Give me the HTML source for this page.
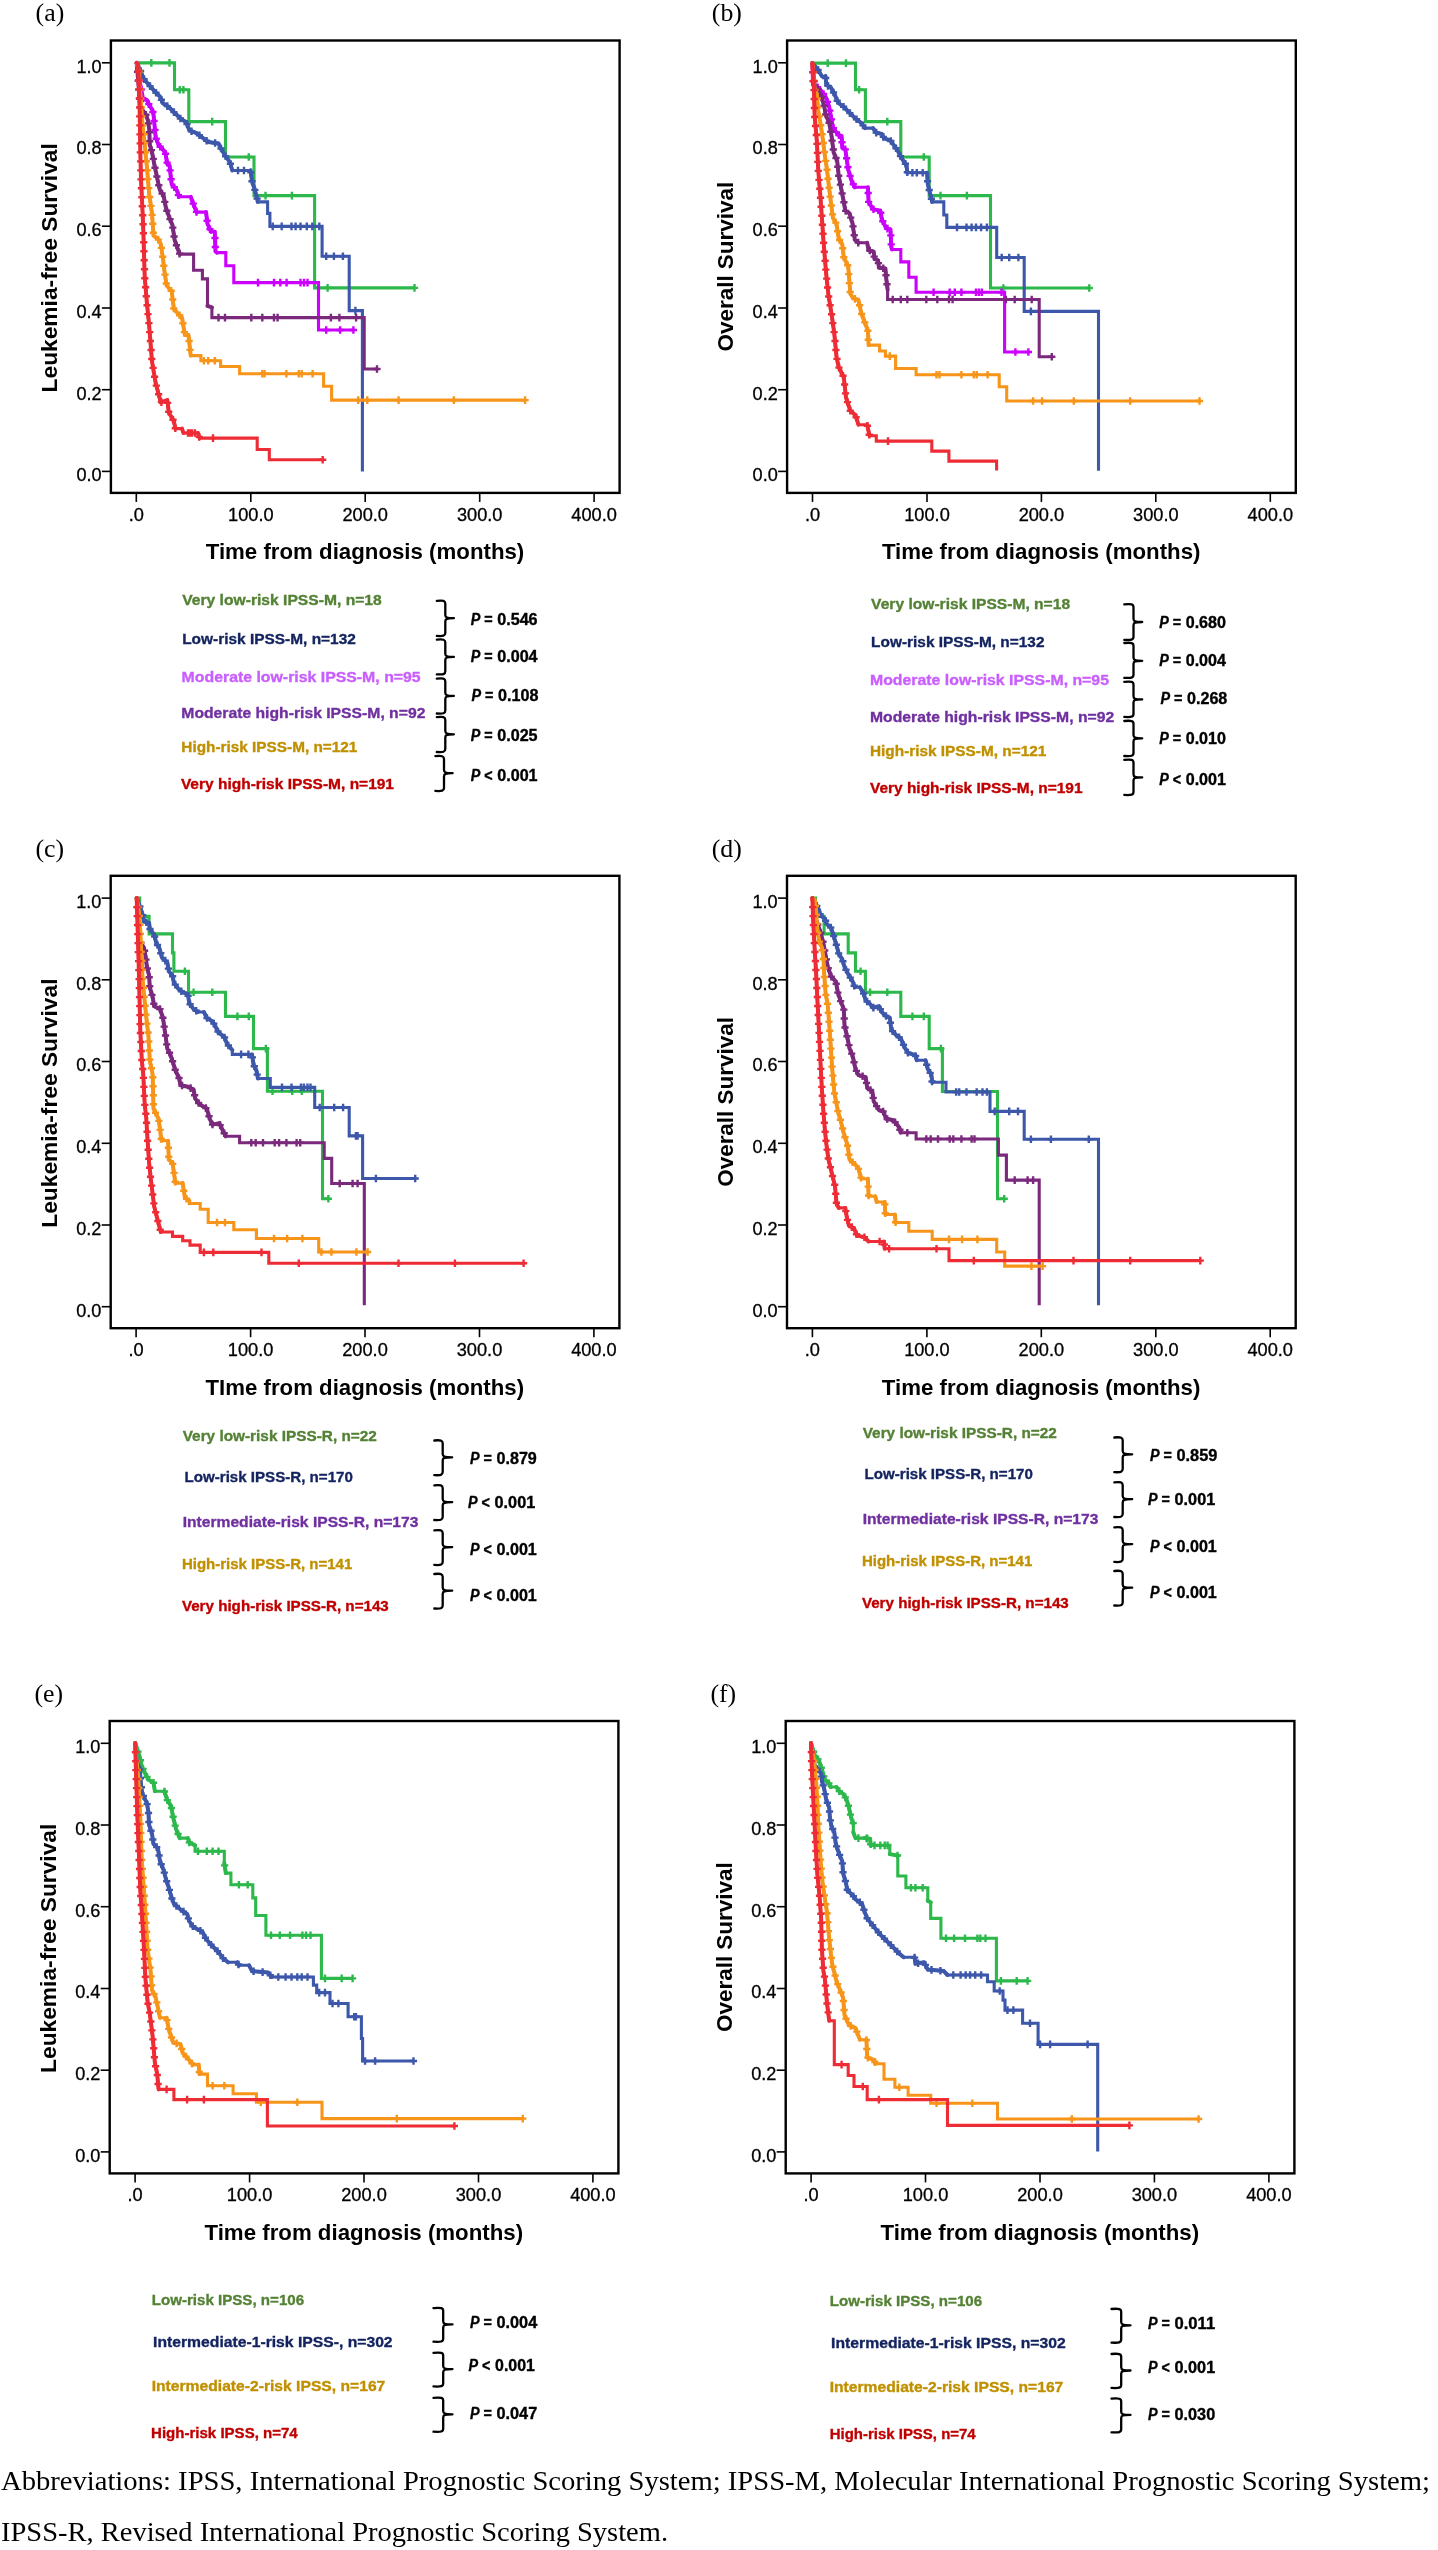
<!DOCTYPE html>
<html><head><meta charset="utf-8"><style>
html,body{margin:0;padding:0;background:#fff;}
body{width:1438px;height:2550px;overflow:hidden;}
svg{display:block;will-change:transform;}
</style></head><body>
<svg width="1438" height="2550" viewBox="0 0 1438 2550">
<rect width="1438" height="2550" fill="#fff"/>
<rect x="110.9" y="40.5" width="508.70000000000005" height="452.4" fill="none" stroke="#000" stroke-width="2.4"/>
<line x1="101.9" y1="471.4" x2="110.9" y2="471.4" stroke="#000" stroke-width="1.6"/>
<text x="101.6" y="481.3" font-family='"Liberation Sans", sans-serif' font-size="18.2" font-weight="normal" fill="#000" text-anchor="end" textLength="25.2" lengthAdjust="spacingAndGlyphs" stroke="#000" stroke-width="0.3">0.0</text>
<line x1="101.9" y1="389.7" x2="110.9" y2="389.7" stroke="#000" stroke-width="1.6"/>
<text x="101.6" y="399.6" font-family='"Liberation Sans", sans-serif' font-size="18.2" font-weight="normal" fill="#000" text-anchor="end" textLength="25.2" lengthAdjust="spacingAndGlyphs" stroke="#000" stroke-width="0.3">0.2</text>
<line x1="101.9" y1="308.0" x2="110.9" y2="308.0" stroke="#000" stroke-width="1.6"/>
<text x="101.6" y="317.9" font-family='"Liberation Sans", sans-serif' font-size="18.2" font-weight="normal" fill="#000" text-anchor="end" textLength="25.2" lengthAdjust="spacingAndGlyphs" stroke="#000" stroke-width="0.3">0.4</text>
<line x1="101.9" y1="226.2" x2="110.9" y2="226.2" stroke="#000" stroke-width="1.6"/>
<text x="101.6" y="236.1" font-family='"Liberation Sans", sans-serif' font-size="18.2" font-weight="normal" fill="#000" text-anchor="end" textLength="25.2" lengthAdjust="spacingAndGlyphs" stroke="#000" stroke-width="0.3">0.6</text>
<line x1="101.9" y1="144.5" x2="110.9" y2="144.5" stroke="#000" stroke-width="1.6"/>
<text x="101.6" y="154.4" font-family='"Liberation Sans", sans-serif' font-size="18.2" font-weight="normal" fill="#000" text-anchor="end" textLength="25.2" lengthAdjust="spacingAndGlyphs" stroke="#000" stroke-width="0.3">0.8</text>
<line x1="101.9" y1="62.8" x2="110.9" y2="62.8" stroke="#000" stroke-width="1.6"/>
<text x="101.6" y="72.7" font-family='"Liberation Sans", sans-serif' font-size="18.2" font-weight="normal" fill="#000" text-anchor="end" textLength="25.2" lengthAdjust="spacingAndGlyphs" stroke="#000" stroke-width="0.3">1.0</text>
<line x1="136.3" y1="492.9" x2="136.3" y2="501.9" stroke="#000" stroke-width="1.6"/>
<text x="136.3" y="520.9" font-family='"Liberation Sans", sans-serif' font-size="18.2" font-weight="normal" fill="#000" text-anchor="middle" stroke="#000" stroke-width="0.3">.0</text>
<line x1="250.8" y1="492.9" x2="250.8" y2="501.9" stroke="#000" stroke-width="1.6"/>
<text x="250.8" y="520.9" font-family='"Liberation Sans", sans-serif' font-size="18.2" font-weight="normal" fill="#000" text-anchor="middle" textLength="45.5" lengthAdjust="spacingAndGlyphs" stroke="#000" stroke-width="0.3">100.0</text>
<line x1="365.2" y1="492.9" x2="365.2" y2="501.9" stroke="#000" stroke-width="1.6"/>
<text x="365.2" y="520.9" font-family='"Liberation Sans", sans-serif' font-size="18.2" font-weight="normal" fill="#000" text-anchor="middle" textLength="45.5" lengthAdjust="spacingAndGlyphs" stroke="#000" stroke-width="0.3">200.0</text>
<line x1="479.7" y1="492.9" x2="479.7" y2="501.9" stroke="#000" stroke-width="1.6"/>
<text x="479.7" y="520.9" font-family='"Liberation Sans", sans-serif' font-size="18.2" font-weight="normal" fill="#000" text-anchor="middle" textLength="45.5" lengthAdjust="spacingAndGlyphs" stroke="#000" stroke-width="0.3">300.0</text>
<line x1="594.1" y1="492.9" x2="594.1" y2="501.9" stroke="#000" stroke-width="1.6"/>
<text x="594.1" y="520.9" font-family='"Liberation Sans", sans-serif' font-size="18.2" font-weight="normal" fill="#000" text-anchor="middle" textLength="45.5" lengthAdjust="spacingAndGlyphs" stroke="#000" stroke-width="0.3">400.0</text>
<text x="205.7" y="559.2" font-family='"Liberation Sans", sans-serif' font-size="22.4" font-weight="bold" fill="#000" text-anchor="start" textLength="318.6" lengthAdjust="spacingAndGlyphs" >Time from diagnosis (months)</text>
<g transform="translate(56.9,392.4) rotate(-90)">
<text x="0" y="0" font-family='"Liberation Sans", sans-serif' font-size="22.6" font-weight="bold" fill="#000" text-anchor="start" textLength="249.2" lengthAdjust="spacingAndGlyphs" >Leukemia-free Survival</text>
</g>
<text x="35.6" y="21.4" font-family='"Liberation Serif", serif' font-size="25.8" font-weight="normal" fill="#000" text-anchor="start" >(a)</text>
<rect x="787.1" y="40.5" width="508.70000000000016" height="452.4" fill="none" stroke="#000" stroke-width="2.4"/>
<line x1="778.1" y1="471.4" x2="787.1" y2="471.4" stroke="#000" stroke-width="1.6"/>
<text x="777.8000000000001" y="481.3" font-family='"Liberation Sans", sans-serif' font-size="18.2" font-weight="normal" fill="#000" text-anchor="end" textLength="25.2" lengthAdjust="spacingAndGlyphs" stroke="#000" stroke-width="0.3">0.0</text>
<line x1="778.1" y1="389.7" x2="787.1" y2="389.7" stroke="#000" stroke-width="1.6"/>
<text x="777.8000000000001" y="399.6" font-family='"Liberation Sans", sans-serif' font-size="18.2" font-weight="normal" fill="#000" text-anchor="end" textLength="25.2" lengthAdjust="spacingAndGlyphs" stroke="#000" stroke-width="0.3">0.2</text>
<line x1="778.1" y1="308.0" x2="787.1" y2="308.0" stroke="#000" stroke-width="1.6"/>
<text x="777.8000000000001" y="317.9" font-family='"Liberation Sans", sans-serif' font-size="18.2" font-weight="normal" fill="#000" text-anchor="end" textLength="25.2" lengthAdjust="spacingAndGlyphs" stroke="#000" stroke-width="0.3">0.4</text>
<line x1="778.1" y1="226.2" x2="787.1" y2="226.2" stroke="#000" stroke-width="1.6"/>
<text x="777.8000000000001" y="236.1" font-family='"Liberation Sans", sans-serif' font-size="18.2" font-weight="normal" fill="#000" text-anchor="end" textLength="25.2" lengthAdjust="spacingAndGlyphs" stroke="#000" stroke-width="0.3">0.6</text>
<line x1="778.1" y1="144.5" x2="787.1" y2="144.5" stroke="#000" stroke-width="1.6"/>
<text x="777.8000000000001" y="154.4" font-family='"Liberation Sans", sans-serif' font-size="18.2" font-weight="normal" fill="#000" text-anchor="end" textLength="25.2" lengthAdjust="spacingAndGlyphs" stroke="#000" stroke-width="0.3">0.8</text>
<line x1="778.1" y1="62.8" x2="787.1" y2="62.8" stroke="#000" stroke-width="1.6"/>
<text x="777.8000000000001" y="72.7" font-family='"Liberation Sans", sans-serif' font-size="18.2" font-weight="normal" fill="#000" text-anchor="end" textLength="25.2" lengthAdjust="spacingAndGlyphs" stroke="#000" stroke-width="0.3">1.0</text>
<line x1="812.5" y1="492.9" x2="812.5" y2="501.9" stroke="#000" stroke-width="1.6"/>
<text x="812.5" y="520.9" font-family='"Liberation Sans", sans-serif' font-size="18.2" font-weight="normal" fill="#000" text-anchor="middle" stroke="#000" stroke-width="0.3">.0</text>
<line x1="927.0" y1="492.9" x2="927.0" y2="501.9" stroke="#000" stroke-width="1.6"/>
<text x="927.0" y="520.9" font-family='"Liberation Sans", sans-serif' font-size="18.2" font-weight="normal" fill="#000" text-anchor="middle" textLength="45.5" lengthAdjust="spacingAndGlyphs" stroke="#000" stroke-width="0.3">100.0</text>
<line x1="1041.4" y1="492.9" x2="1041.4" y2="501.9" stroke="#000" stroke-width="1.6"/>
<text x="1041.4" y="520.9" font-family='"Liberation Sans", sans-serif' font-size="18.2" font-weight="normal" fill="#000" text-anchor="middle" textLength="45.5" lengthAdjust="spacingAndGlyphs" stroke="#000" stroke-width="0.3">200.0</text>
<line x1="1155.8" y1="492.9" x2="1155.8" y2="501.9" stroke="#000" stroke-width="1.6"/>
<text x="1155.8" y="520.9" font-family='"Liberation Sans", sans-serif' font-size="18.2" font-weight="normal" fill="#000" text-anchor="middle" textLength="45.5" lengthAdjust="spacingAndGlyphs" stroke="#000" stroke-width="0.3">300.0</text>
<line x1="1270.3" y1="492.9" x2="1270.3" y2="501.9" stroke="#000" stroke-width="1.6"/>
<text x="1270.3" y="520.9" font-family='"Liberation Sans", sans-serif' font-size="18.2" font-weight="normal" fill="#000" text-anchor="middle" textLength="45.5" lengthAdjust="spacingAndGlyphs" stroke="#000" stroke-width="0.3">400.0</text>
<text x="881.9000000000001" y="559.2" font-family='"Liberation Sans", sans-serif' font-size="22.4" font-weight="bold" fill="#000" text-anchor="start" textLength="318.6" lengthAdjust="spacingAndGlyphs" >Time from diagnosis (months)</text>
<g transform="translate(733.1,351.5) rotate(-90)">
<text x="0" y="0" font-family='"Liberation Sans", sans-serif' font-size="22.6" font-weight="bold" fill="#000" text-anchor="start" textLength="169.7" lengthAdjust="spacingAndGlyphs" >Overall Survival</text>
</g>
<text x="711.8000000000001" y="21.4" font-family='"Liberation Serif", serif' font-size="25.8" font-weight="normal" fill="#000" text-anchor="start" >(b)</text>
<rect x="110.7" y="875.8" width="508.7" height="452.39999999999986" fill="none" stroke="#000" stroke-width="2.4"/>
<line x1="101.7" y1="1306.7" x2="110.7" y2="1306.7" stroke="#000" stroke-width="1.6"/>
<text x="101.39999999999999" y="1316.6" font-family='"Liberation Sans", sans-serif' font-size="18.2" font-weight="normal" fill="#000" text-anchor="end" textLength="25.2" lengthAdjust="spacingAndGlyphs" stroke="#000" stroke-width="0.3">0.0</text>
<line x1="101.7" y1="1225.0" x2="110.7" y2="1225.0" stroke="#000" stroke-width="1.6"/>
<text x="101.39999999999999" y="1234.9" font-family='"Liberation Sans", sans-serif' font-size="18.2" font-weight="normal" fill="#000" text-anchor="end" textLength="25.2" lengthAdjust="spacingAndGlyphs" stroke="#000" stroke-width="0.3">0.2</text>
<line x1="101.7" y1="1143.3" x2="110.7" y2="1143.3" stroke="#000" stroke-width="1.6"/>
<text x="101.39999999999999" y="1153.2" font-family='"Liberation Sans", sans-serif' font-size="18.2" font-weight="normal" fill="#000" text-anchor="end" textLength="25.2" lengthAdjust="spacingAndGlyphs" stroke="#000" stroke-width="0.3">0.4</text>
<line x1="101.7" y1="1061.5" x2="110.7" y2="1061.5" stroke="#000" stroke-width="1.6"/>
<text x="101.39999999999999" y="1071.4" font-family='"Liberation Sans", sans-serif' font-size="18.2" font-weight="normal" fill="#000" text-anchor="end" textLength="25.2" lengthAdjust="spacingAndGlyphs" stroke="#000" stroke-width="0.3">0.6</text>
<line x1="101.7" y1="979.8" x2="110.7" y2="979.8" stroke="#000" stroke-width="1.6"/>
<text x="101.39999999999999" y="989.7" font-family='"Liberation Sans", sans-serif' font-size="18.2" font-weight="normal" fill="#000" text-anchor="end" textLength="25.2" lengthAdjust="spacingAndGlyphs" stroke="#000" stroke-width="0.3">0.8</text>
<line x1="101.7" y1="898.1" x2="110.7" y2="898.1" stroke="#000" stroke-width="1.6"/>
<text x="101.39999999999999" y="908.0" font-family='"Liberation Sans", sans-serif' font-size="18.2" font-weight="normal" fill="#000" text-anchor="end" textLength="25.2" lengthAdjust="spacingAndGlyphs" stroke="#000" stroke-width="0.3">1.0</text>
<line x1="136.1" y1="1328.1999999999998" x2="136.1" y2="1337.1999999999998" stroke="#000" stroke-width="1.6"/>
<text x="136.1" y="1356.1999999999998" font-family='"Liberation Sans", sans-serif' font-size="18.2" font-weight="normal" fill="#000" text-anchor="middle" stroke="#000" stroke-width="0.3">.0</text>
<line x1="250.6" y1="1328.1999999999998" x2="250.6" y2="1337.1999999999998" stroke="#000" stroke-width="1.6"/>
<text x="250.6" y="1356.1999999999998" font-family='"Liberation Sans", sans-serif' font-size="18.2" font-weight="normal" fill="#000" text-anchor="middle" textLength="45.5" lengthAdjust="spacingAndGlyphs" stroke="#000" stroke-width="0.3">100.0</text>
<line x1="365.0" y1="1328.1999999999998" x2="365.0" y2="1337.1999999999998" stroke="#000" stroke-width="1.6"/>
<text x="365.0" y="1356.1999999999998" font-family='"Liberation Sans", sans-serif' font-size="18.2" font-weight="normal" fill="#000" text-anchor="middle" textLength="45.5" lengthAdjust="spacingAndGlyphs" stroke="#000" stroke-width="0.3">200.0</text>
<line x1="479.5" y1="1328.1999999999998" x2="479.5" y2="1337.1999999999998" stroke="#000" stroke-width="1.6"/>
<text x="479.5" y="1356.1999999999998" font-family='"Liberation Sans", sans-serif' font-size="18.2" font-weight="normal" fill="#000" text-anchor="middle" textLength="45.5" lengthAdjust="spacingAndGlyphs" stroke="#000" stroke-width="0.3">300.0</text>
<line x1="593.9" y1="1328.1999999999998" x2="593.9" y2="1337.1999999999998" stroke="#000" stroke-width="1.6"/>
<text x="593.9" y="1356.1999999999998" font-family='"Liberation Sans", sans-serif' font-size="18.2" font-weight="normal" fill="#000" text-anchor="middle" textLength="45.5" lengthAdjust="spacingAndGlyphs" stroke="#000" stroke-width="0.3">400.0</text>
<text x="205.5" y="1394.5" font-family='"Liberation Sans", sans-serif' font-size="22.4" font-weight="bold" fill="#000" text-anchor="start" textLength="318.6" lengthAdjust="spacingAndGlyphs" >TIme from diagnosis (months)</text>
<g transform="translate(56.699999999999996,1227.6999999999998) rotate(-90)">
<text x="0" y="0" font-family='"Liberation Sans", sans-serif' font-size="22.6" font-weight="bold" fill="#000" text-anchor="start" textLength="249.2" lengthAdjust="spacingAndGlyphs" >Leukemia-free Survival</text>
</g>
<text x="35.4" y="856.6999999999999" font-family='"Liberation Serif", serif' font-size="25.8" font-weight="normal" fill="#000" text-anchor="start" >(c)</text>
<rect x="787.0" y="875.8" width="508.70000000000005" height="452.39999999999986" fill="none" stroke="#000" stroke-width="2.4"/>
<line x1="778.0" y1="1306.7" x2="787.0" y2="1306.7" stroke="#000" stroke-width="1.6"/>
<text x="777.7" y="1316.6" font-family='"Liberation Sans", sans-serif' font-size="18.2" font-weight="normal" fill="#000" text-anchor="end" textLength="25.2" lengthAdjust="spacingAndGlyphs" stroke="#000" stroke-width="0.3">0.0</text>
<line x1="778.0" y1="1225.0" x2="787.0" y2="1225.0" stroke="#000" stroke-width="1.6"/>
<text x="777.7" y="1234.9" font-family='"Liberation Sans", sans-serif' font-size="18.2" font-weight="normal" fill="#000" text-anchor="end" textLength="25.2" lengthAdjust="spacingAndGlyphs" stroke="#000" stroke-width="0.3">0.2</text>
<line x1="778.0" y1="1143.3" x2="787.0" y2="1143.3" stroke="#000" stroke-width="1.6"/>
<text x="777.7" y="1153.2" font-family='"Liberation Sans", sans-serif' font-size="18.2" font-weight="normal" fill="#000" text-anchor="end" textLength="25.2" lengthAdjust="spacingAndGlyphs" stroke="#000" stroke-width="0.3">0.4</text>
<line x1="778.0" y1="1061.5" x2="787.0" y2="1061.5" stroke="#000" stroke-width="1.6"/>
<text x="777.7" y="1071.4" font-family='"Liberation Sans", sans-serif' font-size="18.2" font-weight="normal" fill="#000" text-anchor="end" textLength="25.2" lengthAdjust="spacingAndGlyphs" stroke="#000" stroke-width="0.3">0.6</text>
<line x1="778.0" y1="979.8" x2="787.0" y2="979.8" stroke="#000" stroke-width="1.6"/>
<text x="777.7" y="989.7" font-family='"Liberation Sans", sans-serif' font-size="18.2" font-weight="normal" fill="#000" text-anchor="end" textLength="25.2" lengthAdjust="spacingAndGlyphs" stroke="#000" stroke-width="0.3">0.8</text>
<line x1="778.0" y1="898.1" x2="787.0" y2="898.1" stroke="#000" stroke-width="1.6"/>
<text x="777.7" y="908.0" font-family='"Liberation Sans", sans-serif' font-size="18.2" font-weight="normal" fill="#000" text-anchor="end" textLength="25.2" lengthAdjust="spacingAndGlyphs" stroke="#000" stroke-width="0.3">1.0</text>
<line x1="812.4" y1="1328.1999999999998" x2="812.4" y2="1337.1999999999998" stroke="#000" stroke-width="1.6"/>
<text x="812.4" y="1356.1999999999998" font-family='"Liberation Sans", sans-serif' font-size="18.2" font-weight="normal" fill="#000" text-anchor="middle" stroke="#000" stroke-width="0.3">.0</text>
<line x1="926.9" y1="1328.1999999999998" x2="926.9" y2="1337.1999999999998" stroke="#000" stroke-width="1.6"/>
<text x="926.9" y="1356.1999999999998" font-family='"Liberation Sans", sans-serif' font-size="18.2" font-weight="normal" fill="#000" text-anchor="middle" textLength="45.5" lengthAdjust="spacingAndGlyphs" stroke="#000" stroke-width="0.3">100.0</text>
<line x1="1041.3" y1="1328.1999999999998" x2="1041.3" y2="1337.1999999999998" stroke="#000" stroke-width="1.6"/>
<text x="1041.3" y="1356.1999999999998" font-family='"Liberation Sans", sans-serif' font-size="18.2" font-weight="normal" fill="#000" text-anchor="middle" textLength="45.5" lengthAdjust="spacingAndGlyphs" stroke="#000" stroke-width="0.3">200.0</text>
<line x1="1155.8" y1="1328.1999999999998" x2="1155.8" y2="1337.1999999999998" stroke="#000" stroke-width="1.6"/>
<text x="1155.8" y="1356.1999999999998" font-family='"Liberation Sans", sans-serif' font-size="18.2" font-weight="normal" fill="#000" text-anchor="middle" textLength="45.5" lengthAdjust="spacingAndGlyphs" stroke="#000" stroke-width="0.3">300.0</text>
<line x1="1270.2" y1="1328.1999999999998" x2="1270.2" y2="1337.1999999999998" stroke="#000" stroke-width="1.6"/>
<text x="1270.2" y="1356.1999999999998" font-family='"Liberation Sans", sans-serif' font-size="18.2" font-weight="normal" fill="#000" text-anchor="middle" textLength="45.5" lengthAdjust="spacingAndGlyphs" stroke="#000" stroke-width="0.3">400.0</text>
<text x="881.8" y="1394.5" font-family='"Liberation Sans", sans-serif' font-size="22.4" font-weight="bold" fill="#000" text-anchor="start" textLength="318.6" lengthAdjust="spacingAndGlyphs" >Time from diagnosis (months)</text>
<g transform="translate(733.0,1186.8) rotate(-90)">
<text x="0" y="0" font-family='"Liberation Sans", sans-serif' font-size="22.6" font-weight="bold" fill="#000" text-anchor="start" textLength="169.7" lengthAdjust="spacingAndGlyphs" >Overall Survival</text>
</g>
<text x="711.7" y="856.6999999999999" font-family='"Liberation Serif", serif' font-size="25.8" font-weight="normal" fill="#000" text-anchor="start" >(d)</text>
<rect x="109.7" y="1721.0" width="508.7" height="452.4000000000001" fill="none" stroke="#000" stroke-width="2.4"/>
<line x1="100.7" y1="2151.9" x2="109.7" y2="2151.9" stroke="#000" stroke-width="1.6"/>
<text x="100.39999999999999" y="2161.8" font-family='"Liberation Sans", sans-serif' font-size="18.2" font-weight="normal" fill="#000" text-anchor="end" textLength="25.2" lengthAdjust="spacingAndGlyphs" stroke="#000" stroke-width="0.3">0.0</text>
<line x1="100.7" y1="2070.2" x2="109.7" y2="2070.2" stroke="#000" stroke-width="1.6"/>
<text x="100.39999999999999" y="2080.1" font-family='"Liberation Sans", sans-serif' font-size="18.2" font-weight="normal" fill="#000" text-anchor="end" textLength="25.2" lengthAdjust="spacingAndGlyphs" stroke="#000" stroke-width="0.3">0.2</text>
<line x1="100.7" y1="1988.5" x2="109.7" y2="1988.5" stroke="#000" stroke-width="1.6"/>
<text x="100.39999999999999" y="1998.4" font-family='"Liberation Sans", sans-serif' font-size="18.2" font-weight="normal" fill="#000" text-anchor="end" textLength="25.2" lengthAdjust="spacingAndGlyphs" stroke="#000" stroke-width="0.3">0.4</text>
<line x1="100.7" y1="1906.7" x2="109.7" y2="1906.7" stroke="#000" stroke-width="1.6"/>
<text x="100.39999999999999" y="1916.6" font-family='"Liberation Sans", sans-serif' font-size="18.2" font-weight="normal" fill="#000" text-anchor="end" textLength="25.2" lengthAdjust="spacingAndGlyphs" stroke="#000" stroke-width="0.3">0.6</text>
<line x1="100.7" y1="1825.0" x2="109.7" y2="1825.0" stroke="#000" stroke-width="1.6"/>
<text x="100.39999999999999" y="1834.9" font-family='"Liberation Sans", sans-serif' font-size="18.2" font-weight="normal" fill="#000" text-anchor="end" textLength="25.2" lengthAdjust="spacingAndGlyphs" stroke="#000" stroke-width="0.3">0.8</text>
<line x1="100.7" y1="1743.3" x2="109.7" y2="1743.3" stroke="#000" stroke-width="1.6"/>
<text x="100.39999999999999" y="1753.2" font-family='"Liberation Sans", sans-serif' font-size="18.2" font-weight="normal" fill="#000" text-anchor="end" textLength="25.2" lengthAdjust="spacingAndGlyphs" stroke="#000" stroke-width="0.3">1.0</text>
<line x1="135.1" y1="2173.4" x2="135.1" y2="2182.4" stroke="#000" stroke-width="1.6"/>
<text x="135.1" y="2201.4" font-family='"Liberation Sans", sans-serif' font-size="18.2" font-weight="normal" fill="#000" text-anchor="middle" stroke="#000" stroke-width="0.3">.0</text>
<line x1="249.6" y1="2173.4" x2="249.6" y2="2182.4" stroke="#000" stroke-width="1.6"/>
<text x="249.6" y="2201.4" font-family='"Liberation Sans", sans-serif' font-size="18.2" font-weight="normal" fill="#000" text-anchor="middle" textLength="45.5" lengthAdjust="spacingAndGlyphs" stroke="#000" stroke-width="0.3">100.0</text>
<line x1="364.0" y1="2173.4" x2="364.0" y2="2182.4" stroke="#000" stroke-width="1.6"/>
<text x="364.0" y="2201.4" font-family='"Liberation Sans", sans-serif' font-size="18.2" font-weight="normal" fill="#000" text-anchor="middle" textLength="45.5" lengthAdjust="spacingAndGlyphs" stroke="#000" stroke-width="0.3">200.0</text>
<line x1="478.5" y1="2173.4" x2="478.5" y2="2182.4" stroke="#000" stroke-width="1.6"/>
<text x="478.5" y="2201.4" font-family='"Liberation Sans", sans-serif' font-size="18.2" font-weight="normal" fill="#000" text-anchor="middle" textLength="45.5" lengthAdjust="spacingAndGlyphs" stroke="#000" stroke-width="0.3">300.0</text>
<line x1="592.9" y1="2173.4" x2="592.9" y2="2182.4" stroke="#000" stroke-width="1.6"/>
<text x="592.9" y="2201.4" font-family='"Liberation Sans", sans-serif' font-size="18.2" font-weight="normal" fill="#000" text-anchor="middle" textLength="45.5" lengthAdjust="spacingAndGlyphs" stroke="#000" stroke-width="0.3">400.0</text>
<text x="204.5" y="2239.7" font-family='"Liberation Sans", sans-serif' font-size="22.4" font-weight="bold" fill="#000" text-anchor="start" textLength="318.6" lengthAdjust="spacingAndGlyphs" >Time from diagnosis (months)</text>
<g transform="translate(55.699999999999996,2072.9) rotate(-90)">
<text x="0" y="0" font-family='"Liberation Sans", sans-serif' font-size="22.6" font-weight="bold" fill="#000" text-anchor="start" textLength="249.2" lengthAdjust="spacingAndGlyphs" >Leukemia-free Survival</text>
</g>
<text x="34.4" y="1701.9" font-family='"Liberation Serif", serif' font-size="25.8" font-weight="normal" fill="#000" text-anchor="start" >(e)</text>
<rect x="785.6999999999999" y="1721.0" width="508.70000000000016" height="452.4000000000001" fill="none" stroke="#000" stroke-width="2.4"/>
<line x1="776.6999999999999" y1="2151.9" x2="785.6999999999999" y2="2151.9" stroke="#000" stroke-width="1.6"/>
<text x="776.4" y="2161.8" font-family='"Liberation Sans", sans-serif' font-size="18.2" font-weight="normal" fill="#000" text-anchor="end" textLength="25.2" lengthAdjust="spacingAndGlyphs" stroke="#000" stroke-width="0.3">0.0</text>
<line x1="776.6999999999999" y1="2070.2" x2="785.6999999999999" y2="2070.2" stroke="#000" stroke-width="1.6"/>
<text x="776.4" y="2080.1" font-family='"Liberation Sans", sans-serif' font-size="18.2" font-weight="normal" fill="#000" text-anchor="end" textLength="25.2" lengthAdjust="spacingAndGlyphs" stroke="#000" stroke-width="0.3">0.2</text>
<line x1="776.6999999999999" y1="1988.5" x2="785.6999999999999" y2="1988.5" stroke="#000" stroke-width="1.6"/>
<text x="776.4" y="1998.4" font-family='"Liberation Sans", sans-serif' font-size="18.2" font-weight="normal" fill="#000" text-anchor="end" textLength="25.2" lengthAdjust="spacingAndGlyphs" stroke="#000" stroke-width="0.3">0.4</text>
<line x1="776.6999999999999" y1="1906.7" x2="785.6999999999999" y2="1906.7" stroke="#000" stroke-width="1.6"/>
<text x="776.4" y="1916.6" font-family='"Liberation Sans", sans-serif' font-size="18.2" font-weight="normal" fill="#000" text-anchor="end" textLength="25.2" lengthAdjust="spacingAndGlyphs" stroke="#000" stroke-width="0.3">0.6</text>
<line x1="776.6999999999999" y1="1825.0" x2="785.6999999999999" y2="1825.0" stroke="#000" stroke-width="1.6"/>
<text x="776.4" y="1834.9" font-family='"Liberation Sans", sans-serif' font-size="18.2" font-weight="normal" fill="#000" text-anchor="end" textLength="25.2" lengthAdjust="spacingAndGlyphs" stroke="#000" stroke-width="0.3">0.8</text>
<line x1="776.6999999999999" y1="1743.3" x2="785.6999999999999" y2="1743.3" stroke="#000" stroke-width="1.6"/>
<text x="776.4" y="1753.2" font-family='"Liberation Sans", sans-serif' font-size="18.2" font-weight="normal" fill="#000" text-anchor="end" textLength="25.2" lengthAdjust="spacingAndGlyphs" stroke="#000" stroke-width="0.3">1.0</text>
<line x1="811.1" y1="2173.4" x2="811.1" y2="2182.4" stroke="#000" stroke-width="1.6"/>
<text x="811.1" y="2201.4" font-family='"Liberation Sans", sans-serif' font-size="18.2" font-weight="normal" fill="#000" text-anchor="middle" stroke="#000" stroke-width="0.3">.0</text>
<line x1="925.5" y1="2173.4" x2="925.5" y2="2182.4" stroke="#000" stroke-width="1.6"/>
<text x="925.5" y="2201.4" font-family='"Liberation Sans", sans-serif' font-size="18.2" font-weight="normal" fill="#000" text-anchor="middle" textLength="45.5" lengthAdjust="spacingAndGlyphs" stroke="#000" stroke-width="0.3">100.0</text>
<line x1="1040.0" y1="2173.4" x2="1040.0" y2="2182.4" stroke="#000" stroke-width="1.6"/>
<text x="1040.0" y="2201.4" font-family='"Liberation Sans", sans-serif' font-size="18.2" font-weight="normal" fill="#000" text-anchor="middle" textLength="45.5" lengthAdjust="spacingAndGlyphs" stroke="#000" stroke-width="0.3">200.0</text>
<line x1="1154.4" y1="2173.4" x2="1154.4" y2="2182.4" stroke="#000" stroke-width="1.6"/>
<text x="1154.4" y="2201.4" font-family='"Liberation Sans", sans-serif' font-size="18.2" font-weight="normal" fill="#000" text-anchor="middle" textLength="45.5" lengthAdjust="spacingAndGlyphs" stroke="#000" stroke-width="0.3">300.0</text>
<line x1="1268.9" y1="2173.4" x2="1268.9" y2="2182.4" stroke="#000" stroke-width="1.6"/>
<text x="1268.9" y="2201.4" font-family='"Liberation Sans", sans-serif' font-size="18.2" font-weight="normal" fill="#000" text-anchor="middle" textLength="45.5" lengthAdjust="spacingAndGlyphs" stroke="#000" stroke-width="0.3">400.0</text>
<text x="880.5" y="2239.7" font-family='"Liberation Sans", sans-serif' font-size="22.4" font-weight="bold" fill="#000" text-anchor="start" textLength="318.6" lengthAdjust="spacingAndGlyphs" >Time from diagnosis (months)</text>
<g transform="translate(731.6999999999999,2032.0) rotate(-90)">
<text x="0" y="0" font-family='"Liberation Sans", sans-serif' font-size="22.6" font-weight="bold" fill="#000" text-anchor="start" textLength="169.7" lengthAdjust="spacingAndGlyphs" >Overall Survival</text>
</g>
<text x="710.4" y="1701.9" font-family='"Liberation Serif", serif' font-size="25.8" font-weight="normal" fill="#000" text-anchor="start" >(f)</text>
<path d="M136.7,62.9 L174.5,62.9 L174.5,89.8 L188.8,89.8 L188.8,121.6 L225.5,121.6 L225.5,157.0 L254.0,157.0 L254.0,195.6 L314.6,195.6 L314.6,287.9 L414.5,287.9" fill="none" stroke="#2db84b" stroke-width="3.1" stroke-linejoin="miter" stroke-miterlimit="2"/>
<path d="M151.3,59.1V66.7M147.7,62.9H154.9" stroke="#2db84b" stroke-width="2.4" fill="none"/>
<path d="M169.5,59.1V66.7M165.9,62.9H173.1" stroke="#2db84b" stroke-width="2.4" fill="none"/>
<path d="M179.8,86.0V93.6M176.2,89.8H183.4" stroke="#2db84b" stroke-width="2.4" fill="none"/>
<path d="M183.4,86.0V93.6M179.8,89.8H187.0" stroke="#2db84b" stroke-width="2.4" fill="none"/>
<path d="M212.2,117.8V125.4M208.6,121.6H215.8" stroke="#2db84b" stroke-width="2.4" fill="none"/>
<path d="M248.8,153.2V160.8M245.2,157.0H252.4" stroke="#2db84b" stroke-width="2.4" fill="none"/>
<path d="M265.5,191.8V199.4M261.9,195.6H269.1" stroke="#2db84b" stroke-width="2.4" fill="none"/>
<path d="M291.9,191.8V199.4M288.3,195.6H295.5" stroke="#2db84b" stroke-width="2.4" fill="none"/>
<path d="M327.6,284.1V291.7M324.0,287.9H331.2" stroke="#2db84b" stroke-width="2.4" fill="none"/>
<path d="M414.5,284.1V291.7M410.9,287.9H418.1" stroke="#2db84b" stroke-width="2.4" fill="none"/>
<path d="M136.7,62.9 L141.0,71.9 L144.0,79.2 L149.1,85.0 L154.2,90.9 L160.0,96.7 L163.0,103.3 L168.8,107.0 L174.6,112.8 L180.5,118.6 L186.3,122.3 L189.3,130.3 L196.6,133.2 L202.4,137.6 L208.2,142.0 L218.5,143.5 L221.4,149.3 L225.8,156.6 L230.1,162.4 L232.3,170.5 L250.6,170.5 L252.0,181.4 L255.0,190.2 L257.9,201.9 L267.6,201.9 L267.6,213.4 L269.9,213.4 L269.9,226.4 L322.1,226.4 L322.1,256.3 L349.2,256.3 L349.2,310.6 L362.4,310.6 L362.4,471.4" fill="none" stroke="#3d58ab" stroke-width="3.1" stroke-linejoin="miter" stroke-miterlimit="2"/>
<path d="M136.7,62.9 L141.0,71.9 M141.0,71.9 L144.0,79.2 M144.0,79.2 L149.1,85.0 M149.1,85.0 L154.2,90.9 M154.2,90.9 L160.0,96.7 M160.0,96.7 L163.0,103.3 M163.0,103.3 L168.8,107.0 M168.8,107.0 L174.6,112.8 M174.6,112.8 L180.5,118.6 M180.5,118.6 L186.3,122.3 M186.3,122.3 L189.3,130.3 M189.3,130.3 L196.6,133.2 M196.6,133.2 L202.4,137.6 M202.4,137.6 L208.2,142.0 M208.2,142.0 L218.5,143.5 M218.5,143.5 L221.4,149.3 M221.4,149.3 L225.8,156.6 M225.8,156.6 L230.1,162.4 M230.1,162.4 L232.3,170.5 M250.6,170.5 L252.0,181.4 M252.0,181.4 L255.0,190.2 M255.0,190.2 L257.9,201.9" fill="none" stroke="#3d58ab" stroke-width="4.0" stroke-linecap="round"/>
<path d="M140.6,67.2V74.8M137.0,71.0H144.2" stroke="#3d58ab" stroke-width="2.4" fill="none"/>
<path d="M144.1,75.5V83.1M140.5,79.3H147.7" stroke="#3d58ab" stroke-width="2.4" fill="none"/>
<path d="M150.0,82.3V89.9M146.4,86.1H153.6" stroke="#3d58ab" stroke-width="2.4" fill="none"/>
<path d="M156.0,88.9V96.5M152.4,92.7H159.6" stroke="#3d58ab" stroke-width="2.4" fill="none"/>
<path d="M161.4,96.0V103.6M157.8,99.8H165.0" stroke="#3d58ab" stroke-width="2.4" fill="none"/>
<path d="M167.3,102.3V109.9M163.7,106.1H170.9" stroke="#3d58ab" stroke-width="2.4" fill="none"/>
<path d="M173.9,108.3V115.9M170.3,112.1H177.5" stroke="#3d58ab" stroke-width="2.4" fill="none"/>
<path d="M180.4,114.7V122.3M176.8,118.5H184.0" stroke="#3d58ab" stroke-width="2.4" fill="none"/>
<path d="M187.0,120.3V127.9M183.4,124.1H190.6" stroke="#3d58ab" stroke-width="2.4" fill="none"/>
<path d="M191.5,127.4V135.0M187.9,131.2H195.1" stroke="#3d58ab" stroke-width="2.4" fill="none"/>
<path d="M199.4,131.5V139.1M195.8,135.3H203.0" stroke="#3d58ab" stroke-width="2.4" fill="none"/>
<path d="M206.6,137.0V144.6M203.0,140.8H210.2" stroke="#3d58ab" stroke-width="2.4" fill="none"/>
<path d="M215.1,139.2V146.8M211.5,143.0H218.7" stroke="#3d58ab" stroke-width="2.4" fill="none"/>
<path d="M221.0,144.7V152.3M217.4,148.5H224.6" stroke="#3d58ab" stroke-width="2.4" fill="none"/>
<path d="M225.6,152.4V160.0M222.0,156.2H229.2" stroke="#3d58ab" stroke-width="2.4" fill="none"/>
<path d="M230.4,159.9V167.5M226.8,163.7H234.0" stroke="#3d58ab" stroke-width="2.4" fill="none"/>
<path d="M250.8,168.6V176.2M247.2,172.4H254.4" stroke="#3d58ab" stroke-width="2.4" fill="none"/>
<path d="M252.0,177.5V185.1M248.4,181.3H255.6" stroke="#3d58ab" stroke-width="2.4" fill="none"/>
<path d="M254.9,186.1V193.7M251.3,189.9H258.5" stroke="#3d58ab" stroke-width="2.4" fill="none"/>
<path d="M257.1,194.8V202.4M253.5,198.6H260.7" stroke="#3d58ab" stroke-width="2.4" fill="none"/>
<path d="M238.0,166.7V174.3M234.4,170.5H241.6" stroke="#3d58ab" stroke-width="2.4" fill="none"/>
<path d="M244.0,166.7V174.3M240.4,170.5H247.6" stroke="#3d58ab" stroke-width="2.4" fill="none"/>
<path d="M272.7,222.6V230.2M269.1,226.4H276.3" stroke="#3d58ab" stroke-width="2.4" fill="none"/>
<path d="M281.7,222.6V230.2M278.1,226.4H285.3" stroke="#3d58ab" stroke-width="2.4" fill="none"/>
<path d="M291.5,222.6V230.2M287.9,226.4H295.1" stroke="#3d58ab" stroke-width="2.4" fill="none"/>
<path d="M295.6,222.6V230.2M292.0,226.4H299.2" stroke="#3d58ab" stroke-width="2.4" fill="none"/>
<path d="M300.5,222.6V230.2M296.9,226.4H304.1" stroke="#3d58ab" stroke-width="2.4" fill="none"/>
<path d="M306.8,222.6V230.2M303.2,226.4H310.4" stroke="#3d58ab" stroke-width="2.4" fill="none"/>
<path d="M312.3,222.6V230.2M308.7,226.4H315.9" stroke="#3d58ab" stroke-width="2.4" fill="none"/>
<path d="M319.3,222.6V230.2M315.7,226.4H322.9" stroke="#3d58ab" stroke-width="2.4" fill="none"/>
<path d="M326.2,252.5V260.1M322.6,256.3H329.8" stroke="#3d58ab" stroke-width="2.4" fill="none"/>
<path d="M333.9,252.5V260.1M330.3,256.3H337.5" stroke="#3d58ab" stroke-width="2.4" fill="none"/>
<path d="M342.9,252.5V260.1M339.3,256.3H346.5" stroke="#3d58ab" stroke-width="2.4" fill="none"/>
<path d="M355.4,306.8V314.4M351.8,310.6H359.0" stroke="#3d58ab" stroke-width="2.4" fill="none"/>
<path d="M136.7,62.9 L140.8,87.5 L143.0,98.8 L146.8,100.0 L149.3,105.0 L152.4,110.0 L153.5,114.3 L155.7,137.6 L158.6,144.9 L165.2,152.2 L167.3,163.9 L169.5,165.4 L171.7,184.3 L176.8,190.2 L179.0,196.8 L190.7,196.8 L193.6,204.8 L196.6,212.1 L206.0,212.1 L207.5,223.8 L211.2,231.8 L214.8,231.8 L215.5,251.5 L217.0,252.6 L225.8,252.6 L225.8,265.8 L233.8,265.8 L233.8,282.6 L318.5,282.6 L318.5,330.0 L353.4,330.0" fill="none" stroke="#cc00ff" stroke-width="3.1" stroke-linejoin="miter" stroke-miterlimit="2"/>
<path d="M136.7,62.9 L140.8,87.5 M140.8,87.5 L143.0,98.8 M143.0,98.8 L146.8,100.0 M146.8,100.0 L149.3,105.0 M149.3,105.0 L152.4,110.0 M152.4,110.0 L153.5,114.3 M153.5,114.3 L155.7,137.6 M155.7,137.6 L158.6,144.9 M158.6,144.9 L165.2,152.2 M165.2,152.2 L167.3,163.9 M167.3,163.9 L169.5,165.4 M169.5,165.4 L171.7,184.3 M171.7,184.3 L176.8,190.2 M176.8,190.2 L179.0,196.8 M190.7,196.8 L193.6,204.8 M193.6,204.8 L196.6,212.1 M206.0,212.1 L207.5,223.8 M207.5,223.8 L211.2,231.8 M214.8,231.8 L215.5,251.5 M215.5,251.5 L217.0,252.6" fill="none" stroke="#cc00ff" stroke-width="4.0" stroke-linecap="round"/>
<path d="M138.2,68.0V75.6M134.6,71.8H141.8" stroke="#cc00ff" stroke-width="2.4" fill="none"/>
<path d="M139.7,76.9V84.5M136.1,80.7H143.3" stroke="#cc00ff" stroke-width="2.4" fill="none"/>
<path d="M141.2,85.7V93.3M137.6,89.5H144.8" stroke="#cc00ff" stroke-width="2.4" fill="none"/>
<path d="M142.9,94.6V102.2M139.3,98.4H146.5" stroke="#cc00ff" stroke-width="2.4" fill="none"/>
<path d="M148.8,100.3V107.9M145.2,104.1H152.4" stroke="#cc00ff" stroke-width="2.4" fill="none"/>
<path d="M152.9,108.2V115.8M149.3,112.0H156.5" stroke="#cc00ff" stroke-width="2.4" fill="none"/>
<path d="M154.1,117.1V124.7M150.5,120.9H157.7" stroke="#cc00ff" stroke-width="2.4" fill="none"/>
<path d="M155.0,126.1V133.7M151.4,129.9H158.6" stroke="#cc00ff" stroke-width="2.4" fill="none"/>
<path d="M156.2,135.0V142.6M152.6,138.8H159.8" stroke="#cc00ff" stroke-width="2.4" fill="none"/>
<path d="M160.2,142.9V150.5M156.6,146.7H163.8" stroke="#cc00ff" stroke-width="2.4" fill="none"/>
<path d="M165.5,149.9V157.5M161.9,153.7H169.1" stroke="#cc00ff" stroke-width="2.4" fill="none"/>
<path d="M167.1,158.8V166.4M163.5,162.6H170.7" stroke="#cc00ff" stroke-width="2.4" fill="none"/>
<path d="M170.1,166.6V174.2M166.5,170.4H173.7" stroke="#cc00ff" stroke-width="2.4" fill="none"/>
<path d="M171.1,175.5V183.1M167.5,179.3H174.7" stroke="#cc00ff" stroke-width="2.4" fill="none"/>
<path d="M174.3,183.5V191.1M170.7,187.3H177.9" stroke="#cc00ff" stroke-width="2.4" fill="none"/>
<path d="M178.4,191.3V198.9M174.8,195.1H182.0" stroke="#cc00ff" stroke-width="2.4" fill="none"/>
<path d="M193.2,199.8V207.4M189.6,203.6H196.8" stroke="#cc00ff" stroke-width="2.4" fill="none"/>
<path d="M196.5,208.1V215.7M192.9,211.9H200.1" stroke="#cc00ff" stroke-width="2.4" fill="none"/>
<path d="M207.1,217.0V224.6M203.5,220.8H210.7" stroke="#cc00ff" stroke-width="2.4" fill="none"/>
<path d="M210.0,225.5V233.1M206.4,229.3H213.6" stroke="#cc00ff" stroke-width="2.4" fill="none"/>
<path d="M215.0,234.2V241.8M211.4,238.0H218.6" stroke="#cc00ff" stroke-width="2.4" fill="none"/>
<path d="M215.3,243.2V250.8M211.7,247.0H218.9" stroke="#cc00ff" stroke-width="2.4" fill="none"/>
<path d="M258.0,278.8V286.4M254.4,282.6H261.6" stroke="#cc00ff" stroke-width="2.4" fill="none"/>
<path d="M274.0,278.8V286.4M270.4,282.6H277.6" stroke="#cc00ff" stroke-width="2.4" fill="none"/>
<path d="M280.3,278.8V286.4M276.7,282.6H283.9" stroke="#cc00ff" stroke-width="2.4" fill="none"/>
<path d="M286.6,278.8V286.4M283.0,282.6H290.2" stroke="#cc00ff" stroke-width="2.4" fill="none"/>
<path d="M300.5,278.8V286.4M296.9,282.6H304.1" stroke="#cc00ff" stroke-width="2.4" fill="none"/>
<path d="M304.0,278.8V286.4M300.4,282.6H307.6" stroke="#cc00ff" stroke-width="2.4" fill="none"/>
<path d="M307.5,278.8V286.4M303.9,282.6H311.1" stroke="#cc00ff" stroke-width="2.4" fill="none"/>
<path d="M326.2,326.2V333.8M322.6,330.0H329.8" stroke="#cc00ff" stroke-width="2.4" fill="none"/>
<path d="M340.1,326.2V333.8M336.5,330.0H343.7" stroke="#cc00ff" stroke-width="2.4" fill="none"/>
<path d="M353.4,326.2V333.8M349.8,330.0H357.0" stroke="#cc00ff" stroke-width="2.4" fill="none"/>
<path d="M136.7,62.9 L140.5,108.2 L143.6,111.3 L146.1,115.1 L148.0,120.7 L149.3,130.1 L149.8,144.9 L152.0,152.2 L154.2,163.9 L156.4,174.1 L157.9,181.4 L160.0,190.2 L163.7,196.0 L165.9,207.7 L169.5,217.9 L172.5,225.2 L174.6,239.8 L177.6,248.6 L179.8,254.1 L193.6,254.1 L193.6,270.2 L202.4,270.2 L202.4,278.9 L207.5,278.9 L207.5,305.9 L211.9,307.4 L211.9,317.6 L364.2,317.6 L364.2,369.0 L377.0,369.0" fill="none" stroke="#7b297d" stroke-width="3.1" stroke-linejoin="miter" stroke-miterlimit="2"/>
<path d="M136.7,62.9 L140.5,108.2 M140.5,108.2 L143.6,111.3 M143.6,111.3 L146.1,115.1 M146.1,115.1 L148.0,120.7 M148.0,120.7 L149.3,130.1 M149.3,130.1 L149.8,144.9 M149.8,144.9 L152.0,152.2 M152.0,152.2 L154.2,163.9 M154.2,163.9 L156.4,174.1 M156.4,174.1 L157.9,181.4 M157.9,181.4 L160.0,190.2 M160.0,190.2 L163.7,196.0 M163.7,196.0 L165.9,207.7 M165.9,207.7 L169.5,217.9 M169.5,217.9 L172.5,225.2 M172.5,225.2 L174.6,239.8 M174.6,239.8 L177.6,248.6 M177.6,248.6 L179.8,254.1 M207.5,305.9 L211.9,307.4" fill="none" stroke="#7b297d" stroke-width="4.0" stroke-linecap="round"/>
<path d="M137.5,68.1V75.7M133.9,71.9H141.1" stroke="#7b297d" stroke-width="2.4" fill="none"/>
<path d="M138.2,77.0V84.6M134.6,80.8H141.8" stroke="#7b297d" stroke-width="2.4" fill="none"/>
<path d="M139.0,86.0V93.6M135.4,89.8H142.6" stroke="#7b297d" stroke-width="2.4" fill="none"/>
<path d="M139.7,95.0V102.6M136.1,98.8H143.3" stroke="#7b297d" stroke-width="2.4" fill="none"/>
<path d="M140.5,103.9V111.5M136.9,107.7H144.1" stroke="#7b297d" stroke-width="2.4" fill="none"/>
<path d="M145.9,111.0V118.6M142.3,114.8H149.5" stroke="#7b297d" stroke-width="2.4" fill="none"/>
<path d="M148.4,119.6V127.2M144.8,123.4H152.0" stroke="#7b297d" stroke-width="2.4" fill="none"/>
<path d="M149.4,128.5V136.1M145.8,132.3H153.0" stroke="#7b297d" stroke-width="2.4" fill="none"/>
<path d="M149.7,137.5V145.1M146.1,141.3H153.3" stroke="#7b297d" stroke-width="2.4" fill="none"/>
<path d="M151.4,146.3V153.9M147.8,150.1H155.0" stroke="#7b297d" stroke-width="2.4" fill="none"/>
<path d="M153.3,155.1V162.7M149.7,158.9H156.9" stroke="#7b297d" stroke-width="2.4" fill="none"/>
<path d="M155.0,163.9V171.5M151.4,167.7H158.6" stroke="#7b297d" stroke-width="2.4" fill="none"/>
<path d="M156.9,172.7V180.3M153.3,176.5H160.5" stroke="#7b297d" stroke-width="2.4" fill="none"/>
<path d="M158.8,181.5V189.1M155.2,185.3H162.4" stroke="#7b297d" stroke-width="2.4" fill="none"/>
<path d="M162.1,189.7V197.3M158.5,193.5H165.7" stroke="#7b297d" stroke-width="2.4" fill="none"/>
<path d="M164.8,198.1V205.7M161.2,201.9H168.4" stroke="#7b297d" stroke-width="2.4" fill="none"/>
<path d="M166.9,206.9V214.5M163.3,210.7H170.5" stroke="#7b297d" stroke-width="2.4" fill="none"/>
<path d="M170.0,215.3V222.9M166.4,219.1H173.6" stroke="#7b297d" stroke-width="2.4" fill="none"/>
<path d="M172.8,223.8V231.4M169.2,227.6H176.4" stroke="#7b297d" stroke-width="2.4" fill="none"/>
<path d="M174.1,232.7V240.3M170.5,236.5H177.7" stroke="#7b297d" stroke-width="2.4" fill="none"/>
<path d="M176.4,241.4V249.0M172.8,245.2H180.0" stroke="#7b297d" stroke-width="2.4" fill="none"/>
<path d="M179.6,249.8V257.4M176.0,253.6H183.2" stroke="#7b297d" stroke-width="2.4" fill="none"/>
<path d="M218.5,313.8V321.4M214.9,317.6H222.1" stroke="#7b297d" stroke-width="2.4" fill="none"/>
<path d="M225.0,313.8V321.4M221.4,317.6H228.6" stroke="#7b297d" stroke-width="2.4" fill="none"/>
<path d="M251.3,313.8V321.4M247.7,317.6H254.9" stroke="#7b297d" stroke-width="2.4" fill="none"/>
<path d="M262.3,313.8V321.4M258.7,317.6H265.9" stroke="#7b297d" stroke-width="2.4" fill="none"/>
<path d="M274.0,313.8V321.4M270.4,317.6H277.6" stroke="#7b297d" stroke-width="2.4" fill="none"/>
<path d="M277.6,313.8V321.4M274.0,317.6H281.2" stroke="#7b297d" stroke-width="2.4" fill="none"/>
<path d="M330.9,313.8V321.4M327.3,317.6H334.5" stroke="#7b297d" stroke-width="2.4" fill="none"/>
<path d="M339.4,313.8V321.4M335.8,317.6H343.0" stroke="#7b297d" stroke-width="2.4" fill="none"/>
<path d="M356.1,313.8V321.4M352.5,317.6H359.7" stroke="#7b297d" stroke-width="2.4" fill="none"/>
<path d="M377.0,365.2V372.8M373.4,369.0H380.6" stroke="#7b297d" stroke-width="2.4" fill="none"/>
<path d="M136.7,62.9 L139.3,72.5 L139.0,81.3 L140.5,95.7 L141.8,115.1 L143.0,130.0 L144.0,137.6 L146.9,166.8 L149.1,193.1 L152.0,213.5 L153.5,235.5 L158.6,239.8 L160.8,244.2 L163.0,258.8 L164.4,270.9 L166.6,285.5 L171.7,291.3 L173.9,308.9 L177.6,313.2 L182.0,317.6 L184.9,335.1 L188.5,335.1 L190.7,355.6 L200.9,355.6 L200.9,360.7 L220.6,360.7 L220.6,366.5 L239.6,366.5 L239.6,373.8 L323.6,373.8 L323.6,386.2 L331.6,386.2 L331.6,400.1 L525.1,400.1" fill="none" stroke="#f7951a" stroke-width="3.1" stroke-linejoin="miter" stroke-miterlimit="2"/>
<path d="M136.7,62.9 L139.3,72.5 M139.3,72.5 L139.0,81.3 M139.0,81.3 L140.5,95.7 M140.5,95.7 L141.8,115.1 M141.8,115.1 L143.0,130.0 M143.0,130.0 L144.0,137.6 M144.0,137.6 L146.9,166.8 M146.9,166.8 L149.1,193.1 M149.1,193.1 L152.0,213.5 M152.0,213.5 L153.5,235.5 M153.5,235.5 L158.6,239.8 M158.6,239.8 L160.8,244.2 M160.8,244.2 L163.0,258.8 M163.0,258.8 L164.4,270.9 M164.4,270.9 L166.6,285.5 M166.6,285.5 L171.7,291.3 M171.7,291.3 L173.9,308.9 M173.9,308.9 L177.6,313.2 M177.6,313.2 L182.0,317.6 M182.0,317.6 L184.9,335.1 M188.5,335.1 L190.7,355.6" fill="none" stroke="#f7951a" stroke-width="4.0" stroke-linecap="round"/>
<path d="M139.1,67.8V75.4M135.5,71.6H142.7" stroke="#f7951a" stroke-width="2.4" fill="none"/>
<path d="M139.0,76.7V84.3M135.4,80.5H142.6" stroke="#f7951a" stroke-width="2.4" fill="none"/>
<path d="M139.9,85.7V93.3M136.3,89.5H143.5" stroke="#f7951a" stroke-width="2.4" fill="none"/>
<path d="M140.7,94.7V102.3M137.1,98.5H144.3" stroke="#f7951a" stroke-width="2.4" fill="none"/>
<path d="M141.3,103.6V111.2M137.7,107.4H144.9" stroke="#f7951a" stroke-width="2.4" fill="none"/>
<path d="M141.9,112.6V120.2M138.3,116.4H145.5" stroke="#f7951a" stroke-width="2.4" fill="none"/>
<path d="M142.6,121.6V129.2M139.0,125.4H146.2" stroke="#f7951a" stroke-width="2.4" fill="none"/>
<path d="M143.6,130.5V138.1M140.0,134.3H147.2" stroke="#f7951a" stroke-width="2.4" fill="none"/>
<path d="M144.6,139.5V147.1M141.0,143.3H148.2" stroke="#f7951a" stroke-width="2.4" fill="none"/>
<path d="M145.5,148.4V156.0M141.9,152.2H149.1" stroke="#f7951a" stroke-width="2.4" fill="none"/>
<path d="M146.3,157.4V165.0M142.7,161.2H149.9" stroke="#f7951a" stroke-width="2.4" fill="none"/>
<path d="M147.2,166.4V174.0M143.6,170.2H150.8" stroke="#f7951a" stroke-width="2.4" fill="none"/>
<path d="M147.9,175.3V182.9M144.3,179.1H151.5" stroke="#f7951a" stroke-width="2.4" fill="none"/>
<path d="M148.7,184.3V191.9M145.1,188.1H152.3" stroke="#f7951a" stroke-width="2.4" fill="none"/>
<path d="M149.7,193.2V200.8M146.1,197.0H153.3" stroke="#f7951a" stroke-width="2.4" fill="none"/>
<path d="M150.9,202.1V209.7M147.3,205.9H154.5" stroke="#f7951a" stroke-width="2.4" fill="none"/>
<path d="M152.1,211.1V218.7M148.5,214.9H155.7" stroke="#f7951a" stroke-width="2.4" fill="none"/>
<path d="M152.7,220.0V227.6M149.1,223.8H156.3" stroke="#f7951a" stroke-width="2.4" fill="none"/>
<path d="M153.3,229.0V236.6M149.7,232.8H156.9" stroke="#f7951a" stroke-width="2.4" fill="none"/>
<path d="M158.3,235.8V243.4M154.7,239.6H161.9" stroke="#f7951a" stroke-width="2.4" fill="none"/>
<path d="M161.4,244.1V251.7M157.8,247.9H165.0" stroke="#f7951a" stroke-width="2.4" fill="none"/>
<path d="M162.7,253.0V260.6M159.1,256.8H166.3" stroke="#f7951a" stroke-width="2.4" fill="none"/>
<path d="M163.8,261.9V269.5M160.2,265.7H167.4" stroke="#f7951a" stroke-width="2.4" fill="none"/>
<path d="M165.0,270.8V278.4M161.4,274.6H168.6" stroke="#f7951a" stroke-width="2.4" fill="none"/>
<path d="M166.3,279.7V287.3M162.7,283.5H169.9" stroke="#f7951a" stroke-width="2.4" fill="none"/>
<path d="M171.2,287.0V294.6M167.6,290.8H174.8" stroke="#f7951a" stroke-width="2.4" fill="none"/>
<path d="M172.7,295.7V303.3M169.1,299.5H176.3" stroke="#f7951a" stroke-width="2.4" fill="none"/>
<path d="M173.8,304.7V312.3M170.2,308.5H177.4" stroke="#f7951a" stroke-width="2.4" fill="none"/>
<path d="M179.6,311.4V319.0M176.0,315.2H183.2" stroke="#f7951a" stroke-width="2.4" fill="none"/>
<path d="M182.9,319.4V327.0M179.3,323.2H186.5" stroke="#f7951a" stroke-width="2.4" fill="none"/>
<path d="M184.4,328.3V335.9M180.8,332.1H188.0" stroke="#f7951a" stroke-width="2.4" fill="none"/>
<path d="M189.1,337.2V344.8M185.5,341.0H192.7" stroke="#f7951a" stroke-width="2.4" fill="none"/>
<path d="M190.1,346.1V353.7M186.5,349.9H193.7" stroke="#f7951a" stroke-width="2.4" fill="none"/>
<path d="M203.9,356.9V364.5M200.3,360.7H207.5" stroke="#f7951a" stroke-width="2.4" fill="none"/>
<path d="M208.2,356.9V364.5M204.6,360.7H211.8" stroke="#f7951a" stroke-width="2.4" fill="none"/>
<path d="M214.8,356.9V364.5M211.2,360.7H218.4" stroke="#f7951a" stroke-width="2.4" fill="none"/>
<path d="M262.3,370.0V377.6M258.7,373.8H265.9" stroke="#f7951a" stroke-width="2.4" fill="none"/>
<path d="M264.5,370.0V377.6M260.9,373.8H268.1" stroke="#f7951a" stroke-width="2.4" fill="none"/>
<path d="M286.4,370.0V377.6M282.8,373.8H290.0" stroke="#f7951a" stroke-width="2.4" fill="none"/>
<path d="M298.8,370.0V377.6M295.2,373.8H302.4" stroke="#f7951a" stroke-width="2.4" fill="none"/>
<path d="M301.7,370.0V377.6M298.1,373.8H305.3" stroke="#f7951a" stroke-width="2.4" fill="none"/>
<path d="M312.6,370.0V377.6M309.0,373.8H316.2" stroke="#f7951a" stroke-width="2.4" fill="none"/>
<path d="M358.2,396.3V403.9M354.6,400.1H361.8" stroke="#f7951a" stroke-width="2.4" fill="none"/>
<path d="M367.3,396.3V403.9M363.7,400.1H370.9" stroke="#f7951a" stroke-width="2.4" fill="none"/>
<path d="M398.6,396.3V403.9M395.0,400.1H402.2" stroke="#f7951a" stroke-width="2.4" fill="none"/>
<path d="M453.9,396.3V403.9M450.3,400.1H457.5" stroke="#f7951a" stroke-width="2.4" fill="none"/>
<path d="M525.1,396.3V403.9M521.5,400.1H528.7" stroke="#f7951a" stroke-width="2.4" fill="none"/>
<path d="M136.7,62.9 L138.1,64.6 L139.6,108.4 L140.3,152.2 L141.1,181.4 L142.5,210.6 L143.3,230.0 L144.7,276.7 L146.9,303.0 L149.1,324.9 L152.0,361.4 L155.7,383.3 L160.8,402.3 L167.3,400.1 L168.8,412.5 L173.9,421.3 L175.4,428.6 L182.0,428.6 L183.4,433.0 L198.0,433.0 L199.5,438.1 L257.2,438.1 L257.2,449.5 L269.3,449.5 L269.3,459.7 L322.7,459.7" fill="none" stroke="#ee2c35" stroke-width="3.1" stroke-linejoin="miter" stroke-miterlimit="2"/>
<path d="M136.7,62.9 L138.1,64.6 M138.1,64.6 L139.6,108.4 M139.6,108.4 L140.3,152.2 M140.3,152.2 L141.1,181.4 M141.1,181.4 L142.5,210.6 M142.5,210.6 L143.3,230.0 M143.3,230.0 L144.7,276.7 M144.7,276.7 L146.9,303.0 M146.9,303.0 L149.1,324.9 M149.1,324.9 L152.0,361.4 M152.0,361.4 L155.7,383.3 M155.7,383.3 L160.8,402.3 M160.8,402.3 L167.3,400.1 M167.3,400.1 L168.8,412.5 M168.8,412.5 L173.9,421.3 M173.9,421.3 L175.4,428.6 M182.0,428.6 L183.4,433.0 M198.0,433.0 L199.5,438.1" fill="none" stroke="#ee2c35" stroke-width="4.0" stroke-linecap="round"/>
<path d="M138.3,67.6V75.2M134.7,71.4H141.9" stroke="#ee2c35" stroke-width="2.4" fill="none"/>
<path d="M138.6,76.6V84.2M135.0,80.4H142.2" stroke="#ee2c35" stroke-width="2.4" fill="none"/>
<path d="M138.9,85.6V93.2M135.3,89.4H142.5" stroke="#ee2c35" stroke-width="2.4" fill="none"/>
<path d="M139.3,94.6V102.2M135.7,98.4H142.9" stroke="#ee2c35" stroke-width="2.4" fill="none"/>
<path d="M139.6,103.6V111.2M136.0,107.4H143.2" stroke="#ee2c35" stroke-width="2.4" fill="none"/>
<path d="M139.7,112.6V120.2M136.1,116.4H143.3" stroke="#ee2c35" stroke-width="2.4" fill="none"/>
<path d="M139.9,121.6V129.2M136.3,125.4H143.5" stroke="#ee2c35" stroke-width="2.4" fill="none"/>
<path d="M140.0,130.6V138.2M136.4,134.4H143.6" stroke="#ee2c35" stroke-width="2.4" fill="none"/>
<path d="M140.2,139.6V147.2M136.6,143.4H143.8" stroke="#ee2c35" stroke-width="2.4" fill="none"/>
<path d="M140.3,148.6V156.2M136.7,152.4H143.9" stroke="#ee2c35" stroke-width="2.4" fill="none"/>
<path d="M140.6,157.6V165.2M137.0,161.4H144.2" stroke="#ee2c35" stroke-width="2.4" fill="none"/>
<path d="M140.8,166.6V174.2M137.2,170.4H144.4" stroke="#ee2c35" stroke-width="2.4" fill="none"/>
<path d="M141.0,175.6V183.2M137.4,179.4H144.6" stroke="#ee2c35" stroke-width="2.4" fill="none"/>
<path d="M141.4,184.5V192.1M137.8,188.3H145.0" stroke="#ee2c35" stroke-width="2.4" fill="none"/>
<path d="M141.9,193.5V201.1M138.3,197.3H145.5" stroke="#ee2c35" stroke-width="2.4" fill="none"/>
<path d="M142.3,202.5V210.1M138.7,206.3H145.9" stroke="#ee2c35" stroke-width="2.4" fill="none"/>
<path d="M142.7,211.5V219.1M139.1,215.3H146.3" stroke="#ee2c35" stroke-width="2.4" fill="none"/>
<path d="M143.1,220.5V228.1M139.5,224.3H146.7" stroke="#ee2c35" stroke-width="2.4" fill="none"/>
<path d="M143.4,229.5V237.1M139.8,233.3H147.0" stroke="#ee2c35" stroke-width="2.4" fill="none"/>
<path d="M143.7,238.5V246.1M140.1,242.3H147.3" stroke="#ee2c35" stroke-width="2.4" fill="none"/>
<path d="M143.9,247.5V255.1M140.3,251.3H147.5" stroke="#ee2c35" stroke-width="2.4" fill="none"/>
<path d="M144.2,256.5V264.1M140.6,260.3H147.8" stroke="#ee2c35" stroke-width="2.4" fill="none"/>
<path d="M144.5,265.5V273.1M140.9,269.3H148.1" stroke="#ee2c35" stroke-width="2.4" fill="none"/>
<path d="M144.8,274.5V282.1M141.2,278.3H148.4" stroke="#ee2c35" stroke-width="2.4" fill="none"/>
<path d="M145.6,283.4V291.0M142.0,287.2H149.2" stroke="#ee2c35" stroke-width="2.4" fill="none"/>
<path d="M146.3,292.4V300.0M142.7,296.2H149.9" stroke="#ee2c35" stroke-width="2.4" fill="none"/>
<path d="M147.1,301.4V309.0M143.5,305.2H150.7" stroke="#ee2c35" stroke-width="2.4" fill="none"/>
<path d="M148.0,310.3V317.9M144.4,314.1H151.6" stroke="#ee2c35" stroke-width="2.4" fill="none"/>
<path d="M148.9,319.3V326.9M145.3,323.1H152.5" stroke="#ee2c35" stroke-width="2.4" fill="none"/>
<path d="M149.7,328.3V335.9M146.1,332.1H153.3" stroke="#ee2c35" stroke-width="2.4" fill="none"/>
<path d="M150.4,337.2V344.8M146.8,341.0H154.0" stroke="#ee2c35" stroke-width="2.4" fill="none"/>
<path d="M151.1,346.2V353.8M147.5,350.0H154.7" stroke="#ee2c35" stroke-width="2.4" fill="none"/>
<path d="M151.8,355.2V362.8M148.2,359.0H155.4" stroke="#ee2c35" stroke-width="2.4" fill="none"/>
<path d="M153.1,364.1V371.7M149.5,367.9H156.7" stroke="#ee2c35" stroke-width="2.4" fill="none"/>
<path d="M154.6,372.9V380.5M151.0,376.7H158.2" stroke="#ee2c35" stroke-width="2.4" fill="none"/>
<path d="M156.3,381.8V389.4M152.7,385.6H159.9" stroke="#ee2c35" stroke-width="2.4" fill="none"/>
<path d="M158.6,390.5V398.1M155.0,394.3H162.2" stroke="#ee2c35" stroke-width="2.4" fill="none"/>
<path d="M161.4,398.3V405.9M157.8,402.1H165.0" stroke="#ee2c35" stroke-width="2.4" fill="none"/>
<path d="M167.6,399.1V406.7M164.0,402.9H171.2" stroke="#ee2c35" stroke-width="2.4" fill="none"/>
<path d="M168.7,408.0V415.6M165.1,411.8H172.3" stroke="#ee2c35" stroke-width="2.4" fill="none"/>
<path d="M173.0,415.9V423.5M169.4,419.7H176.6" stroke="#ee2c35" stroke-width="2.4" fill="none"/>
<path d="M175.3,424.5V432.1M171.7,428.3H178.9" stroke="#ee2c35" stroke-width="2.4" fill="none"/>
<path d="M199.2,433.1V440.7M195.6,436.9H202.8" stroke="#ee2c35" stroke-width="2.4" fill="none"/>
<path d="M188.0,429.2V436.8M184.4,433.0H191.6" stroke="#ee2c35" stroke-width="2.4" fill="none"/>
<path d="M190.0,429.2V436.8M186.4,433.0H193.6" stroke="#ee2c35" stroke-width="2.4" fill="none"/>
<path d="M192.0,429.2V436.8M188.4,433.0H195.6" stroke="#ee2c35" stroke-width="2.4" fill="none"/>
<path d="M195.0,429.2V436.8M191.4,433.0H198.6" stroke="#ee2c35" stroke-width="2.4" fill="none"/>
<path d="M213.0,434.3V441.9M209.4,438.1H216.6" stroke="#ee2c35" stroke-width="2.4" fill="none"/>
<path d="M322.7,455.9V463.5M319.1,459.7H326.3" stroke="#ee2c35" stroke-width="2.4" fill="none"/>
<path d="M812.4,63.1 L855.5,63.1 L855.5,89.7 L865.4,89.7 L865.4,121.6 L900.8,121.6 L900.8,157.0 L929.2,157.0 L929.2,195.6 L990.5,195.6 L990.5,288.0 L1089.3,288.0" fill="none" stroke="#2db84b" stroke-width="3.1" stroke-linejoin="miter" stroke-miterlimit="2"/>
<path d="M827.7,59.3V66.9M824.1,63.1H831.3" stroke="#2db84b" stroke-width="2.4" fill="none"/>
<path d="M846.0,59.3V66.9M842.4,63.1H849.6" stroke="#2db84b" stroke-width="2.4" fill="none"/>
<path d="M859.1,85.9V93.5M855.5,89.7H862.7" stroke="#2db84b" stroke-width="2.4" fill="none"/>
<path d="M887.3,117.8V125.4M883.7,121.6H890.9" stroke="#2db84b" stroke-width="2.4" fill="none"/>
<path d="M923.8,153.2V160.8M920.2,157.0H927.4" stroke="#2db84b" stroke-width="2.4" fill="none"/>
<path d="M940.5,191.8V199.4M936.9,195.6H944.1" stroke="#2db84b" stroke-width="2.4" fill="none"/>
<path d="M966.9,191.8V199.4M963.3,195.6H970.5" stroke="#2db84b" stroke-width="2.4" fill="none"/>
<path d="M1003.4,284.2V291.8M999.8,288.0H1007.0" stroke="#2db84b" stroke-width="2.4" fill="none"/>
<path d="M1089.3,284.2V291.8M1085.7,288.0H1092.9" stroke="#2db84b" stroke-width="2.4" fill="none"/>
<path d="M812.4,63.1 L817.5,69.0 L821.9,76.3 L825.6,76.3 L826.3,85.0 L830.7,87.2 L835.0,95.3 L838.0,102.6 L843.8,107.0 L849.6,112.8 L855.5,118.6 L861.3,123.0 L865.0,128.1 L873.0,128.1 L875.9,132.5 L881.8,134.0 L884.0,138.3 L890.5,140.5 L893.5,144.9 L897.8,150.8 L901.5,158.1 L906.6,165.4 L907.3,172.7 L927.0,172.7 L927.8,184.3 L930.0,193.1 L932.2,201.9 L943.8,201.9 L943.8,215.0 L946.8,215.0 L946.8,227.4 L996.7,227.4 L996.7,257.5 L1024.2,257.5 L1024.2,311.4 L1098.5,311.4 L1098.5,470.8" fill="none" stroke="#3d58ab" stroke-width="3.1" stroke-linejoin="miter" stroke-miterlimit="2"/>
<path d="M812.4,63.1 L817.5,69.0 M817.5,69.0 L821.9,76.3 M825.6,76.3 L826.3,85.0 M826.3,85.0 L830.7,87.2 M830.7,87.2 L835.0,95.3 M835.0,95.3 L838.0,102.6 M838.0,102.6 L843.8,107.0 M843.8,107.0 L849.6,112.8 M849.6,112.8 L855.5,118.6 M855.5,118.6 L861.3,123.0 M861.3,123.0 L865.0,128.1 M873.0,128.1 L875.9,132.5 M875.9,132.5 L881.8,134.0 M881.8,134.0 L884.0,138.3 M884.0,138.3 L890.5,140.5 M890.5,140.5 L893.5,144.9 M893.5,144.9 L897.8,150.8 M897.8,150.8 L901.5,158.1 M901.5,158.1 L906.6,165.4 M906.6,165.4 L907.3,172.7 M927.0,172.7 L927.8,184.3 M927.8,184.3 L930.0,193.1 M930.0,193.1 L932.2,201.9" fill="none" stroke="#3d58ab" stroke-width="4.0" stroke-linecap="round"/>
<path d="M818.1,66.2V73.8M814.5,70.0H821.7" stroke="#3d58ab" stroke-width="2.4" fill="none"/>
<path d="M825.7,74.2V81.8M822.1,78.0H829.3" stroke="#3d58ab" stroke-width="2.4" fill="none"/>
<path d="M828.0,82.1V89.7M824.4,85.9H831.6" stroke="#3d58ab" stroke-width="2.4" fill="none"/>
<path d="M833.5,88.7V96.3M829.9,92.5H837.1" stroke="#3d58ab" stroke-width="2.4" fill="none"/>
<path d="M837.2,96.9V104.5M833.6,100.7H840.8" stroke="#3d58ab" stroke-width="2.4" fill="none"/>
<path d="M843.6,103.0V110.6M840.0,106.8H847.2" stroke="#3d58ab" stroke-width="2.4" fill="none"/>
<path d="M849.9,109.3V116.9M846.3,113.1H853.5" stroke="#3d58ab" stroke-width="2.4" fill="none"/>
<path d="M856.5,115.5V123.1M852.9,119.3H860.1" stroke="#3d58ab" stroke-width="2.4" fill="none"/>
<path d="M863.0,121.6V129.2M859.4,125.4H866.6" stroke="#3d58ab" stroke-width="2.4" fill="none"/>
<path d="M876.2,128.8V136.4M872.6,132.6H879.8" stroke="#3d58ab" stroke-width="2.4" fill="none"/>
<path d="M883.3,133.1V140.7M879.7,136.9H886.9" stroke="#3d58ab" stroke-width="2.4" fill="none"/>
<path d="M890.8,137.2V144.8M887.2,141.0H894.4" stroke="#3d58ab" stroke-width="2.4" fill="none"/>
<path d="M896.0,144.5V152.1M892.4,148.3H899.6" stroke="#3d58ab" stroke-width="2.4" fill="none"/>
<path d="M900.5,152.3V159.9M896.9,156.1H904.1" stroke="#3d58ab" stroke-width="2.4" fill="none"/>
<path d="M905.4,159.9V167.5M901.8,163.7H909.0" stroke="#3d58ab" stroke-width="2.4" fill="none"/>
<path d="M907.3,168.4V176.0M903.7,172.2H910.9" stroke="#3d58ab" stroke-width="2.4" fill="none"/>
<path d="M927.6,177.4V185.0M924.0,181.2H931.2" stroke="#3d58ab" stroke-width="2.4" fill="none"/>
<path d="M929.2,186.2V193.8M925.6,190.0H932.8" stroke="#3d58ab" stroke-width="2.4" fill="none"/>
<path d="M931.4,195.0V202.6M927.8,198.8H935.0" stroke="#3d58ab" stroke-width="2.4" fill="none"/>
<path d="M912.4,168.9V176.5M908.8,172.7H916.0" stroke="#3d58ab" stroke-width="2.4" fill="none"/>
<path d="M916.8,168.9V176.5M913.2,172.7H920.4" stroke="#3d58ab" stroke-width="2.4" fill="none"/>
<path d="M922.7,168.9V176.5M919.1,172.7H926.3" stroke="#3d58ab" stroke-width="2.4" fill="none"/>
<path d="M957.0,223.6V231.2M953.4,227.4H960.6" stroke="#3d58ab" stroke-width="2.4" fill="none"/>
<path d="M966.5,223.6V231.2M962.9,227.4H970.1" stroke="#3d58ab" stroke-width="2.4" fill="none"/>
<path d="M971.6,223.6V231.2M968.0,227.4H975.2" stroke="#3d58ab" stroke-width="2.4" fill="none"/>
<path d="M976.0,223.6V231.2M972.4,227.4H979.6" stroke="#3d58ab" stroke-width="2.4" fill="none"/>
<path d="M981.1,223.6V231.2M977.5,227.4H984.7" stroke="#3d58ab" stroke-width="2.4" fill="none"/>
<path d="M986.9,223.6V231.2M983.3,227.4H990.5" stroke="#3d58ab" stroke-width="2.4" fill="none"/>
<path d="M1001.7,253.7V261.3M998.1,257.5H1005.3" stroke="#3d58ab" stroke-width="2.4" fill="none"/>
<path d="M1009.2,253.7V261.3M1005.6,257.5H1012.8" stroke="#3d58ab" stroke-width="2.4" fill="none"/>
<path d="M1018.4,253.7V261.3M1014.8,257.5H1022.0" stroke="#3d58ab" stroke-width="2.4" fill="none"/>
<path d="M1030.9,307.6V315.2M1027.3,311.4H1034.5" stroke="#3d58ab" stroke-width="2.4" fill="none"/>
<path d="M812.4,63.1 L813.1,85.0 L819.0,88.0 L825.6,96.7 L829.2,107.0 L831.4,118.6 L832.9,127.4 L838.0,134.7 L841.6,136.2 L842.3,147.8 L845.3,149.3 L848.2,169.7 L851.8,181.4 L854.8,187.3 L867.9,187.3 L868.6,201.9 L873.0,209.2 L880.3,210.6 L881.8,219.4 L886.2,228.2 L890.5,229.6 L891.3,247.1 L892.0,249.5 L900.8,249.5 L900.8,261.9 L908.8,261.9 L908.8,277.2 L916.1,277.2 L916.1,292.2 L1004.6,292.2 L1004.6,352.0 L1028.4,352.0" fill="none" stroke="#cc00ff" stroke-width="3.1" stroke-linejoin="miter" stroke-miterlimit="2"/>
<path d="M812.4,63.1 L813.1,85.0 M813.1,85.0 L819.0,88.0 M819.0,88.0 L825.6,96.7 M825.6,96.7 L829.2,107.0 M829.2,107.0 L831.4,118.6 M831.4,118.6 L832.9,127.4 M832.9,127.4 L838.0,134.7 M838.0,134.7 L841.6,136.2 M841.6,136.2 L842.3,147.8 M842.3,147.8 L845.3,149.3 M845.3,149.3 L848.2,169.7 M848.2,169.7 L851.8,181.4 M851.8,181.4 L854.8,187.3 M867.9,187.3 L868.6,201.9 M868.6,201.9 L873.0,209.2 M873.0,209.2 L880.3,210.6 M880.3,210.6 L881.8,219.4 M881.8,219.4 L886.2,228.2 M886.2,228.2 L890.5,229.6 M890.5,229.6 L891.3,247.1 M891.3,247.1 L892.0,249.5" fill="none" stroke="#cc00ff" stroke-width="4.0" stroke-linecap="round"/>
<path d="M812.7,68.3V75.9M809.1,72.1H816.3" stroke="#cc00ff" stroke-width="2.4" fill="none"/>
<path d="M813.0,77.3V84.9M809.4,81.1H816.6" stroke="#cc00ff" stroke-width="2.4" fill="none"/>
<path d="M817.6,83.5V91.1M814.0,87.3H821.2" stroke="#cc00ff" stroke-width="2.4" fill="none"/>
<path d="M823.5,90.2V97.8M819.9,94.0H827.1" stroke="#cc00ff" stroke-width="2.4" fill="none"/>
<path d="M827.4,98.1V105.7M823.8,101.9H831.0" stroke="#cc00ff" stroke-width="2.4" fill="none"/>
<path d="M829.9,106.8V114.4M826.3,110.6H833.5" stroke="#cc00ff" stroke-width="2.4" fill="none"/>
<path d="M831.5,115.6V123.2M827.9,119.4H835.1" stroke="#cc00ff" stroke-width="2.4" fill="none"/>
<path d="M833.4,124.3V131.9M829.8,128.1H837.0" stroke="#cc00ff" stroke-width="2.4" fill="none"/>
<path d="M838.9,131.3V138.9M835.3,135.1H842.5" stroke="#cc00ff" stroke-width="2.4" fill="none"/>
<path d="M842.0,138.5V146.1M838.4,142.3H845.6" stroke="#cc00ff" stroke-width="2.4" fill="none"/>
<path d="M845.3,145.6V153.2M841.7,149.4H848.9" stroke="#cc00ff" stroke-width="2.4" fill="none"/>
<path d="M846.6,154.5V162.1M843.0,158.3H850.2" stroke="#cc00ff" stroke-width="2.4" fill="none"/>
<path d="M847.9,163.4V171.0M844.3,167.2H851.5" stroke="#cc00ff" stroke-width="2.4" fill="none"/>
<path d="M850.1,172.1V179.7M846.5,175.9H853.7" stroke="#cc00ff" stroke-width="2.4" fill="none"/>
<path d="M853.3,180.5V188.1M849.7,184.3H856.9" stroke="#cc00ff" stroke-width="2.4" fill="none"/>
<path d="M868.2,189.2V196.8M864.6,193.0H871.8" stroke="#cc00ff" stroke-width="2.4" fill="none"/>
<path d="M868.6,198.1V205.7M865.0,201.9H872.2" stroke="#cc00ff" stroke-width="2.4" fill="none"/>
<path d="M873.5,205.5V213.1M869.9,209.3H877.1" stroke="#cc00ff" stroke-width="2.4" fill="none"/>
<path d="M880.7,208.9V216.5M877.1,212.7H884.3" stroke="#cc00ff" stroke-width="2.4" fill="none"/>
<path d="M882.8,217.5V225.1M879.2,221.3H886.4" stroke="#cc00ff" stroke-width="2.4" fill="none"/>
<path d="M887.5,224.8V232.4M883.9,228.6H891.1" stroke="#cc00ff" stroke-width="2.4" fill="none"/>
<path d="M890.8,231.6V239.2M887.2,235.4H894.4" stroke="#cc00ff" stroke-width="2.4" fill="none"/>
<path d="M891.2,240.6V248.2M887.6,244.4H894.8" stroke="#cc00ff" stroke-width="2.4" fill="none"/>
<path d="M933.6,288.4V296.0M930.0,292.2H937.2" stroke="#cc00ff" stroke-width="2.4" fill="none"/>
<path d="M949.7,288.4V296.0M946.1,292.2H953.3" stroke="#cc00ff" stroke-width="2.4" fill="none"/>
<path d="M954.8,288.4V296.0M951.2,292.2H958.4" stroke="#cc00ff" stroke-width="2.4" fill="none"/>
<path d="M961.4,288.4V296.0M957.8,292.2H965.0" stroke="#cc00ff" stroke-width="2.4" fill="none"/>
<path d="M976.0,288.4V296.0M972.4,292.2H979.6" stroke="#cc00ff" stroke-width="2.4" fill="none"/>
<path d="M978.9,288.4V296.0M975.3,292.2H982.5" stroke="#cc00ff" stroke-width="2.4" fill="none"/>
<path d="M981.8,288.4V296.0M978.2,292.2H985.4" stroke="#cc00ff" stroke-width="2.4" fill="none"/>
<path d="M1001.5,288.4V296.0M997.9,292.2H1005.1" stroke="#cc00ff" stroke-width="2.4" fill="none"/>
<path d="M1015.4,348.2V355.8M1011.8,352.0H1019.0" stroke="#cc00ff" stroke-width="2.4" fill="none"/>
<path d="M1028.4,348.2V355.8M1024.8,352.0H1032.0" stroke="#cc00ff" stroke-width="2.4" fill="none"/>
<path d="M812.4,63.1 L814.6,85.0 L820.4,93.8 L824.1,105.5 L825.6,114.3 L829.2,123.0 L831.4,134.7 L833.6,152.2 L837.2,161.0 L838.7,175.6 L840.9,187.3 L843.8,201.9 L845.3,210.6 L849.6,213.5 L852.6,223.8 L854.8,239.8 L858.4,242.8 L867.2,242.8 L868.6,250.2 L873.7,251.7 L874.5,259.0 L878.1,260.4 L878.9,267.7 L885.4,268.5 L886.2,278.0 L887.6,289.6 L887.6,299.5 L1039.2,299.5 L1039.2,356.8 L1051.8,356.8" fill="none" stroke="#7b297d" stroke-width="3.1" stroke-linejoin="miter" stroke-miterlimit="2"/>
<path d="M812.4,63.1 L814.6,85.0 M814.6,85.0 L820.4,93.8 M820.4,93.8 L824.1,105.5 M824.1,105.5 L825.6,114.3 M825.6,114.3 L829.2,123.0 M829.2,123.0 L831.4,134.7 M831.4,134.7 L833.6,152.2 M833.6,152.2 L837.2,161.0 M837.2,161.0 L838.7,175.6 M838.7,175.6 L840.9,187.3 M840.9,187.3 L843.8,201.9 M843.8,201.9 L845.3,210.6 M845.3,210.6 L849.6,213.5 M849.6,213.5 L852.6,223.8 M852.6,223.8 L854.8,239.8 M854.8,239.8 L858.4,242.8 M867.2,242.8 L868.6,250.2 M868.6,250.2 L873.7,251.7 M873.7,251.7 L874.5,259.0 M874.5,259.0 L878.1,260.4 M878.1,260.4 L878.9,267.7 M878.9,267.7 L885.4,268.5 M885.4,268.5 L886.2,278.0 M886.2,278.0 L887.6,289.6" fill="none" stroke="#7b297d" stroke-width="4.0" stroke-linecap="round"/>
<path d="M813.3,68.3V75.9M809.7,72.1H816.9" stroke="#7b297d" stroke-width="2.4" fill="none"/>
<path d="M814.2,77.2V84.8M810.6,81.0H817.8" stroke="#7b297d" stroke-width="2.4" fill="none"/>
<path d="M817.3,85.4V93.0M813.7,89.2H820.9" stroke="#7b297d" stroke-width="2.4" fill="none"/>
<path d="M821.4,93.3V100.9M817.8,97.1H825.0" stroke="#7b297d" stroke-width="2.4" fill="none"/>
<path d="M824.1,101.9V109.5M820.5,105.7H827.7" stroke="#7b297d" stroke-width="2.4" fill="none"/>
<path d="M825.7,110.7V118.3M822.1,114.5H829.3" stroke="#7b297d" stroke-width="2.4" fill="none"/>
<path d="M829.1,119.0V126.6M825.5,122.8H832.7" stroke="#7b297d" stroke-width="2.4" fill="none"/>
<path d="M830.8,127.9V135.5M827.2,131.7H834.4" stroke="#7b297d" stroke-width="2.4" fill="none"/>
<path d="M832.1,136.8V144.4M828.5,140.6H835.7" stroke="#7b297d" stroke-width="2.4" fill="none"/>
<path d="M833.3,145.7V153.3M829.7,149.5H836.9" stroke="#7b297d" stroke-width="2.4" fill="none"/>
<path d="M836.0,154.2V161.8M832.4,158.0H839.6" stroke="#7b297d" stroke-width="2.4" fill="none"/>
<path d="M837.8,163.0V170.6M834.2,166.8H841.4" stroke="#7b297d" stroke-width="2.4" fill="none"/>
<path d="M838.7,171.9V179.5M835.1,175.7H842.3" stroke="#7b297d" stroke-width="2.4" fill="none"/>
<path d="M840.4,180.8V188.4M836.8,184.6H844.0" stroke="#7b297d" stroke-width="2.4" fill="none"/>
<path d="M842.1,189.6V197.2M838.5,193.4H845.7" stroke="#7b297d" stroke-width="2.4" fill="none"/>
<path d="M843.9,198.4V206.0M840.3,202.2H847.5" stroke="#7b297d" stroke-width="2.4" fill="none"/>
<path d="M845.7,207.1V214.7M842.1,210.9H849.3" stroke="#7b297d" stroke-width="2.4" fill="none"/>
<path d="M850.8,213.8V221.4M847.2,217.6H854.4" stroke="#7b297d" stroke-width="2.4" fill="none"/>
<path d="M853.0,222.6V230.2M849.4,226.4H856.6" stroke="#7b297d" stroke-width="2.4" fill="none"/>
<path d="M854.2,231.5V239.1M850.6,235.3H857.8" stroke="#7b297d" stroke-width="2.4" fill="none"/>
<path d="M858.2,238.8V246.4M854.6,242.6H861.8" stroke="#7b297d" stroke-width="2.4" fill="none"/>
<path d="M869.8,246.7V254.3M866.2,250.5H873.4" stroke="#7b297d" stroke-width="2.4" fill="none"/>
<path d="M874.2,252.8V260.4M870.6,256.6H877.8" stroke="#7b297d" stroke-width="2.4" fill="none"/>
<path d="M878.4,259.3V266.9M874.8,263.1H882.0" stroke="#7b297d" stroke-width="2.4" fill="none"/>
<path d="M883.2,264.4V272.0M879.6,268.2H886.8" stroke="#7b297d" stroke-width="2.4" fill="none"/>
<path d="M886.0,271.5V279.1M882.4,275.3H889.6" stroke="#7b297d" stroke-width="2.4" fill="none"/>
<path d="M887.0,280.4V288.0M883.4,284.2H890.6" stroke="#7b297d" stroke-width="2.4" fill="none"/>
<path d="M892.7,295.7V303.3M889.1,299.5H896.3" stroke="#7b297d" stroke-width="2.4" fill="none"/>
<path d="M900.8,295.7V303.3M897.2,299.5H904.4" stroke="#7b297d" stroke-width="2.4" fill="none"/>
<path d="M907.3,295.7V303.3M903.7,299.5H910.9" stroke="#7b297d" stroke-width="2.4" fill="none"/>
<path d="M926.3,295.7V303.3M922.7,299.5H929.9" stroke="#7b297d" stroke-width="2.4" fill="none"/>
<path d="M937.3,295.7V303.3M933.7,299.5H940.9" stroke="#7b297d" stroke-width="2.4" fill="none"/>
<path d="M949.0,295.7V303.3M945.4,299.5H952.6" stroke="#7b297d" stroke-width="2.4" fill="none"/>
<path d="M952.6,295.7V303.3M949.0,299.5H956.2" stroke="#7b297d" stroke-width="2.4" fill="none"/>
<path d="M1005.9,295.7V303.3M1002.3,299.5H1009.5" stroke="#7b297d" stroke-width="2.4" fill="none"/>
<path d="M1014.7,295.7V303.3M1011.1,299.5H1018.3" stroke="#7b297d" stroke-width="2.4" fill="none"/>
<path d="M1031.7,295.7V303.3M1028.1,299.5H1035.3" stroke="#7b297d" stroke-width="2.4" fill="none"/>
<path d="M1051.8,353.0V360.6M1048.2,356.8H1055.4" stroke="#7b297d" stroke-width="2.4" fill="none"/>
<path d="M812.4,63.1 L814.6,89.4 L816.8,93.8 L818.3,111.3 L820.4,123.0 L822.6,137.6 L824.8,155.1 L827.0,169.7 L829.2,188.7 L831.4,206.2 L832.9,217.9 L836.5,223.8 L838.7,238.4 L842.3,244.4 L843.8,257.5 L848.2,266.3 L850.4,294.0 L853.3,298.4 L858.4,299.9 L861.3,313.0 L865.7,324.7 L867.9,330.5 L868.6,345.1 L879.6,345.1 L879.6,351.0 L885.4,351.0 L885.4,356.1 L895.6,356.1 L895.6,368.5 L916.1,368.5 L916.1,374.7 L999.2,374.7 L999.2,386.8 L1006.7,386.8 L1006.7,401.0 L1200.3,401.0" fill="none" stroke="#f7951a" stroke-width="3.1" stroke-linejoin="miter" stroke-miterlimit="2"/>
<path d="M812.4,63.1 L814.6,89.4 M814.6,89.4 L816.8,93.8 M816.8,93.8 L818.3,111.3 M818.3,111.3 L820.4,123.0 M820.4,123.0 L822.6,137.6 M822.6,137.6 L824.8,155.1 M824.8,155.1 L827.0,169.7 M827.0,169.7 L829.2,188.7 M829.2,188.7 L831.4,206.2 M831.4,206.2 L832.9,217.9 M832.9,217.9 L836.5,223.8 M836.5,223.8 L838.7,238.4 M838.7,238.4 L842.3,244.4 M842.3,244.4 L843.8,257.5 M843.8,257.5 L848.2,266.3 M848.2,266.3 L850.4,294.0 M850.4,294.0 L853.3,298.4 M853.3,298.4 L858.4,299.9 M858.4,299.9 L861.3,313.0 M861.3,313.0 L865.7,324.7 M865.7,324.7 L867.9,330.5 M867.9,330.5 L868.6,345.1" fill="none" stroke="#f7951a" stroke-width="4.0" stroke-linecap="round"/>
<path d="M813.2,68.3V75.9M809.6,72.1H816.8" stroke="#f7951a" stroke-width="2.4" fill="none"/>
<path d="M813.9,77.2V84.8M810.3,81.0H817.5" stroke="#f7951a" stroke-width="2.4" fill="none"/>
<path d="M814.9,86.1V93.7M811.3,89.9H818.5" stroke="#f7951a" stroke-width="2.4" fill="none"/>
<path d="M817.2,94.7V102.3M813.6,98.5H820.8" stroke="#f7951a" stroke-width="2.4" fill="none"/>
<path d="M818.0,103.6V111.2M814.4,107.4H821.6" stroke="#f7951a" stroke-width="2.4" fill="none"/>
<path d="M819.2,112.5V120.1M815.6,116.3H822.8" stroke="#f7951a" stroke-width="2.4" fill="none"/>
<path d="M820.7,121.4V129.0M817.1,125.2H824.3" stroke="#f7951a" stroke-width="2.4" fill="none"/>
<path d="M822.1,130.3V137.9M818.5,134.1H825.7" stroke="#f7951a" stroke-width="2.4" fill="none"/>
<path d="M823.3,139.2V146.8M819.7,143.0H826.9" stroke="#f7951a" stroke-width="2.4" fill="none"/>
<path d="M824.4,148.2V155.8M820.8,152.0H828.0" stroke="#f7951a" stroke-width="2.4" fill="none"/>
<path d="M825.7,157.1V164.7M822.1,160.9H829.3" stroke="#f7951a" stroke-width="2.4" fill="none"/>
<path d="M827.0,166.0V173.6M823.4,169.8H830.6" stroke="#f7951a" stroke-width="2.4" fill="none"/>
<path d="M828.0,174.9V182.5M824.4,178.7H831.6" stroke="#f7951a" stroke-width="2.4" fill="none"/>
<path d="M829.1,183.9V191.5M825.5,187.7H832.7" stroke="#f7951a" stroke-width="2.4" fill="none"/>
<path d="M830.2,192.8V200.4M826.6,196.6H833.8" stroke="#f7951a" stroke-width="2.4" fill="none"/>
<path d="M831.3,201.7V209.3M827.7,205.5H834.9" stroke="#f7951a" stroke-width="2.4" fill="none"/>
<path d="M832.5,210.6V218.2M828.9,214.4H836.1" stroke="#f7951a" stroke-width="2.4" fill="none"/>
<path d="M835.8,218.8V226.4M832.2,222.6H839.4" stroke="#f7951a" stroke-width="2.4" fill="none"/>
<path d="M837.6,227.5V235.1M834.0,231.3H841.2" stroke="#f7951a" stroke-width="2.4" fill="none"/>
<path d="M839.6,236.2V243.8M836.0,240.0H843.2" stroke="#f7951a" stroke-width="2.4" fill="none"/>
<path d="M842.7,244.4V252.0M839.1,248.2H846.3" stroke="#f7951a" stroke-width="2.4" fill="none"/>
<path d="M843.8,253.4V261.0M840.2,257.2H847.4" stroke="#f7951a" stroke-width="2.4" fill="none"/>
<path d="M847.7,261.4V269.0M844.1,265.2H851.3" stroke="#f7951a" stroke-width="2.4" fill="none"/>
<path d="M848.8,270.3V277.9M845.2,274.1H852.4" stroke="#f7951a" stroke-width="2.4" fill="none"/>
<path d="M849.5,279.3V286.9M845.9,283.1H853.1" stroke="#f7951a" stroke-width="2.4" fill="none"/>
<path d="M850.2,288.2V295.8M846.6,292.0H853.8" stroke="#f7951a" stroke-width="2.4" fill="none"/>
<path d="M855.0,295.1V302.7M851.4,298.9H858.6" stroke="#f7951a" stroke-width="2.4" fill="none"/>
<path d="M859.6,301.4V309.0M856.0,305.2H863.2" stroke="#f7951a" stroke-width="2.4" fill="none"/>
<path d="M861.7,310.2V317.8M858.1,314.0H865.3" stroke="#f7951a" stroke-width="2.4" fill="none"/>
<path d="M864.8,318.6V326.2M861.2,322.4H868.4" stroke="#f7951a" stroke-width="2.4" fill="none"/>
<path d="M867.9,327.0V334.6M864.3,330.8H871.5" stroke="#f7951a" stroke-width="2.4" fill="none"/>
<path d="M868.3,336.0V343.6M864.7,339.8H871.9" stroke="#f7951a" stroke-width="2.4" fill="none"/>
<path d="M889.8,352.3V359.9M886.2,356.1H893.4" stroke="#f7951a" stroke-width="2.4" fill="none"/>
<path d="M936.5,370.9V378.5M932.9,374.7H940.1" stroke="#f7951a" stroke-width="2.4" fill="none"/>
<path d="M939.5,370.9V378.5M935.9,374.7H943.1" stroke="#f7951a" stroke-width="2.4" fill="none"/>
<path d="M961.4,370.9V378.5M957.8,374.7H965.0" stroke="#f7951a" stroke-width="2.4" fill="none"/>
<path d="M973.8,370.9V378.5M970.2,374.7H977.4" stroke="#f7951a" stroke-width="2.4" fill="none"/>
<path d="M976.7,370.9V378.5M973.1,374.7H980.3" stroke="#f7951a" stroke-width="2.4" fill="none"/>
<path d="M987.6,370.9V378.5M984.0,374.7H991.2" stroke="#f7951a" stroke-width="2.4" fill="none"/>
<path d="M1033.1,397.2V404.8M1029.5,401.0H1036.7" stroke="#f7951a" stroke-width="2.4" fill="none"/>
<path d="M1042.1,397.2V404.8M1038.5,401.0H1045.7" stroke="#f7951a" stroke-width="2.4" fill="none"/>
<path d="M1073.8,397.2V404.8M1070.2,401.0H1077.4" stroke="#f7951a" stroke-width="2.4" fill="none"/>
<path d="M1130.2,397.2V404.8M1126.6,401.0H1133.8" stroke="#f7951a" stroke-width="2.4" fill="none"/>
<path d="M1199.5,397.2V404.8M1195.9,401.0H1203.1" stroke="#f7951a" stroke-width="2.4" fill="none"/>
<path d="M812.4,63.1 L813.9,86.5 L814.6,115.7 L816.8,140.5 L818.3,171.2 L820.4,196.0 L821.9,217.9 L823.4,239.8 L824.8,257.5 L826.3,275.0 L828.5,295.5 L831.4,313.0 L834.3,333.5 L836.5,356.8 L838.7,367.0 L843.8,377.3 L846.0,397.7 L850.4,410.9 L855.5,415.2 L858.4,424.7 L867.2,424.7 L869.4,435.7 L876.3,435.7 L876.3,441.1 L931.8,441.1 L931.8,451.1 L948.9,451.1 L948.9,461.1 L996.6,461.1 L996.6,470.6" fill="none" stroke="#ee2c35" stroke-width="3.1" stroke-linejoin="miter" stroke-miterlimit="2"/>
<path d="M812.4,63.1 L813.9,86.5 M813.9,86.5 L814.6,115.7 M814.6,115.7 L816.8,140.5 M816.8,140.5 L818.3,171.2 M818.3,171.2 L820.4,196.0 M820.4,196.0 L821.9,217.9 M821.9,217.9 L823.4,239.8 M823.4,239.8 L824.8,257.5 M824.8,257.5 L826.3,275.0 M826.3,275.0 L828.5,295.5 M828.5,295.5 L831.4,313.0 M831.4,313.0 L834.3,333.5 M834.3,333.5 L836.5,356.8 M836.5,356.8 L838.7,367.0 M838.7,367.0 L843.8,377.3 M843.8,377.3 L846.0,397.7 M846.0,397.7 L850.4,410.9 M850.4,410.9 L855.5,415.2 M855.5,415.2 L858.4,424.7 M867.2,424.7 L869.4,435.7" fill="none" stroke="#ee2c35" stroke-width="4.0" stroke-linecap="round"/>
<path d="M813.0,68.3V75.9M809.4,72.1H816.6" stroke="#ee2c35" stroke-width="2.4" fill="none"/>
<path d="M813.6,77.3V84.9M810.0,81.1H817.2" stroke="#ee2c35" stroke-width="2.4" fill="none"/>
<path d="M814.0,86.3V93.9M810.4,90.1H817.6" stroke="#ee2c35" stroke-width="2.4" fill="none"/>
<path d="M814.2,95.2V102.8M810.6,99.0H817.8" stroke="#ee2c35" stroke-width="2.4" fill="none"/>
<path d="M814.4,104.2V111.8M810.8,108.0H818.0" stroke="#ee2c35" stroke-width="2.4" fill="none"/>
<path d="M814.7,113.2V120.8M811.1,117.0H818.3" stroke="#ee2c35" stroke-width="2.4" fill="none"/>
<path d="M815.5,122.2V129.8M811.9,126.0H819.1" stroke="#ee2c35" stroke-width="2.4" fill="none"/>
<path d="M816.3,131.2V138.8M812.7,135.0H819.9" stroke="#ee2c35" stroke-width="2.4" fill="none"/>
<path d="M817.0,140.1V147.7M813.4,143.9H820.6" stroke="#ee2c35" stroke-width="2.4" fill="none"/>
<path d="M817.4,149.1V156.7M813.8,152.9H821.0" stroke="#ee2c35" stroke-width="2.4" fill="none"/>
<path d="M817.8,158.1V165.7M814.2,161.9H821.4" stroke="#ee2c35" stroke-width="2.4" fill="none"/>
<path d="M818.3,167.1V174.7M814.7,170.9H821.9" stroke="#ee2c35" stroke-width="2.4" fill="none"/>
<path d="M819.0,176.1V183.7M815.4,179.9H822.6" stroke="#ee2c35" stroke-width="2.4" fill="none"/>
<path d="M819.8,185.0V192.6M816.2,188.8H823.4" stroke="#ee2c35" stroke-width="2.4" fill="none"/>
<path d="M820.5,194.0V201.6M816.9,197.8H824.1" stroke="#ee2c35" stroke-width="2.4" fill="none"/>
<path d="M821.1,203.0V210.6M817.5,206.8H824.7" stroke="#ee2c35" stroke-width="2.4" fill="none"/>
<path d="M821.8,212.0V219.6M818.2,215.8H825.4" stroke="#ee2c35" stroke-width="2.4" fill="none"/>
<path d="M822.4,221.0V228.6M818.8,224.8H826.0" stroke="#ee2c35" stroke-width="2.4" fill="none"/>
<path d="M823.0,229.9V237.5M819.4,233.7H826.6" stroke="#ee2c35" stroke-width="2.4" fill="none"/>
<path d="M823.6,238.9V246.5M820.0,242.7H827.2" stroke="#ee2c35" stroke-width="2.4" fill="none"/>
<path d="M824.3,247.9V255.5M820.7,251.7H827.9" stroke="#ee2c35" stroke-width="2.4" fill="none"/>
<path d="M825.1,256.9V264.5M821.5,260.7H828.7" stroke="#ee2c35" stroke-width="2.4" fill="none"/>
<path d="M825.8,265.8V273.4M822.2,269.6H829.4" stroke="#ee2c35" stroke-width="2.4" fill="none"/>
<path d="M826.7,274.8V282.4M823.1,278.6H830.3" stroke="#ee2c35" stroke-width="2.4" fill="none"/>
<path d="M827.6,283.7V291.3M824.0,287.5H831.2" stroke="#ee2c35" stroke-width="2.4" fill="none"/>
<path d="M828.7,292.7V300.3M825.1,296.5H832.3" stroke="#ee2c35" stroke-width="2.4" fill="none"/>
<path d="M830.1,301.5V309.1M826.5,305.3H833.7" stroke="#ee2c35" stroke-width="2.4" fill="none"/>
<path d="M831.6,310.4V318.0M828.0,314.2H835.2" stroke="#ee2c35" stroke-width="2.4" fill="none"/>
<path d="M832.8,319.3V326.9M829.2,323.1H836.4" stroke="#ee2c35" stroke-width="2.4" fill="none"/>
<path d="M834.1,328.3V335.9M830.5,332.1H837.7" stroke="#ee2c35" stroke-width="2.4" fill="none"/>
<path d="M835.0,337.2V344.8M831.4,341.0H838.6" stroke="#ee2c35" stroke-width="2.4" fill="none"/>
<path d="M835.9,346.2V353.8M832.3,350.0H839.5" stroke="#ee2c35" stroke-width="2.4" fill="none"/>
<path d="M837.0,355.1V362.7M833.4,358.9H840.6" stroke="#ee2c35" stroke-width="2.4" fill="none"/>
<path d="M839.0,363.8V371.4M835.4,367.6H842.6" stroke="#ee2c35" stroke-width="2.4" fill="none"/>
<path d="M843.0,371.9V379.5M839.4,375.7H846.6" stroke="#ee2c35" stroke-width="2.4" fill="none"/>
<path d="M844.6,380.7V388.3M841.0,384.5H848.2" stroke="#ee2c35" stroke-width="2.4" fill="none"/>
<path d="M845.5,389.6V397.2M841.9,393.4H849.1" stroke="#ee2c35" stroke-width="2.4" fill="none"/>
<path d="M847.5,398.3V405.9M843.9,402.1H851.1" stroke="#ee2c35" stroke-width="2.4" fill="none"/>
<path d="M850.3,406.9V414.5M846.7,410.7H853.9" stroke="#ee2c35" stroke-width="2.4" fill="none"/>
<path d="M856.1,413.4V421.0M852.5,417.2H859.7" stroke="#ee2c35" stroke-width="2.4" fill="none"/>
<path d="M867.4,422.0V429.6M863.8,425.8H871.0" stroke="#ee2c35" stroke-width="2.4" fill="none"/>
<path d="M869.2,430.9V438.5M865.6,434.7H872.8" stroke="#ee2c35" stroke-width="2.4" fill="none"/>
<path d="M888.0,437.3V444.9M884.4,441.1H891.6" stroke="#ee2c35" stroke-width="2.4" fill="none"/>
<path d="M136.7,898.1 L139.6,898.1 L139.6,916.4 L149.1,916.4 L149.1,933.9 L172.5,933.9 L172.5,952.9 L173.9,952.9 L173.9,971.2 L188.5,971.2 L188.5,992.3 L225.5,992.3 L225.5,1016.4 L253.5,1016.4 L253.5,1048.6 L267.4,1048.6 L267.4,1091.3 L322.5,1091.3 L322.5,1198.8 L328.4,1198.8" fill="none" stroke="#2db84b" stroke-width="3.1" stroke-linejoin="miter" stroke-miterlimit="2"/>
<path d="M184.9,967.4V975.0M181.3,971.2H188.5" stroke="#2db84b" stroke-width="2.4" fill="none"/>
<path d="M193.6,988.5V996.1M190.0,992.3H197.2" stroke="#2db84b" stroke-width="2.4" fill="none"/>
<path d="M212.3,988.5V996.1M208.7,992.3H215.9" stroke="#2db84b" stroke-width="2.4" fill="none"/>
<path d="M237.4,1012.6V1020.2M233.8,1016.4H241.0" stroke="#2db84b" stroke-width="2.4" fill="none"/>
<path d="M248.8,1012.6V1020.2M245.2,1016.4H252.4" stroke="#2db84b" stroke-width="2.4" fill="none"/>
<path d="M265.9,1044.8V1052.4M262.3,1048.6H269.5" stroke="#2db84b" stroke-width="2.4" fill="none"/>
<path d="M272.5,1087.5V1095.1M268.9,1091.3H276.1" stroke="#2db84b" stroke-width="2.4" fill="none"/>
<path d="M292.2,1087.5V1095.1M288.6,1091.3H295.8" stroke="#2db84b" stroke-width="2.4" fill="none"/>
<path d="M301.7,1087.5V1095.1M298.1,1091.3H305.3" stroke="#2db84b" stroke-width="2.4" fill="none"/>
<path d="M328.4,1195.0V1202.6M324.8,1198.8H332.0" stroke="#2db84b" stroke-width="2.4" fill="none"/>
<path d="M136.7,898.1 L141.1,909.8 L142.5,914.2 L144.0,921.5 L149.1,923.0 L149.8,928.8 L154.2,934.6 L156.4,943.4 L159.3,947.8 L162.2,958.0 L167.3,962.4 L168.8,971.2 L172.5,975.5 L173.9,982.8 L178.3,988.7 L182.7,992.3 L187.8,993.8 L189.3,1003.3 L193.6,1009.1 L198.0,1012.0 L203.9,1012.0 L206.8,1017.9 L212.6,1021.5 L215.5,1026.6 L218.5,1032.5 L224.3,1036.9 L227.2,1044.2 L232.3,1050.0 L232.3,1054.4 L252.0,1054.4 L253.5,1064.6 L256.4,1070.5 L257.9,1078.5 L270.3,1078.5 L270.3,1087.4 L314.7,1087.4 L314.7,1107.5 L349.2,1107.5 L349.2,1135.9 L362.6,1135.9 L362.6,1178.5 L415.2,1178.5" fill="none" stroke="#3d58ab" stroke-width="3.1" stroke-linejoin="miter" stroke-miterlimit="2"/>
<path d="M136.7,898.1 L141.1,909.8 M141.1,909.8 L142.5,914.2 M142.5,914.2 L144.0,921.5 M144.0,921.5 L149.1,923.0 M149.1,923.0 L149.8,928.8 M149.8,928.8 L154.2,934.6 M154.2,934.6 L156.4,943.4 M156.4,943.4 L159.3,947.8 M159.3,947.8 L162.2,958.0 M162.2,958.0 L167.3,962.4 M167.3,962.4 L168.8,971.2 M168.8,971.2 L172.5,975.5 M172.5,975.5 L173.9,982.8 M173.9,982.8 L178.3,988.7 M178.3,988.7 L182.7,992.3 M182.7,992.3 L187.8,993.8 M187.8,993.8 L189.3,1003.3 M189.3,1003.3 L193.6,1009.1 M193.6,1009.1 L198.0,1012.0 M203.9,1012.0 L206.8,1017.9 M206.8,1017.9 L212.6,1021.5 M212.6,1021.5 L215.5,1026.6 M215.5,1026.6 L218.5,1032.5 M218.5,1032.5 L224.3,1036.9 M224.3,1036.9 L227.2,1044.2 M227.2,1044.2 L232.3,1050.0 M252.0,1054.4 L253.5,1064.6 M253.5,1064.6 L256.4,1070.5 M256.4,1070.5 L257.9,1078.5" fill="none" stroke="#3d58ab" stroke-width="4.0" stroke-linecap="round"/>
<path d="M139.9,902.7V910.3M136.3,906.5H143.5" stroke="#3d58ab" stroke-width="2.4" fill="none"/>
<path d="M142.7,911.3V918.9M139.1,915.1H146.3" stroke="#3d58ab" stroke-width="2.4" fill="none"/>
<path d="M146.3,918.4V926.0M142.7,922.2H149.9" stroke="#3d58ab" stroke-width="2.4" fill="none"/>
<path d="M150.0,925.2V932.8M146.4,929.0H153.6" stroke="#3d58ab" stroke-width="2.4" fill="none"/>
<path d="M154.7,932.7V940.3M151.1,936.5H158.3" stroke="#3d58ab" stroke-width="2.4" fill="none"/>
<path d="M157.5,941.2V948.8M153.9,945.0H161.1" stroke="#3d58ab" stroke-width="2.4" fill="none"/>
<path d="M160.8,949.4V957.0M157.2,953.2H164.4" stroke="#3d58ab" stroke-width="2.4" fill="none"/>
<path d="M165.3,956.8V964.4M161.7,960.6H168.9" stroke="#3d58ab" stroke-width="2.4" fill="none"/>
<path d="M168.4,964.8V972.4M164.8,968.6H172.0" stroke="#3d58ab" stroke-width="2.4" fill="none"/>
<path d="M172.6,972.4V980.0M169.0,976.2H176.2" stroke="#3d58ab" stroke-width="2.4" fill="none"/>
<path d="M175.3,980.8V988.4M171.7,984.6H178.9" stroke="#3d58ab" stroke-width="2.4" fill="none"/>
<path d="M181.3,987.4V995.0M177.7,991.2H184.9" stroke="#3d58ab" stroke-width="2.4" fill="none"/>
<path d="M188.1,991.9V999.5M184.5,995.7H191.7" stroke="#3d58ab" stroke-width="2.4" fill="none"/>
<path d="M190.1,1000.5V1008.1M186.5,1004.3H193.7" stroke="#3d58ab" stroke-width="2.4" fill="none"/>
<path d="M196.2,1007.0V1014.6M192.6,1010.8H199.8" stroke="#3d58ab" stroke-width="2.4" fill="none"/>
<path d="M207.0,1014.2V1021.8M203.4,1018.0H210.6" stroke="#3d58ab" stroke-width="2.4" fill="none"/>
<path d="M213.8,1019.8V1027.4M210.2,1023.6H217.4" stroke="#3d58ab" stroke-width="2.4" fill="none"/>
<path d="M218.0,1027.7V1035.3M214.4,1031.5H221.6" stroke="#3d58ab" stroke-width="2.4" fill="none"/>
<path d="M224.5,1033.7V1041.3M220.9,1037.5H228.1" stroke="#3d58ab" stroke-width="2.4" fill="none"/>
<path d="M228.4,1041.7V1049.3M224.8,1045.5H232.0" stroke="#3d58ab" stroke-width="2.4" fill="none"/>
<path d="M252.4,1053.6V1061.2M248.8,1057.4H256.0" stroke="#3d58ab" stroke-width="2.4" fill="none"/>
<path d="M254.3,1062.4V1070.0M250.7,1066.2H257.9" stroke="#3d58ab" stroke-width="2.4" fill="none"/>
<path d="M257.2,1070.8V1078.4M253.6,1074.6H260.8" stroke="#3d58ab" stroke-width="2.4" fill="none"/>
<path d="M241.1,1050.6V1058.2M237.5,1054.4H244.7" stroke="#3d58ab" stroke-width="2.4" fill="none"/>
<path d="M248.4,1050.6V1058.2M244.8,1054.4H252.0" stroke="#3d58ab" stroke-width="2.4" fill="none"/>
<path d="M282.0,1083.6V1091.2M278.4,1087.4H285.6" stroke="#3d58ab" stroke-width="2.4" fill="none"/>
<path d="M291.5,1083.6V1091.2M287.9,1087.4H295.1" stroke="#3d58ab" stroke-width="2.4" fill="none"/>
<path d="M301.0,1083.6V1091.2M297.4,1087.4H304.6" stroke="#3d58ab" stroke-width="2.4" fill="none"/>
<path d="M303.9,1083.6V1091.2M300.3,1087.4H307.5" stroke="#3d58ab" stroke-width="2.4" fill="none"/>
<path d="M307.5,1083.6V1091.2M303.9,1087.4H311.1" stroke="#3d58ab" stroke-width="2.4" fill="none"/>
<path d="M310.5,1083.6V1091.2M306.9,1087.4H314.1" stroke="#3d58ab" stroke-width="2.4" fill="none"/>
<path d="M319.7,1103.7V1111.3M316.1,1107.5H323.3" stroke="#3d58ab" stroke-width="2.4" fill="none"/>
<path d="M334.2,1103.7V1111.3M330.6,1107.5H337.8" stroke="#3d58ab" stroke-width="2.4" fill="none"/>
<path d="M343.1,1103.7V1111.3M339.5,1107.5H346.7" stroke="#3d58ab" stroke-width="2.4" fill="none"/>
<path d="M355.9,1132.1V1139.7M352.3,1135.9H359.5" stroke="#3d58ab" stroke-width="2.4" fill="none"/>
<path d="M357.6,1132.1V1139.7M354.0,1135.9H361.2" stroke="#3d58ab" stroke-width="2.4" fill="none"/>
<path d="M375.9,1174.7V1182.3M372.3,1178.5H379.5" stroke="#3d58ab" stroke-width="2.4" fill="none"/>
<path d="M415.2,1174.7V1182.3M411.6,1178.5H418.8" stroke="#3d58ab" stroke-width="2.4" fill="none"/>
<path d="M136.7,898.1 L139.6,940.5 L144.0,947.8 L145.4,955.1 L146.9,966.8 L149.1,975.5 L149.8,987.2 L152.7,997.4 L154.2,1006.2 L160.0,1009.1 L163.0,1017.9 L164.4,1028.1 L165.9,1038.3 L167.3,1048.6 L170.3,1054.4 L173.2,1063.2 L175.4,1070.5 L179.0,1077.8 L180.5,1085.2 L187.8,1086.7 L193.6,1089.6 L195.1,1098.4 L199.5,1104.2 L206.8,1108.6 L209.7,1118.8 L212.6,1124.6 L219.2,1123.2 L222.8,1130.5 L225.8,1136.3 L239.6,1136.3 L239.6,1142.8 L324.2,1142.8 L324.2,1158.4 L331.7,1158.4 L331.7,1183.5 L364.3,1183.5 L364.3,1305.3" fill="none" stroke="#7b297d" stroke-width="3.1" stroke-linejoin="miter" stroke-miterlimit="2"/>
<path d="M136.7,898.1 L139.6,940.5 M139.6,940.5 L144.0,947.8 M144.0,947.8 L145.4,955.1 M145.4,955.1 L146.9,966.8 M146.9,966.8 L149.1,975.5 M149.1,975.5 L149.8,987.2 M149.8,987.2 L152.7,997.4 M152.7,997.4 L154.2,1006.2 M154.2,1006.2 L160.0,1009.1 M160.0,1009.1 L163.0,1017.9 M163.0,1017.9 L164.4,1028.1 M164.4,1028.1 L165.9,1038.3 M165.9,1038.3 L167.3,1048.6 M167.3,1048.6 L170.3,1054.4 M170.3,1054.4 L173.2,1063.2 M173.2,1063.2 L175.4,1070.5 M175.4,1070.5 L179.0,1077.8 M179.0,1077.8 L180.5,1085.2 M180.5,1085.2 L187.8,1086.7 M187.8,1086.7 L193.6,1089.6 M193.6,1089.6 L195.1,1098.4 M195.1,1098.4 L199.5,1104.2 M199.5,1104.2 L206.8,1108.6 M206.8,1108.6 L209.7,1118.8 M209.7,1118.8 L212.6,1124.6 M212.6,1124.6 L219.2,1123.2 M219.2,1123.2 L222.8,1130.5 M222.8,1130.5 L225.8,1136.3" fill="none" stroke="#7b297d" stroke-width="4.0" stroke-linecap="round"/>
<path d="M137.3,903.3V910.9M133.7,907.1H140.9" stroke="#7b297d" stroke-width="2.4" fill="none"/>
<path d="M137.9,912.3V919.9M134.3,916.1H141.5" stroke="#7b297d" stroke-width="2.4" fill="none"/>
<path d="M138.5,921.2V928.8M134.9,925.0H142.1" stroke="#7b297d" stroke-width="2.4" fill="none"/>
<path d="M139.2,930.2V937.8M135.6,934.0H142.8" stroke="#7b297d" stroke-width="2.4" fill="none"/>
<path d="M140.9,938.8V946.4M137.3,942.6H144.5" stroke="#7b297d" stroke-width="2.4" fill="none"/>
<path d="M144.6,946.9V954.5M141.0,950.7H148.2" stroke="#7b297d" stroke-width="2.4" fill="none"/>
<path d="M146.0,955.8V963.4M142.4,959.6H149.6" stroke="#7b297d" stroke-width="2.4" fill="none"/>
<path d="M147.3,964.7V972.3M143.7,968.5H150.9" stroke="#7b297d" stroke-width="2.4" fill="none"/>
<path d="M149.2,973.5V981.1M145.6,977.3H152.8" stroke="#7b297d" stroke-width="2.4" fill="none"/>
<path d="M149.7,982.5V990.1M146.1,986.3H153.3" stroke="#7b297d" stroke-width="2.4" fill="none"/>
<path d="M152.0,991.1V998.7M148.4,994.9H155.6" stroke="#7b297d" stroke-width="2.4" fill="none"/>
<path d="M153.8,1000.0V1007.6M150.2,1003.8H157.4" stroke="#7b297d" stroke-width="2.4" fill="none"/>
<path d="M160.0,1005.3V1012.9M156.4,1009.1H163.6" stroke="#7b297d" stroke-width="2.4" fill="none"/>
<path d="M162.9,1013.9V1021.5M159.3,1017.7H166.5" stroke="#7b297d" stroke-width="2.4" fill="none"/>
<path d="M164.2,1022.8V1030.4M160.6,1026.6H167.8" stroke="#7b297d" stroke-width="2.4" fill="none"/>
<path d="M165.5,1031.7V1039.3M161.9,1035.5H169.1" stroke="#7b297d" stroke-width="2.4" fill="none"/>
<path d="M166.7,1040.6V1048.2M163.1,1044.4H170.3" stroke="#7b297d" stroke-width="2.4" fill="none"/>
<path d="M169.5,1049.0V1056.6M165.9,1052.8H173.1" stroke="#7b297d" stroke-width="2.4" fill="none"/>
<path d="M172.6,1057.4V1065.0M169.0,1061.2H176.2" stroke="#7b297d" stroke-width="2.4" fill="none"/>
<path d="M175.2,1066.0V1073.6M171.6,1069.8H178.8" stroke="#7b297d" stroke-width="2.4" fill="none"/>
<path d="M179.0,1074.2V1081.8M175.4,1078.0H182.6" stroke="#7b297d" stroke-width="2.4" fill="none"/>
<path d="M182.1,1081.7V1089.3M178.5,1085.5H185.7" stroke="#7b297d" stroke-width="2.4" fill="none"/>
<path d="M190.6,1084.3V1091.9M187.0,1088.1H194.2" stroke="#7b297d" stroke-width="2.4" fill="none"/>
<path d="M194.6,1091.4V1099.0M191.0,1095.2H198.2" stroke="#7b297d" stroke-width="2.4" fill="none"/>
<path d="M198.6,1099.2V1106.8M195.0,1103.0H202.2" stroke="#7b297d" stroke-width="2.4" fill="none"/>
<path d="M205.9,1104.3V1111.9M202.3,1108.1H209.5" stroke="#7b297d" stroke-width="2.4" fill="none"/>
<path d="M209.0,1112.5V1120.1M205.4,1116.3H212.6" stroke="#7b297d" stroke-width="2.4" fill="none"/>
<path d="M212.5,1120.7V1128.3M208.9,1124.5H216.1" stroke="#7b297d" stroke-width="2.4" fill="none"/>
<path d="M220.1,1121.3V1128.9M216.5,1125.1H223.7" stroke="#7b297d" stroke-width="2.4" fill="none"/>
<path d="M224.2,1129.4V1137.0M220.6,1133.2H227.8" stroke="#7b297d" stroke-width="2.4" fill="none"/>
<path d="M251.3,1139.0V1146.6M247.7,1142.8H254.9" stroke="#7b297d" stroke-width="2.4" fill="none"/>
<path d="M255.7,1139.0V1146.6M252.1,1142.8H259.3" stroke="#7b297d" stroke-width="2.4" fill="none"/>
<path d="M263.0,1139.0V1146.6M259.4,1142.8H266.6" stroke="#7b297d" stroke-width="2.4" fill="none"/>
<path d="M274.7,1139.0V1146.6M271.1,1142.8H278.3" stroke="#7b297d" stroke-width="2.4" fill="none"/>
<path d="M279.1,1139.0V1146.6M275.5,1142.8H282.7" stroke="#7b297d" stroke-width="2.4" fill="none"/>
<path d="M286.4,1139.0V1146.6M282.8,1142.8H290.0" stroke="#7b297d" stroke-width="2.4" fill="none"/>
<path d="M296.6,1139.0V1146.6M293.0,1142.8H300.2" stroke="#7b297d" stroke-width="2.4" fill="none"/>
<path d="M300.2,1139.0V1146.6M296.6,1142.8H303.8" stroke="#7b297d" stroke-width="2.4" fill="none"/>
<path d="M339.7,1179.7V1187.3M336.1,1183.5H343.3" stroke="#7b297d" stroke-width="2.4" fill="none"/>
<path d="M352.6,1179.7V1187.3M349.0,1183.5H356.2" stroke="#7b297d" stroke-width="2.4" fill="none"/>
<path d="M357.6,1179.7V1187.3M354.0,1183.5H361.2" stroke="#7b297d" stroke-width="2.4" fill="none"/>
<path d="M136.7,898.1 L138.1,906.9 L139.6,918.6 L140.3,931.7 L141.1,950.7 L141.8,958.0 L142.5,978.5 L144.0,994.5 L146.2,1016.4 L148.4,1035.4 L149.8,1060.2 L152.7,1074.8 L153.5,1108.6 L158.6,1118.8 L161.5,1140.7 L168.1,1140.7 L168.8,1159.7 L172.5,1162.6 L175.4,1183.1 L182.7,1183.1 L184.9,1197.7 L189.3,1200.6 L189.3,1203.5 L200.2,1203.5 L200.2,1209.3 L208.2,1209.3 L208.2,1222.5 L233.8,1222.5 L233.8,1229.8 L256.4,1229.8 L256.4,1238.5 L318.7,1238.5 L318.7,1252.0 L367.6,1252.0" fill="none" stroke="#f7951a" stroke-width="3.1" stroke-linejoin="miter" stroke-miterlimit="2"/>
<path d="M136.7,898.1 L138.1,906.9 M138.1,906.9 L139.6,918.6 M139.6,918.6 L140.3,931.7 M140.3,931.7 L141.1,950.7 M141.1,950.7 L141.8,958.0 M141.8,958.0 L142.5,978.5 M142.5,978.5 L144.0,994.5 M144.0,994.5 L146.2,1016.4 M146.2,1016.4 L148.4,1035.4 M148.4,1035.4 L149.8,1060.2 M149.8,1060.2 L152.7,1074.8 M152.7,1074.8 L153.5,1108.6 M153.5,1108.6 L158.6,1118.8 M158.6,1118.8 L161.5,1140.7 M168.1,1140.7 L168.8,1159.7 M168.8,1159.7 L172.5,1162.6 M172.5,1162.6 L175.4,1183.1 M182.7,1183.1 L184.9,1197.7 M184.9,1197.7 L189.3,1200.6" fill="none" stroke="#f7951a" stroke-width="4.0" stroke-linecap="round"/>
<path d="M138.1,903.2V910.8M134.5,907.0H141.7" stroke="#f7951a" stroke-width="2.4" fill="none"/>
<path d="M139.3,912.1V919.7M135.7,915.9H142.9" stroke="#f7951a" stroke-width="2.4" fill="none"/>
<path d="M139.9,921.1V928.7M136.3,924.9H143.5" stroke="#f7951a" stroke-width="2.4" fill="none"/>
<path d="M140.4,930.1V937.7M136.8,933.9H144.0" stroke="#f7951a" stroke-width="2.4" fill="none"/>
<path d="M140.8,939.1V946.7M137.2,942.9H144.4" stroke="#f7951a" stroke-width="2.4" fill="none"/>
<path d="M141.2,948.1V955.7M137.6,951.9H144.8" stroke="#f7951a" stroke-width="2.4" fill="none"/>
<path d="M141.9,957.0V964.6M138.3,960.8H145.5" stroke="#f7951a" stroke-width="2.4" fill="none"/>
<path d="M142.2,966.0V973.6M138.6,969.8H145.8" stroke="#f7951a" stroke-width="2.4" fill="none"/>
<path d="M142.5,975.0V982.6M138.9,978.8H146.1" stroke="#f7951a" stroke-width="2.4" fill="none"/>
<path d="M143.4,984.0V991.6M139.8,987.8H147.0" stroke="#f7951a" stroke-width="2.4" fill="none"/>
<path d="M144.2,992.9V1000.5M140.6,996.7H147.8" stroke="#f7951a" stroke-width="2.4" fill="none"/>
<path d="M145.1,1001.9V1009.5M141.5,1005.7H148.7" stroke="#f7951a" stroke-width="2.4" fill="none"/>
<path d="M146.0,1010.8V1018.4M142.4,1014.6H149.6" stroke="#f7951a" stroke-width="2.4" fill="none"/>
<path d="M147.0,1019.8V1027.4M143.4,1023.6H150.6" stroke="#f7951a" stroke-width="2.4" fill="none"/>
<path d="M148.1,1028.7V1036.3M144.5,1032.5H151.7" stroke="#f7951a" stroke-width="2.4" fill="none"/>
<path d="M148.7,1037.7V1045.3M145.1,1041.5H152.3" stroke="#f7951a" stroke-width="2.4" fill="none"/>
<path d="M149.3,1046.7V1054.3M145.7,1050.5H152.9" stroke="#f7951a" stroke-width="2.4" fill="none"/>
<path d="M149.8,1055.7V1063.3M146.2,1059.5H153.4" stroke="#f7951a" stroke-width="2.4" fill="none"/>
<path d="M151.4,1064.5V1072.1M147.8,1068.3H155.0" stroke="#f7951a" stroke-width="2.4" fill="none"/>
<path d="M152.8,1073.4V1081.0M149.2,1077.2H156.4" stroke="#f7951a" stroke-width="2.4" fill="none"/>
<path d="M153.0,1082.4V1090.0M149.4,1086.2H156.6" stroke="#f7951a" stroke-width="2.4" fill="none"/>
<path d="M153.2,1091.4V1099.0M149.6,1095.2H156.8" stroke="#f7951a" stroke-width="2.4" fill="none"/>
<path d="M153.4,1100.4V1108.0M149.8,1104.2H157.0" stroke="#f7951a" stroke-width="2.4" fill="none"/>
<path d="M155.5,1108.9V1116.5M151.9,1112.7H159.1" stroke="#f7951a" stroke-width="2.4" fill="none"/>
<path d="M158.9,1117.1V1124.7M155.3,1120.9H162.5" stroke="#f7951a" stroke-width="2.4" fill="none"/>
<path d="M160.1,1126.1V1133.7M156.5,1129.9H163.7" stroke="#f7951a" stroke-width="2.4" fill="none"/>
<path d="M161.2,1135.0V1142.6M157.6,1138.8H164.8" stroke="#f7951a" stroke-width="2.4" fill="none"/>
<path d="M168.4,1144.0V1151.6M164.8,1147.8H172.0" stroke="#f7951a" stroke-width="2.4" fill="none"/>
<path d="M168.7,1153.0V1160.6M165.1,1156.8H172.3" stroke="#f7951a" stroke-width="2.4" fill="none"/>
<path d="M172.7,1160.1V1167.7M169.1,1163.9H176.3" stroke="#f7951a" stroke-width="2.4" fill="none"/>
<path d="M174.0,1169.1V1176.7M170.4,1172.9H177.6" stroke="#f7951a" stroke-width="2.4" fill="none"/>
<path d="M175.2,1178.0V1185.6M171.6,1181.8H178.8" stroke="#f7951a" stroke-width="2.4" fill="none"/>
<path d="M183.8,1186.9V1194.5M180.2,1190.7H187.4" stroke="#f7951a" stroke-width="2.4" fill="none"/>
<path d="M186.5,1194.9V1202.5M182.9,1198.7H190.1" stroke="#f7951a" stroke-width="2.4" fill="none"/>
<path d="M217.0,1218.7V1226.3M213.4,1222.5H220.6" stroke="#f7951a" stroke-width="2.4" fill="none"/>
<path d="M225.0,1218.7V1226.3M221.4,1222.5H228.6" stroke="#f7951a" stroke-width="2.4" fill="none"/>
<path d="M274.0,1234.7V1242.3M270.4,1238.5H277.6" stroke="#f7951a" stroke-width="2.4" fill="none"/>
<path d="M287.1,1234.7V1242.3M283.5,1238.5H290.7" stroke="#f7951a" stroke-width="2.4" fill="none"/>
<path d="M302.4,1234.7V1242.3M298.8,1238.5H306.0" stroke="#f7951a" stroke-width="2.4" fill="none"/>
<path d="M321.4,1248.2V1255.8M317.8,1252.0H325.0" stroke="#f7951a" stroke-width="2.4" fill="none"/>
<path d="M331.4,1248.2V1255.8M327.8,1252.0H335.0" stroke="#f7951a" stroke-width="2.4" fill="none"/>
<path d="M356.4,1248.2V1255.8M352.8,1252.0H360.0" stroke="#f7951a" stroke-width="2.4" fill="none"/>
<path d="M367.6,1248.2V1255.8M364.0,1252.0H371.2" stroke="#f7951a" stroke-width="2.4" fill="none"/>
<path d="M136.7,898.1 L137.4,921.5 L138.1,943.4 L138.9,972.6 L139.6,1001.8 L140.3,1031.0 L141.8,1060.2 L143.3,1075.0 L144.7,1104.2 L146.2,1117.3 L147.6,1140.7 L149.1,1162.6 L150.6,1177.2 L154.2,1206.4 L157.9,1221.0 L160.8,1232.0 L172.5,1232.0 L172.5,1236.4 L182.7,1236.4 L182.7,1240.7 L190.0,1240.7 L190.0,1245.1 L200.2,1245.1 L200.2,1252.4 L268.8,1252.4 L268.8,1263.3 L524.5,1263.3" fill="none" stroke="#ee2c35" stroke-width="3.1" stroke-linejoin="miter" stroke-miterlimit="2"/>
<path d="M136.7,898.1 L137.4,921.5 M137.4,921.5 L138.1,943.4 M138.1,943.4 L138.9,972.6 M138.9,972.6 L139.6,1001.8 M139.6,1001.8 L140.3,1031.0 M140.3,1031.0 L141.8,1060.2 M141.8,1060.2 L143.3,1075.0 M143.3,1075.0 L144.7,1104.2 M144.7,1104.2 L146.2,1117.3 M146.2,1117.3 L147.6,1140.7 M147.6,1140.7 L149.1,1162.6 M149.1,1162.6 L150.6,1177.2 M150.6,1177.2 L154.2,1206.4 M154.2,1206.4 L157.9,1221.0 M157.9,1221.0 L160.8,1232.0" fill="none" stroke="#ee2c35" stroke-width="4.0" stroke-linecap="round"/>
<path d="M137.0,903.3V910.9M133.4,907.1H140.6" stroke="#ee2c35" stroke-width="2.4" fill="none"/>
<path d="M137.2,912.3V919.9M133.6,916.1H140.8" stroke="#ee2c35" stroke-width="2.4" fill="none"/>
<path d="M137.5,921.3V928.9M133.9,925.1H141.1" stroke="#ee2c35" stroke-width="2.4" fill="none"/>
<path d="M137.8,930.3V937.9M134.2,934.1H141.4" stroke="#ee2c35" stroke-width="2.4" fill="none"/>
<path d="M138.1,939.3V946.9M134.5,943.1H141.7" stroke="#ee2c35" stroke-width="2.4" fill="none"/>
<path d="M138.3,948.3V955.9M134.7,952.1H141.9" stroke="#ee2c35" stroke-width="2.4" fill="none"/>
<path d="M138.6,957.3V964.9M135.0,961.1H142.2" stroke="#ee2c35" stroke-width="2.4" fill="none"/>
<path d="M138.8,966.3V973.9M135.2,970.1H142.4" stroke="#ee2c35" stroke-width="2.4" fill="none"/>
<path d="M139.1,975.3V982.9M135.5,979.1H142.7" stroke="#ee2c35" stroke-width="2.4" fill="none"/>
<path d="M139.3,984.3V991.9M135.7,988.1H142.9" stroke="#ee2c35" stroke-width="2.4" fill="none"/>
<path d="M139.5,993.3V1000.9M135.9,997.1H143.1" stroke="#ee2c35" stroke-width="2.4" fill="none"/>
<path d="M139.7,1002.3V1009.9M136.1,1006.1H143.3" stroke="#ee2c35" stroke-width="2.4" fill="none"/>
<path d="M139.9,1011.3V1018.9M136.3,1015.1H143.5" stroke="#ee2c35" stroke-width="2.4" fill="none"/>
<path d="M140.1,1020.3V1027.9M136.5,1024.1H143.7" stroke="#ee2c35" stroke-width="2.4" fill="none"/>
<path d="M140.4,1029.2V1036.8M136.8,1033.0H144.0" stroke="#ee2c35" stroke-width="2.4" fill="none"/>
<path d="M140.9,1038.2V1045.8M137.3,1042.0H144.5" stroke="#ee2c35" stroke-width="2.4" fill="none"/>
<path d="M141.3,1047.2V1054.8M137.7,1051.0H144.9" stroke="#ee2c35" stroke-width="2.4" fill="none"/>
<path d="M141.8,1056.2V1063.8M138.2,1060.0H145.4" stroke="#ee2c35" stroke-width="2.4" fill="none"/>
<path d="M142.7,1065.2V1072.8M139.1,1069.0H146.3" stroke="#ee2c35" stroke-width="2.4" fill="none"/>
<path d="M143.4,1074.1V1081.7M139.8,1077.9H147.0" stroke="#ee2c35" stroke-width="2.4" fill="none"/>
<path d="M143.9,1083.1V1090.7M140.3,1086.9H147.5" stroke="#ee2c35" stroke-width="2.4" fill="none"/>
<path d="M144.3,1092.1V1099.7M140.7,1095.9H147.9" stroke="#ee2c35" stroke-width="2.4" fill="none"/>
<path d="M144.8,1101.1V1108.7M141.2,1104.9H148.4" stroke="#ee2c35" stroke-width="2.4" fill="none"/>
<path d="M145.8,1110.0V1117.6M142.2,1113.8H149.4" stroke="#ee2c35" stroke-width="2.4" fill="none"/>
<path d="M146.5,1119.0V1126.6M142.9,1122.8H150.1" stroke="#ee2c35" stroke-width="2.4" fill="none"/>
<path d="M147.1,1128.0V1135.6M143.5,1131.8H150.7" stroke="#ee2c35" stroke-width="2.4" fill="none"/>
<path d="M147.6,1137.0V1144.6M144.0,1140.8H151.2" stroke="#ee2c35" stroke-width="2.4" fill="none"/>
<path d="M148.2,1146.0V1153.6M144.6,1149.8H151.8" stroke="#ee2c35" stroke-width="2.4" fill="none"/>
<path d="M148.8,1154.9V1162.5M145.2,1158.7H152.4" stroke="#ee2c35" stroke-width="2.4" fill="none"/>
<path d="M149.6,1163.9V1171.5M146.0,1167.7H153.2" stroke="#ee2c35" stroke-width="2.4" fill="none"/>
<path d="M150.5,1172.9V1180.5M146.9,1176.7H154.1" stroke="#ee2c35" stroke-width="2.4" fill="none"/>
<path d="M151.6,1181.8V1189.4M148.0,1185.6H155.2" stroke="#ee2c35" stroke-width="2.4" fill="none"/>
<path d="M152.7,1190.7V1198.3M149.1,1194.5H156.3" stroke="#ee2c35" stroke-width="2.4" fill="none"/>
<path d="M153.8,1199.6V1207.2M150.2,1203.4H157.4" stroke="#ee2c35" stroke-width="2.4" fill="none"/>
<path d="M155.7,1208.4V1216.0M152.1,1212.2H159.3" stroke="#ee2c35" stroke-width="2.4" fill="none"/>
<path d="M157.9,1217.2V1224.8M154.3,1221.0H161.5" stroke="#ee2c35" stroke-width="2.4" fill="none"/>
<path d="M160.2,1225.9V1233.5M156.6,1229.7H163.8" stroke="#ee2c35" stroke-width="2.4" fill="none"/>
<path d="M203.9,1248.6V1256.2M200.3,1252.4H207.5" stroke="#ee2c35" stroke-width="2.4" fill="none"/>
<path d="M213.3,1248.6V1256.2M209.7,1252.4H216.9" stroke="#ee2c35" stroke-width="2.4" fill="none"/>
<path d="M261.5,1248.6V1256.2M257.9,1252.4H265.1" stroke="#ee2c35" stroke-width="2.4" fill="none"/>
<path d="M298.8,1259.5V1267.1M295.2,1263.3H302.4" stroke="#ee2c35" stroke-width="2.4" fill="none"/>
<path d="M398.5,1259.5V1267.1M394.9,1263.3H402.1" stroke="#ee2c35" stroke-width="2.4" fill="none"/>
<path d="M454.9,1259.5V1267.1M451.3,1263.3H458.5" stroke="#ee2c35" stroke-width="2.4" fill="none"/>
<path d="M523.6,1259.5V1267.1M520.0,1263.3H527.2" stroke="#ee2c35" stroke-width="2.4" fill="none"/>
<path d="M812.4,898.1 L815.5,898.1 L815.5,916.4 L824.1,916.4 L824.1,933.9 L848.2,933.9 L848.2,952.9 L855.5,952.9 L855.5,971.2 L865.4,971.2 L865.4,992.3 L900.8,992.3 L900.8,1016.4 L929.2,1016.4 L929.2,1048.6 L942.4,1048.6 L942.4,1091.5 L997.5,1091.5 L997.5,1198.8 L1004.2,1198.8" fill="none" stroke="#2db84b" stroke-width="3.1" stroke-linejoin="miter" stroke-miterlimit="2"/>
<path d="M860.6,967.4V975.0M857.0,971.2H864.2" stroke="#2db84b" stroke-width="2.4" fill="none"/>
<path d="M870.1,988.5V996.1M866.5,992.3H873.7" stroke="#2db84b" stroke-width="2.4" fill="none"/>
<path d="M887.3,988.5V996.1M883.7,992.3H890.9" stroke="#2db84b" stroke-width="2.4" fill="none"/>
<path d="M912.4,1012.6V1020.2M908.8,1016.4H916.0" stroke="#2db84b" stroke-width="2.4" fill="none"/>
<path d="M923.8,1012.6V1020.2M920.2,1016.4H927.4" stroke="#2db84b" stroke-width="2.4" fill="none"/>
<path d="M940.9,1044.8V1052.4M937.3,1048.6H944.5" stroke="#2db84b" stroke-width="2.4" fill="none"/>
<path d="M1004.2,1195.0V1202.6M1000.6,1198.8H1007.8" stroke="#2db84b" stroke-width="2.4" fill="none"/>
<path d="M812.4,898.1 L819.0,909.8 L820.4,915.7 L824.8,918.6 L827.0,924.4 L830.7,927.3 L832.9,933.2 L835.0,940.5 L837.2,947.8 L838.7,953.6 L842.3,959.5 L844.5,966.8 L848.2,974.1 L852.6,981.4 L854.8,987.2 L859.9,987.2 L863.5,993.1 L865.7,1000.4 L869.4,1003.3 L873.0,1007.7 L878.9,1006.2 L881.8,1012.0 L885.4,1015.7 L889.8,1017.9 L891.3,1029.6 L896.4,1035.4 L900.8,1038.3 L904.4,1047.1 L908.1,1053.0 L915.4,1055.1 L916.8,1060.2 L925.6,1060.2 L927.8,1069.0 L931.4,1074.8 L932.2,1082.3 L946.0,1082.3 L946.0,1092.0 L990.0,1092.0 L990.0,1111.4 L1024.2,1111.4 L1024.2,1139.2 L1098.5,1139.2 L1098.5,1305.3" fill="none" stroke="#3d58ab" stroke-width="3.1" stroke-linejoin="miter" stroke-miterlimit="2"/>
<path d="M812.4,898.1 L819.0,909.8 M819.0,909.8 L820.4,915.7 M820.4,915.7 L824.8,918.6 M824.8,918.6 L827.0,924.4 M827.0,924.4 L830.7,927.3 M830.7,927.3 L832.9,933.2 M832.9,933.2 L835.0,940.5 M835.0,940.5 L837.2,947.8 M837.2,947.8 L838.7,953.6 M838.7,953.6 L842.3,959.5 M842.3,959.5 L844.5,966.8 M844.5,966.8 L848.2,974.1 M848.2,974.1 L852.6,981.4 M852.6,981.4 L854.8,987.2 M859.9,987.2 L863.5,993.1 M863.5,993.1 L865.7,1000.4 M865.7,1000.4 L869.4,1003.3 M869.4,1003.3 L873.0,1007.7 M873.0,1007.7 L878.9,1006.2 M878.9,1006.2 L881.8,1012.0 M881.8,1012.0 L885.4,1015.7 M885.4,1015.7 L889.8,1017.9 M889.8,1017.9 L891.3,1029.6 M891.3,1029.6 L896.4,1035.4 M896.4,1035.4 L900.8,1038.3 M900.8,1038.3 L904.4,1047.1 M904.4,1047.1 L908.1,1053.0 M908.1,1053.0 L915.4,1055.1 M915.4,1055.1 L916.8,1060.2 M925.6,1060.2 L927.8,1069.0 M927.8,1069.0 L931.4,1074.8 M931.4,1074.8 L932.2,1082.3" fill="none" stroke="#3d58ab" stroke-width="4.0" stroke-linecap="round"/>
<path d="M816.8,902.1V909.7M813.2,905.9H820.4" stroke="#3d58ab" stroke-width="2.4" fill="none"/>
<path d="M820.1,910.4V918.0M816.5,914.2H823.7" stroke="#3d58ab" stroke-width="2.4" fill="none"/>
<path d="M825.6,916.9V924.5M822.0,920.7H829.2" stroke="#3d58ab" stroke-width="2.4" fill="none"/>
<path d="M830.8,923.8V931.4M827.2,927.6H834.4" stroke="#3d58ab" stroke-width="2.4" fill="none"/>
<path d="M833.7,932.3V939.9M830.1,936.1H837.3" stroke="#3d58ab" stroke-width="2.4" fill="none"/>
<path d="M836.3,940.9V948.5M832.7,944.7H839.9" stroke="#3d58ab" stroke-width="2.4" fill="none"/>
<path d="M838.7,949.6V957.2M835.1,953.4H842.3" stroke="#3d58ab" stroke-width="2.4" fill="none"/>
<path d="M842.9,957.5V965.1M839.3,961.3H846.5" stroke="#3d58ab" stroke-width="2.4" fill="none"/>
<path d="M846.0,965.9V973.5M842.4,969.7H849.6" stroke="#3d58ab" stroke-width="2.4" fill="none"/>
<path d="M850.3,973.8V981.4M846.7,977.6H853.9" stroke="#3d58ab" stroke-width="2.4" fill="none"/>
<path d="M854.2,981.9V989.5M850.6,985.7H857.8" stroke="#3d58ab" stroke-width="2.4" fill="none"/>
<path d="M863.6,989.7V997.3M860.0,993.5H867.2" stroke="#3d58ab" stroke-width="2.4" fill="none"/>
<path d="M867.1,997.7V1005.3M863.5,1001.5H870.7" stroke="#3d58ab" stroke-width="2.4" fill="none"/>
<path d="M873.4,1003.8V1011.4M869.8,1007.6H877.0" stroke="#3d58ab" stroke-width="2.4" fill="none"/>
<path d="M880.4,1005.4V1013.0M876.8,1009.2H884.0" stroke="#3d58ab" stroke-width="2.4" fill="none"/>
<path d="M886.0,1012.2V1019.8M882.4,1016.0H889.6" stroke="#3d58ab" stroke-width="2.4" fill="none"/>
<path d="M890.4,1018.9V1026.5M886.8,1022.7H894.0" stroke="#3d58ab" stroke-width="2.4" fill="none"/>
<path d="M892.6,1027.3V1034.9M889.0,1031.1H896.2" stroke="#3d58ab" stroke-width="2.4" fill="none"/>
<path d="M899.1,1033.4V1041.0M895.5,1037.2H902.7" stroke="#3d58ab" stroke-width="2.4" fill="none"/>
<path d="M903.5,1041.0V1048.6M899.9,1044.8H907.1" stroke="#3d58ab" stroke-width="2.4" fill="none"/>
<path d="M907.9,1048.8V1056.4M904.3,1052.6H911.5" stroke="#3d58ab" stroke-width="2.4" fill="none"/>
<path d="M915.6,1052.2V1059.8M912.0,1056.0H919.2" stroke="#3d58ab" stroke-width="2.4" fill="none"/>
<path d="M926.7,1060.9V1068.5M923.1,1064.7H930.3" stroke="#3d58ab" stroke-width="2.4" fill="none"/>
<path d="M930.2,1069.1V1076.7M926.6,1072.9H933.8" stroke="#3d58ab" stroke-width="2.4" fill="none"/>
<path d="M932.1,1077.7V1085.3M928.5,1081.5H935.7" stroke="#3d58ab" stroke-width="2.4" fill="none"/>
<path d="M956.2,1088.2V1095.8M952.6,1092.0H959.8" stroke="#3d58ab" stroke-width="2.4" fill="none"/>
<path d="M959.2,1088.2V1095.8M955.6,1092.0H962.8" stroke="#3d58ab" stroke-width="2.4" fill="none"/>
<path d="M966.5,1088.2V1095.8M962.9,1092.0H970.1" stroke="#3d58ab" stroke-width="2.4" fill="none"/>
<path d="M976.7,1088.2V1095.8M973.1,1092.0H980.3" stroke="#3d58ab" stroke-width="2.4" fill="none"/>
<path d="M982.5,1088.2V1095.8M978.9,1092.0H986.1" stroke="#3d58ab" stroke-width="2.4" fill="none"/>
<path d="M986.9,1088.2V1095.8M983.3,1092.0H990.5" stroke="#3d58ab" stroke-width="2.4" fill="none"/>
<path d="M994.7,1107.6V1115.2M991.1,1111.4H998.3" stroke="#3d58ab" stroke-width="2.4" fill="none"/>
<path d="M1009.2,1107.6V1115.2M1005.6,1111.4H1012.8" stroke="#3d58ab" stroke-width="2.4" fill="none"/>
<path d="M1018.0,1107.6V1115.2M1014.4,1111.4H1021.6" stroke="#3d58ab" stroke-width="2.4" fill="none"/>
<path d="M1030.9,1135.4V1143.0M1027.3,1139.2H1034.5" stroke="#3d58ab" stroke-width="2.4" fill="none"/>
<path d="M1050.9,1135.4V1143.0M1047.3,1139.2H1054.5" stroke="#3d58ab" stroke-width="2.4" fill="none"/>
<path d="M1088.8,1135.4V1143.0M1085.2,1139.2H1092.4" stroke="#3d58ab" stroke-width="2.4" fill="none"/>
<path d="M812.4,898.1 L816.1,920.0 L820.4,931.7 L823.4,943.4 L825.6,955.1 L827.7,966.8 L831.4,977.0 L835.8,981.4 L838.0,993.1 L840.9,1001.8 L843.8,1009.1 L844.5,1025.2 L847.5,1038.3 L849.6,1048.6 L852.6,1055.8 L855.5,1069.0 L858.4,1075.0 L865.7,1077.2 L867.2,1088.1 L872.3,1091.1 L873.7,1101.3 L878.9,1110.0 L883.2,1111.5 L886.2,1118.8 L893.5,1120.3 L899.3,1127.6 L900.8,1132.7 L916.1,1132.7 L916.1,1139.0 L998.4,1139.0 L998.4,1155.1 L1006.4,1155.1 L1006.4,1180.1 L1039.2,1180.1 L1039.2,1305.3" fill="none" stroke="#7b297d" stroke-width="3.1" stroke-linejoin="miter" stroke-miterlimit="2"/>
<path d="M812.4,898.1 L816.1,920.0 M816.1,920.0 L820.4,931.7 M820.4,931.7 L823.4,943.4 M823.4,943.4 L825.6,955.1 M825.6,955.1 L827.7,966.8 M827.7,966.8 L831.4,977.0 M831.4,977.0 L835.8,981.4 M835.8,981.4 L838.0,993.1 M838.0,993.1 L840.9,1001.8 M840.9,1001.8 L843.8,1009.1 M843.8,1009.1 L844.5,1025.2 M844.5,1025.2 L847.5,1038.3 M847.5,1038.3 L849.6,1048.6 M849.6,1048.6 L852.6,1055.8 M852.6,1055.8 L855.5,1069.0 M855.5,1069.0 L858.4,1075.0 M858.4,1075.0 L865.7,1077.2 M865.7,1077.2 L867.2,1088.1 M867.2,1088.1 L872.3,1091.1 M872.3,1091.1 L873.7,1101.3 M873.7,1101.3 L878.9,1110.0 M878.9,1110.0 L883.2,1111.5 M883.2,1111.5 L886.2,1118.8 M886.2,1118.8 L893.5,1120.3 M893.5,1120.3 L899.3,1127.6 M899.3,1127.6 L900.8,1132.7" fill="none" stroke="#7b297d" stroke-width="4.0" stroke-linecap="round"/>
<path d="M813.9,903.2V910.8M810.3,907.0H817.5" stroke="#7b297d" stroke-width="2.4" fill="none"/>
<path d="M815.4,912.0V919.6M811.8,915.8H819.0" stroke="#7b297d" stroke-width="2.4" fill="none"/>
<path d="M817.8,920.7V928.3M814.2,924.5H821.4" stroke="#7b297d" stroke-width="2.4" fill="none"/>
<path d="M820.7,929.2V936.8M817.1,933.0H824.3" stroke="#7b297d" stroke-width="2.4" fill="none"/>
<path d="M823.0,937.9V945.5M819.4,941.7H826.6" stroke="#7b297d" stroke-width="2.4" fill="none"/>
<path d="M824.7,946.7V954.3M821.1,950.5H828.3" stroke="#7b297d" stroke-width="2.4" fill="none"/>
<path d="M826.4,955.6V963.2M822.8,959.4H830.0" stroke="#7b297d" stroke-width="2.4" fill="none"/>
<path d="M828.2,964.4V972.0M824.6,968.2H831.8" stroke="#7b297d" stroke-width="2.4" fill="none"/>
<path d="M831.3,972.8V980.4M827.7,976.6H834.9" stroke="#7b297d" stroke-width="2.4" fill="none"/>
<path d="M836.2,979.9V987.5M832.6,983.7H839.8" stroke="#7b297d" stroke-width="2.4" fill="none"/>
<path d="M837.9,988.8V996.4M834.3,992.6H841.5" stroke="#7b297d" stroke-width="2.4" fill="none"/>
<path d="M840.7,997.3V1004.9M837.1,1001.1H844.3" stroke="#7b297d" stroke-width="2.4" fill="none"/>
<path d="M843.8,1005.8V1013.4M840.2,1009.6H847.4" stroke="#7b297d" stroke-width="2.4" fill="none"/>
<path d="M844.2,1014.7V1022.3M840.6,1018.5H847.8" stroke="#7b297d" stroke-width="2.4" fill="none"/>
<path d="M845.0,1023.7V1031.3M841.4,1027.5H848.6" stroke="#7b297d" stroke-width="2.4" fill="none"/>
<path d="M847.0,1032.4V1040.0M843.4,1036.2H850.6" stroke="#7b297d" stroke-width="2.4" fill="none"/>
<path d="M848.9,1041.3V1048.9M845.3,1045.1H852.5" stroke="#7b297d" stroke-width="2.4" fill="none"/>
<path d="M851.7,1049.8V1057.4M848.1,1053.6H855.3" stroke="#7b297d" stroke-width="2.4" fill="none"/>
<path d="M854.0,1058.4V1066.0M850.4,1062.2H857.6" stroke="#7b297d" stroke-width="2.4" fill="none"/>
<path d="M856.4,1067.1V1074.7M852.8,1070.9H860.0" stroke="#7b297d" stroke-width="2.4" fill="none"/>
<path d="M862.6,1072.5V1080.1M859.0,1076.3H866.2" stroke="#7b297d" stroke-width="2.4" fill="none"/>
<path d="M866.5,1079.1V1086.7M862.9,1082.9H870.1" stroke="#7b297d" stroke-width="2.4" fill="none"/>
<path d="M870.5,1086.2V1093.8M866.9,1090.0H874.1" stroke="#7b297d" stroke-width="2.4" fill="none"/>
<path d="M873.2,1094.1V1101.7M869.6,1097.9H876.8" stroke="#7b297d" stroke-width="2.4" fill="none"/>
<path d="M876.6,1102.3V1109.9M873.0,1106.1H880.2" stroke="#7b297d" stroke-width="2.4" fill="none"/>
<path d="M883.1,1107.7V1115.3M879.5,1111.5H886.7" stroke="#7b297d" stroke-width="2.4" fill="none"/>
<path d="M887.2,1115.2V1122.8M883.6,1119.0H890.8" stroke="#7b297d" stroke-width="2.4" fill="none"/>
<path d="M895.1,1118.5V1126.1M891.5,1122.3H898.7" stroke="#7b297d" stroke-width="2.4" fill="none"/>
<path d="M899.9,1125.9V1133.5M896.3,1129.7H903.5" stroke="#7b297d" stroke-width="2.4" fill="none"/>
<path d="M907.3,1128.9V1136.5M903.7,1132.7H910.9" stroke="#7b297d" stroke-width="2.4" fill="none"/>
<path d="M926.3,1135.2V1142.8M922.7,1139.0H929.9" stroke="#7b297d" stroke-width="2.4" fill="none"/>
<path d="M930.7,1135.2V1142.8M927.1,1139.0H934.3" stroke="#7b297d" stroke-width="2.4" fill="none"/>
<path d="M938.0,1135.2V1142.8M934.4,1139.0H941.6" stroke="#7b297d" stroke-width="2.4" fill="none"/>
<path d="M949.7,1135.2V1142.8M946.1,1139.0H953.3" stroke="#7b297d" stroke-width="2.4" fill="none"/>
<path d="M953.3,1135.2V1142.8M949.7,1139.0H956.9" stroke="#7b297d" stroke-width="2.4" fill="none"/>
<path d="M961.4,1135.2V1142.8M957.8,1139.0H965.0" stroke="#7b297d" stroke-width="2.4" fill="none"/>
<path d="M971.6,1135.2V1142.8M968.0,1139.0H975.2" stroke="#7b297d" stroke-width="2.4" fill="none"/>
<path d="M974.5,1135.2V1142.8M970.9,1139.0H978.1" stroke="#7b297d" stroke-width="2.4" fill="none"/>
<path d="M1014.7,1176.3V1183.9M1011.1,1180.1H1018.3" stroke="#7b297d" stroke-width="2.4" fill="none"/>
<path d="M1027.6,1176.3V1183.9M1024.0,1180.1H1031.2" stroke="#7b297d" stroke-width="2.4" fill="none"/>
<path d="M1033.1,1176.3V1183.9M1029.5,1180.1H1036.7" stroke="#7b297d" stroke-width="2.4" fill="none"/>
<path d="M812.4,898.1 L814.6,899.6 L816.1,911.3 L816.8,924.4 L819.0,940.5 L821.9,947.8 L823.4,958.0 L824.1,972.6 L825.6,993.1 L827.7,1004.7 L829.2,1023.7 L830.7,1045.6 L832.1,1067.5 L834.3,1092.5 L838.0,1111.5 L840.9,1121.7 L843.8,1133.4 L847.5,1145.1 L849.6,1159.7 L854.8,1164.1 L858.4,1168.5 L861.3,1178.7 L867.9,1178.7 L868.6,1196.2 L875.2,1196.2 L876.7,1202.0 L884.7,1202.0 L885.4,1214.5 L894.9,1214.5 L895.6,1222.5 L908.8,1222.5 L908.8,1231.2 L932.2,1231.2 L932.2,1239.4 L996.7,1239.4 L996.7,1252.0 L1004.7,1252.0 L1004.7,1266.1 L1042.6,1266.1" fill="none" stroke="#f7951a" stroke-width="3.1" stroke-linejoin="miter" stroke-miterlimit="2"/>
<path d="M812.4,898.1 L814.6,899.6 M814.6,899.6 L816.1,911.3 M816.1,911.3 L816.8,924.4 M816.8,924.4 L819.0,940.5 M819.0,940.5 L821.9,947.8 M821.9,947.8 L823.4,958.0 M823.4,958.0 L824.1,972.6 M824.1,972.6 L825.6,993.1 M825.6,993.1 L827.7,1004.7 M827.7,1004.7 L829.2,1023.7 M829.2,1023.7 L830.7,1045.6 M830.7,1045.6 L832.1,1067.5 M832.1,1067.5 L834.3,1092.5 M834.3,1092.5 L838.0,1111.5 M838.0,1111.5 L840.9,1121.7 M840.9,1121.7 L843.8,1133.4 M843.8,1133.4 L847.5,1145.1 M847.5,1145.1 L849.6,1159.7 M849.6,1159.7 L854.8,1164.1 M854.8,1164.1 L858.4,1168.5 M858.4,1168.5 L861.3,1178.7 M867.9,1178.7 L868.6,1196.2 M875.2,1196.2 L876.7,1202.0 M884.7,1202.0 L885.4,1214.5 M894.9,1214.5 L895.6,1222.5" fill="none" stroke="#f7951a" stroke-width="4.0" stroke-linecap="round"/>
<path d="M815.4,902.1V909.7M811.8,905.9H819.0" stroke="#f7951a" stroke-width="2.4" fill="none"/>
<path d="M816.3,911.0V918.6M812.7,914.8H819.9" stroke="#f7951a" stroke-width="2.4" fill="none"/>
<path d="M816.8,920.0V927.6M813.2,923.8H820.4" stroke="#f7951a" stroke-width="2.4" fill="none"/>
<path d="M817.9,928.9V936.5M814.3,932.7H821.5" stroke="#f7951a" stroke-width="2.4" fill="none"/>
<path d="M819.4,937.8V945.4M815.8,941.6H823.0" stroke="#f7951a" stroke-width="2.4" fill="none"/>
<path d="M822.2,946.3V953.9M818.6,950.1H825.8" stroke="#f7951a" stroke-width="2.4" fill="none"/>
<path d="M823.4,955.2V962.8M819.8,959.0H827.0" stroke="#f7951a" stroke-width="2.4" fill="none"/>
<path d="M823.9,964.2V971.8M820.3,968.0H827.5" stroke="#f7951a" stroke-width="2.4" fill="none"/>
<path d="M824.4,973.2V980.8M820.8,977.0H828.0" stroke="#f7951a" stroke-width="2.4" fill="none"/>
<path d="M825.1,982.2V989.8M821.5,986.0H828.7" stroke="#f7951a" stroke-width="2.4" fill="none"/>
<path d="M825.9,991.1V998.7M822.3,994.9H829.5" stroke="#f7951a" stroke-width="2.4" fill="none"/>
<path d="M827.5,1000.0V1007.6M823.9,1003.8H831.1" stroke="#f7951a" stroke-width="2.4" fill="none"/>
<path d="M828.3,1008.9V1016.5M824.7,1012.7H831.9" stroke="#f7951a" stroke-width="2.4" fill="none"/>
<path d="M829.0,1017.9V1025.5M825.4,1021.7H832.6" stroke="#f7951a" stroke-width="2.4" fill="none"/>
<path d="M829.7,1026.9V1034.5M826.1,1030.7H833.3" stroke="#f7951a" stroke-width="2.4" fill="none"/>
<path d="M830.3,1035.9V1043.5M826.7,1039.7H833.9" stroke="#f7951a" stroke-width="2.4" fill="none"/>
<path d="M830.9,1044.8V1052.4M827.3,1048.6H834.5" stroke="#f7951a" stroke-width="2.4" fill="none"/>
<path d="M831.5,1053.8V1061.4M827.9,1057.6H835.1" stroke="#f7951a" stroke-width="2.4" fill="none"/>
<path d="M832.0,1062.8V1070.4M828.4,1066.6H835.6" stroke="#f7951a" stroke-width="2.4" fill="none"/>
<path d="M832.8,1071.8V1079.4M829.2,1075.6H836.4" stroke="#f7951a" stroke-width="2.4" fill="none"/>
<path d="M833.6,1080.7V1088.3M830.0,1084.5H837.2" stroke="#f7951a" stroke-width="2.4" fill="none"/>
<path d="M834.5,1089.7V1097.3M830.9,1093.5H838.1" stroke="#f7951a" stroke-width="2.4" fill="none"/>
<path d="M836.2,1098.5V1106.1M832.6,1102.3H839.8" stroke="#f7951a" stroke-width="2.4" fill="none"/>
<path d="M837.9,1107.3V1114.9M834.3,1111.1H841.5" stroke="#f7951a" stroke-width="2.4" fill="none"/>
<path d="M840.4,1116.0V1123.6M836.8,1119.8H844.0" stroke="#f7951a" stroke-width="2.4" fill="none"/>
<path d="M842.6,1124.7V1132.3M839.0,1128.5H846.2" stroke="#f7951a" stroke-width="2.4" fill="none"/>
<path d="M845.0,1133.4V1141.0M841.4,1137.2H848.6" stroke="#f7951a" stroke-width="2.4" fill="none"/>
<path d="M847.6,1142.0V1149.6M844.0,1145.8H851.2" stroke="#f7951a" stroke-width="2.4" fill="none"/>
<path d="M848.9,1150.9V1158.5M845.3,1154.7H852.5" stroke="#f7951a" stroke-width="2.4" fill="none"/>
<path d="M852.6,1158.5V1166.1M849.0,1162.3H856.2" stroke="#f7951a" stroke-width="2.4" fill="none"/>
<path d="M858.5,1165.1V1172.7M854.9,1168.9H862.1" stroke="#f7951a" stroke-width="2.4" fill="none"/>
<path d="M861.0,1173.8V1181.4M857.4,1177.6H864.6" stroke="#f7951a" stroke-width="2.4" fill="none"/>
<path d="M868.2,1182.8V1190.4M864.6,1186.6H871.8" stroke="#f7951a" stroke-width="2.4" fill="none"/>
<path d="M868.6,1191.7V1199.3M865.0,1195.5H872.2" stroke="#f7951a" stroke-width="2.4" fill="none"/>
<path d="M884.8,1200.6V1208.2M881.2,1204.4H888.4" stroke="#f7951a" stroke-width="2.4" fill="none"/>
<path d="M885.3,1209.5V1217.1M881.7,1213.3H888.9" stroke="#f7951a" stroke-width="2.4" fill="none"/>
<path d="M895.6,1218.5V1226.1M892.0,1222.3H899.2" stroke="#f7951a" stroke-width="2.4" fill="none"/>
<path d="M949.0,1235.6V1243.2M945.4,1239.4H952.6" stroke="#f7951a" stroke-width="2.4" fill="none"/>
<path d="M962.1,1235.6V1243.2M958.5,1239.4H965.7" stroke="#f7951a" stroke-width="2.4" fill="none"/>
<path d="M977.4,1235.6V1243.2M973.8,1239.4H981.0" stroke="#f7951a" stroke-width="2.4" fill="none"/>
<path d="M1031.4,1262.3V1269.9M1027.8,1266.1H1035.0" stroke="#f7951a" stroke-width="2.4" fill="none"/>
<path d="M1042.6,1262.3V1269.9M1039.0,1266.1H1046.2" stroke="#f7951a" stroke-width="2.4" fill="none"/>
<path d="M812.4,898.1 L813.1,920.0 L814.6,947.8 L816.1,972.6 L817.5,1001.8 L819.0,1031.0 L820.4,1060.2 L821.9,1089.6 L823.4,1111.5 L824.8,1129.0 L826.3,1143.6 L828.5,1159.7 L832.1,1174.3 L835.0,1186.0 L836.5,1203.5 L838.7,1207.9 L845.3,1207.9 L846.7,1216.6 L848.9,1225.4 L854.0,1228.3 L857.0,1235.6 L864.3,1237.1 L868.6,1241.5 L884.0,1241.5 L884.7,1248.8 L949.0,1248.8 L949.0,1260.6 L1200.3,1260.6" fill="none" stroke="#ee2c35" stroke-width="3.1" stroke-linejoin="miter" stroke-miterlimit="2"/>
<path d="M812.4,898.1 L813.1,920.0 M813.1,920.0 L814.6,947.8 M814.6,947.8 L816.1,972.6 M816.1,972.6 L817.5,1001.8 M817.5,1001.8 L819.0,1031.0 M819.0,1031.0 L820.4,1060.2 M820.4,1060.2 L821.9,1089.6 M821.9,1089.6 L823.4,1111.5 M823.4,1111.5 L824.8,1129.0 M824.8,1129.0 L826.3,1143.6 M826.3,1143.6 L828.5,1159.7 M828.5,1159.7 L832.1,1174.3 M832.1,1174.3 L835.0,1186.0 M835.0,1186.0 L836.5,1203.5 M836.5,1203.5 L838.7,1207.9 M845.3,1207.9 L846.7,1216.6 M846.7,1216.6 L848.9,1225.4 M848.9,1225.4 L854.0,1228.3 M854.0,1228.3 L857.0,1235.6 M857.0,1235.6 L864.3,1237.1 M864.3,1237.1 L868.6,1241.5 M884.0,1241.5 L884.7,1248.8" fill="none" stroke="#ee2c35" stroke-width="4.0" stroke-linecap="round"/>
<path d="M812.7,903.3V910.9M809.1,907.1H816.3" stroke="#ee2c35" stroke-width="2.4" fill="none"/>
<path d="M813.0,912.3V919.9M809.4,916.1H816.6" stroke="#ee2c35" stroke-width="2.4" fill="none"/>
<path d="M813.4,921.3V928.9M809.8,925.1H817.0" stroke="#ee2c35" stroke-width="2.4" fill="none"/>
<path d="M813.9,930.3V937.9M810.3,934.1H817.5" stroke="#ee2c35" stroke-width="2.4" fill="none"/>
<path d="M814.3,939.3V946.9M810.7,943.1H817.9" stroke="#ee2c35" stroke-width="2.4" fill="none"/>
<path d="M814.9,948.2V955.8M811.3,952.0H818.5" stroke="#ee2c35" stroke-width="2.4" fill="none"/>
<path d="M815.4,957.2V964.8M811.8,961.0H819.0" stroke="#ee2c35" stroke-width="2.4" fill="none"/>
<path d="M815.9,966.2V973.8M812.3,970.0H819.5" stroke="#ee2c35" stroke-width="2.4" fill="none"/>
<path d="M816.4,975.2V982.8M812.8,979.0H820.0" stroke="#ee2c35" stroke-width="2.4" fill="none"/>
<path d="M816.8,984.2V991.8M813.2,988.0H820.4" stroke="#ee2c35" stroke-width="2.4" fill="none"/>
<path d="M817.3,993.2V1000.8M813.7,997.0H820.9" stroke="#ee2c35" stroke-width="2.4" fill="none"/>
<path d="M817.7,1002.2V1009.8M814.1,1006.0H821.3" stroke="#ee2c35" stroke-width="2.4" fill="none"/>
<path d="M818.2,1011.2V1018.8M814.6,1015.0H821.8" stroke="#ee2c35" stroke-width="2.4" fill="none"/>
<path d="M818.6,1020.1V1027.7M815.0,1023.9H822.2" stroke="#ee2c35" stroke-width="2.4" fill="none"/>
<path d="M819.1,1029.1V1036.7M815.5,1032.9H822.7" stroke="#ee2c35" stroke-width="2.4" fill="none"/>
<path d="M819.5,1038.1V1045.7M815.9,1041.9H823.1" stroke="#ee2c35" stroke-width="2.4" fill="none"/>
<path d="M820.0,1047.1V1054.7M816.4,1050.9H823.6" stroke="#ee2c35" stroke-width="2.4" fill="none"/>
<path d="M820.4,1056.1V1063.7M816.8,1059.9H824.0" stroke="#ee2c35" stroke-width="2.4" fill="none"/>
<path d="M820.8,1065.1V1072.7M817.2,1068.9H824.4" stroke="#ee2c35" stroke-width="2.4" fill="none"/>
<path d="M821.3,1074.1V1081.7M817.7,1077.9H824.9" stroke="#ee2c35" stroke-width="2.4" fill="none"/>
<path d="M821.8,1083.1V1090.7M818.2,1086.9H825.4" stroke="#ee2c35" stroke-width="2.4" fill="none"/>
<path d="M822.3,1092.0V1099.6M818.7,1095.8H825.9" stroke="#ee2c35" stroke-width="2.4" fill="none"/>
<path d="M822.9,1101.0V1108.6M819.3,1104.8H826.5" stroke="#ee2c35" stroke-width="2.4" fill="none"/>
<path d="M823.6,1110.0V1117.6M820.0,1113.8H827.2" stroke="#ee2c35" stroke-width="2.4" fill="none"/>
<path d="M824.3,1119.0V1126.6M820.7,1122.8H827.9" stroke="#ee2c35" stroke-width="2.4" fill="none"/>
<path d="M825.1,1127.9V1135.5M821.5,1131.7H828.7" stroke="#ee2c35" stroke-width="2.4" fill="none"/>
<path d="M826.0,1136.9V1144.5M822.4,1140.7H829.6" stroke="#ee2c35" stroke-width="2.4" fill="none"/>
<path d="M827.1,1145.8V1153.4M823.5,1149.6H830.7" stroke="#ee2c35" stroke-width="2.4" fill="none"/>
<path d="M828.3,1154.7V1162.3M824.7,1158.5H831.9" stroke="#ee2c35" stroke-width="2.4" fill="none"/>
<path d="M830.4,1163.5V1171.1M826.8,1167.3H834.0" stroke="#ee2c35" stroke-width="2.4" fill="none"/>
<path d="M832.5,1172.2V1179.8M828.9,1176.0H836.1" stroke="#ee2c35" stroke-width="2.4" fill="none"/>
<path d="M834.7,1181.0V1188.6M831.1,1184.8H838.3" stroke="#ee2c35" stroke-width="2.4" fill="none"/>
<path d="M835.7,1189.9V1197.5M832.1,1193.7H839.3" stroke="#ee2c35" stroke-width="2.4" fill="none"/>
<path d="M836.4,1198.9V1206.5M832.8,1202.7H840.0" stroke="#ee2c35" stroke-width="2.4" fill="none"/>
<path d="M845.8,1207.3V1214.9M842.2,1211.1H849.4" stroke="#ee2c35" stroke-width="2.4" fill="none"/>
<path d="M847.5,1216.1V1223.7M843.9,1219.9H851.1" stroke="#ee2c35" stroke-width="2.4" fill="none"/>
<path d="M851.8,1223.3V1230.9M848.2,1227.1H855.4" stroke="#ee2c35" stroke-width="2.4" fill="none"/>
<path d="M856.5,1230.5V1238.1M852.9,1234.3H860.1" stroke="#ee2c35" stroke-width="2.4" fill="none"/>
<path d="M864.4,1233.4V1241.0M860.8,1237.2H868.0" stroke="#ee2c35" stroke-width="2.4" fill="none"/>
<path d="M884.3,1240.7V1248.3M880.7,1244.5H887.9" stroke="#ee2c35" stroke-width="2.4" fill="none"/>
<path d="M879.6,1237.7V1245.3M876.0,1241.5H883.2" stroke="#ee2c35" stroke-width="2.4" fill="none"/>
<path d="M889.1,1245.0V1252.6M885.5,1248.8H892.7" stroke="#ee2c35" stroke-width="2.4" fill="none"/>
<path d="M936.5,1245.0V1252.6M932.9,1248.8H940.1" stroke="#ee2c35" stroke-width="2.4" fill="none"/>
<path d="M973.8,1256.8V1264.4M970.2,1260.6H977.4" stroke="#ee2c35" stroke-width="2.4" fill="none"/>
<path d="M1073.5,1256.8V1264.4M1069.9,1260.6H1077.1" stroke="#ee2c35" stroke-width="2.4" fill="none"/>
<path d="M1130.2,1256.8V1264.4M1126.6,1260.6H1133.8" stroke="#ee2c35" stroke-width="2.4" fill="none"/>
<path d="M1200.3,1256.8V1264.4M1196.7,1260.6H1203.9" stroke="#ee2c35" stroke-width="2.4" fill="none"/>
<path d="M135.2,1743.1 L139.6,1756.3 L141.8,1766.5 L145.4,1773.8 L148.4,1779.6 L153.5,1782.6 L154.9,1791.3 L164.4,1791.3 L167.3,1800.1 L171.0,1805.9 L173.2,1817.6 L176.1,1829.3 L179.8,1838.1 L187.8,1838.1 L189.3,1842.4 L195.1,1845.4 L195.1,1851.2 L224.3,1851.2 L224.3,1862.9 L225.8,1873.1 L230.9,1873.1 L230.9,1884.8 L252.8,1884.8 L252.8,1897.9 L255.7,1897.9 L255.7,1915.5 L265.9,1915.5 L265.9,1935.2 L321.4,1935.2 L321.4,1978.4 L352.6,1978.4" fill="none" stroke="#2db84b" stroke-width="3.1" stroke-linejoin="miter" stroke-miterlimit="2"/>
<path d="M135.2,1743.1 L139.6,1756.3 M139.6,1756.3 L141.8,1766.5 M141.8,1766.5 L145.4,1773.8 M145.4,1773.8 L148.4,1779.6 M148.4,1779.6 L153.5,1782.6 M153.5,1782.6 L154.9,1791.3 M164.4,1791.3 L167.3,1800.1 M167.3,1800.1 L171.0,1805.9 M171.0,1805.9 L173.2,1817.6 M173.2,1817.6 L176.1,1829.3 M176.1,1829.3 L179.8,1838.1 M187.8,1838.1 L189.3,1842.4 M189.3,1842.4 L195.1,1845.4 M224.3,1862.9 L225.8,1873.1" fill="none" stroke="#2db84b" stroke-width="4.0" stroke-linecap="round"/>
<path d="M138.0,1747.8V1755.4M134.4,1751.6H141.6" stroke="#2db84b" stroke-width="2.4" fill="none"/>
<path d="M140.5,1756.5V1764.1M136.9,1760.3H144.1" stroke="#2db84b" stroke-width="2.4" fill="none"/>
<path d="M143.0,1765.1V1772.7M139.4,1768.9H146.6" stroke="#2db84b" stroke-width="2.4" fill="none"/>
<path d="M147.0,1773.1V1780.7M143.4,1776.9H150.6" stroke="#2db84b" stroke-width="2.4" fill="none"/>
<path d="M153.5,1778.9V1786.5M149.9,1782.7H157.1" stroke="#2db84b" stroke-width="2.4" fill="none"/>
<path d="M164.5,1787.7V1795.3M160.9,1791.5H168.1" stroke="#2db84b" stroke-width="2.4" fill="none"/>
<path d="M167.3,1796.3V1803.9M163.7,1800.1H170.9" stroke="#2db84b" stroke-width="2.4" fill="none"/>
<path d="M171.4,1804.2V1811.8M167.8,1808.0H175.0" stroke="#2db84b" stroke-width="2.4" fill="none"/>
<path d="M173.1,1813.0V1820.6M169.5,1816.8H176.7" stroke="#2db84b" stroke-width="2.4" fill="none"/>
<path d="M175.2,1821.8V1829.4M171.6,1825.6H178.8" stroke="#2db84b" stroke-width="2.4" fill="none"/>
<path d="M178.1,1830.2V1837.8M174.5,1834.0H181.7" stroke="#2db84b" stroke-width="2.4" fill="none"/>
<path d="M189.3,1838.6V1846.2M185.7,1842.4H192.9" stroke="#2db84b" stroke-width="2.4" fill="none"/>
<path d="M224.7,1861.6V1869.2M221.1,1865.4H228.3" stroke="#2db84b" stroke-width="2.4" fill="none"/>
<path d="M198.0,1847.4V1855.0M194.4,1851.2H201.6" stroke="#2db84b" stroke-width="2.4" fill="none"/>
<path d="M206.8,1847.4V1855.0M203.2,1851.2H210.4" stroke="#2db84b" stroke-width="2.4" fill="none"/>
<path d="M212.6,1847.4V1855.0M209.0,1851.2H216.2" stroke="#2db84b" stroke-width="2.4" fill="none"/>
<path d="M218.5,1847.4V1855.0M214.9,1851.2H222.1" stroke="#2db84b" stroke-width="2.4" fill="none"/>
<path d="M238.9,1881.0V1888.6M235.3,1884.8H242.5" stroke="#2db84b" stroke-width="2.4" fill="none"/>
<path d="M247.7,1881.0V1888.6M244.1,1884.8H251.3" stroke="#2db84b" stroke-width="2.4" fill="none"/>
<path d="M271.0,1931.4V1939.0M267.4,1935.2H274.6" stroke="#2db84b" stroke-width="2.4" fill="none"/>
<path d="M279.8,1931.4V1939.0M276.2,1935.2H283.4" stroke="#2db84b" stroke-width="2.4" fill="none"/>
<path d="M290.0,1931.4V1939.0M286.4,1935.2H293.6" stroke="#2db84b" stroke-width="2.4" fill="none"/>
<path d="M302.4,1931.4V1939.0M298.8,1935.2H306.0" stroke="#2db84b" stroke-width="2.4" fill="none"/>
<path d="M306.1,1931.4V1939.0M302.5,1935.2H309.7" stroke="#2db84b" stroke-width="2.4" fill="none"/>
<path d="M310.5,1931.4V1939.0M306.9,1935.2H314.1" stroke="#2db84b" stroke-width="2.4" fill="none"/>
<path d="M325.0,1974.6V1982.2M321.4,1978.4H328.6" stroke="#2db84b" stroke-width="2.4" fill="none"/>
<path d="M341.7,1974.6V1982.2M338.1,1978.4H345.3" stroke="#2db84b" stroke-width="2.4" fill="none"/>
<path d="M352.6,1974.6V1982.2M349.0,1978.4H356.2" stroke="#2db84b" stroke-width="2.4" fill="none"/>
<path d="M135.2,1743.1 L136.7,1762.1 L139.6,1768.0 L141.1,1785.5 L142.5,1794.3 L146.9,1803.0 L148.4,1811.8 L149.1,1824.9 L152.0,1833.7 L153.5,1843.9 L157.9,1848.3 L160.0,1861.4 L163.7,1870.2 L165.9,1878.9 L168.8,1887.7 L171.7,1897.9 L173.9,1903.8 L180.5,1909.6 L187.1,1914.0 L189.3,1921.3 L193.6,1927.3 L202.4,1931.7 L206.0,1939.0 L212.6,1946.3 L218.5,1952.1 L222.8,1958.0 L228.0,1962.3 L237.4,1962.3 L238.9,1965.3 L249.1,1965.3 L252.0,1971.1 L268.1,1972.6 L271.8,1977.0 L313.4,1977.0 L313.4,1985.1 L316.7,1985.1 L316.7,1992.6 L330.0,1992.6 L330.0,2003.5 L348.1,2003.5 L348.1,2016.8 L361.4,2016.8 L361.4,2038.5 L362.6,2038.5 L362.6,2061.0 L413.5,2061.0" fill="none" stroke="#3d58ab" stroke-width="3.1" stroke-linejoin="miter" stroke-miterlimit="2"/>
<path d="M135.2,1743.1 L136.7,1762.1 M136.7,1762.1 L139.6,1768.0 M139.6,1768.0 L141.1,1785.5 M141.1,1785.5 L142.5,1794.3 M142.5,1794.3 L146.9,1803.0 M146.9,1803.0 L148.4,1811.8 M148.4,1811.8 L149.1,1824.9 M149.1,1824.9 L152.0,1833.7 M152.0,1833.7 L153.5,1843.9 M153.5,1843.9 L157.9,1848.3 M157.9,1848.3 L160.0,1861.4 M160.0,1861.4 L163.7,1870.2 M163.7,1870.2 L165.9,1878.9 M165.9,1878.9 L168.8,1887.7 M168.8,1887.7 L171.7,1897.9 M171.7,1897.9 L173.9,1903.8 M173.9,1903.8 L180.5,1909.6 M180.5,1909.6 L187.1,1914.0 M187.1,1914.0 L189.3,1921.3 M189.3,1921.3 L193.6,1927.3 M193.6,1927.3 L202.4,1931.7 M202.4,1931.7 L206.0,1939.0 M206.0,1939.0 L212.6,1946.3 M212.6,1946.3 L218.5,1952.1 M218.5,1952.1 L222.8,1958.0 M222.8,1958.0 L228.0,1962.3 M237.4,1962.3 L238.9,1965.3 M249.1,1965.3 L252.0,1971.1 M252.0,1971.1 L268.1,1972.6 M268.1,1972.6 L271.8,1977.0" fill="none" stroke="#3d58ab" stroke-width="4.0" stroke-linecap="round"/>
<path d="M135.9,1748.3V1755.9M132.3,1752.1H139.5" stroke="#3d58ab" stroke-width="2.4" fill="none"/>
<path d="M136.6,1757.2V1764.8M133.0,1761.0H140.2" stroke="#3d58ab" stroke-width="2.4" fill="none"/>
<path d="M139.7,1765.6V1773.2M136.1,1769.4H143.3" stroke="#3d58ab" stroke-width="2.4" fill="none"/>
<path d="M140.5,1774.5V1782.1M136.9,1778.3H144.1" stroke="#3d58ab" stroke-width="2.4" fill="none"/>
<path d="M141.4,1783.5V1791.1M137.8,1787.3H145.0" stroke="#3d58ab" stroke-width="2.4" fill="none"/>
<path d="M143.4,1792.2V1799.8M139.8,1796.0H147.0" stroke="#3d58ab" stroke-width="2.4" fill="none"/>
<path d="M147.1,1800.3V1807.9M143.5,1804.1H150.7" stroke="#3d58ab" stroke-width="2.4" fill="none"/>
<path d="M148.5,1809.2V1816.8M144.9,1813.0H152.1" stroke="#3d58ab" stroke-width="2.4" fill="none"/>
<path d="M148.9,1818.2V1825.8M145.3,1822.0H152.5" stroke="#3d58ab" stroke-width="2.4" fill="none"/>
<path d="M151.0,1826.9V1834.5M147.4,1830.7H154.6" stroke="#3d58ab" stroke-width="2.4" fill="none"/>
<path d="M152.8,1835.7V1843.3M149.2,1839.5H156.4" stroke="#3d58ab" stroke-width="2.4" fill="none"/>
<path d="M156.7,1843.3V1850.9M153.1,1847.1H160.3" stroke="#3d58ab" stroke-width="2.4" fill="none"/>
<path d="M159.1,1851.7V1859.3M155.5,1855.5H162.7" stroke="#3d58ab" stroke-width="2.4" fill="none"/>
<path d="M161.2,1860.4V1868.0M157.6,1864.2H164.8" stroke="#3d58ab" stroke-width="2.4" fill="none"/>
<path d="M164.3,1868.8V1876.4M160.7,1872.6H167.9" stroke="#3d58ab" stroke-width="2.4" fill="none"/>
<path d="M166.7,1877.5V1885.1M163.1,1881.3H170.3" stroke="#3d58ab" stroke-width="2.4" fill="none"/>
<path d="M169.4,1886.1V1893.7M165.8,1889.9H173.0" stroke="#3d58ab" stroke-width="2.4" fill="none"/>
<path d="M171.9,1894.7V1902.3M168.3,1898.5H175.5" stroke="#3d58ab" stroke-width="2.4" fill="none"/>
<path d="M176.4,1902.2V1909.8M172.8,1906.0H180.0" stroke="#3d58ab" stroke-width="2.4" fill="none"/>
<path d="M183.5,1907.8V1915.4M179.9,1911.6H187.1" stroke="#3d58ab" stroke-width="2.4" fill="none"/>
<path d="M188.4,1914.6V1922.2M184.8,1918.4H192.0" stroke="#3d58ab" stroke-width="2.4" fill="none"/>
<path d="M192.8,1922.4V1930.0M189.2,1926.2H196.4" stroke="#3d58ab" stroke-width="2.4" fill="none"/>
<path d="M200.4,1926.9V1934.5M196.8,1930.7H204.0" stroke="#3d58ab" stroke-width="2.4" fill="none"/>
<path d="M205.4,1934.0V1941.6M201.8,1937.8H209.0" stroke="#3d58ab" stroke-width="2.4" fill="none"/>
<path d="M211.1,1940.9V1948.5M207.5,1944.7H214.7" stroke="#3d58ab" stroke-width="2.4" fill="none"/>
<path d="M217.5,1947.3V1954.9M213.9,1951.1H221.1" stroke="#3d58ab" stroke-width="2.4" fill="none"/>
<path d="M223.0,1954.3V1961.9M219.4,1958.1H226.6" stroke="#3d58ab" stroke-width="2.4" fill="none"/>
<path d="M238.5,1960.7V1968.3M234.9,1964.5H242.1" stroke="#3d58ab" stroke-width="2.4" fill="none"/>
<path d="M253.6,1967.5V1975.1M250.0,1971.3H257.2" stroke="#3d58ab" stroke-width="2.4" fill="none"/>
<path d="M262.6,1968.3V1975.9M259.0,1972.1H266.2" stroke="#3d58ab" stroke-width="2.4" fill="none"/>
<path d="M270.3,1971.5V1979.1M266.7,1975.3H273.9" stroke="#3d58ab" stroke-width="2.4" fill="none"/>
<path d="M278.3,1973.2V1980.8M274.7,1977.0H281.9" stroke="#3d58ab" stroke-width="2.4" fill="none"/>
<path d="M285.6,1973.2V1980.8M282.0,1977.0H289.2" stroke="#3d58ab" stroke-width="2.4" fill="none"/>
<path d="M291.5,1973.2V1980.8M287.9,1977.0H295.1" stroke="#3d58ab" stroke-width="2.4" fill="none"/>
<path d="M297.3,1973.2V1980.8M293.7,1977.0H300.9" stroke="#3d58ab" stroke-width="2.4" fill="none"/>
<path d="M301.7,1973.2V1980.8M298.1,1977.0H305.3" stroke="#3d58ab" stroke-width="2.4" fill="none"/>
<path d="M307.5,1973.2V1980.8M303.9,1977.0H311.1" stroke="#3d58ab" stroke-width="2.4" fill="none"/>
<path d="M319.2,1988.8V1996.4M315.6,1992.6H322.8" stroke="#3d58ab" stroke-width="2.4" fill="none"/>
<path d="M325.0,1988.8V1996.4M321.4,1992.6H328.6" stroke="#3d58ab" stroke-width="2.4" fill="none"/>
<path d="M332.5,1999.7V2007.3M328.9,2003.5H336.1" stroke="#3d58ab" stroke-width="2.4" fill="none"/>
<path d="M338.4,1999.7V2007.3M334.8,2003.5H342.0" stroke="#3d58ab" stroke-width="2.4" fill="none"/>
<path d="M354.2,2013.0V2020.6M350.6,2016.8H357.8" stroke="#3d58ab" stroke-width="2.4" fill="none"/>
<path d="M355.9,2013.0V2020.6M352.3,2016.8H359.5" stroke="#3d58ab" stroke-width="2.4" fill="none"/>
<path d="M365.1,2057.2V2064.8M361.5,2061.0H368.7" stroke="#3d58ab" stroke-width="2.4" fill="none"/>
<path d="M375.1,2057.2V2064.8M371.5,2061.0H378.7" stroke="#3d58ab" stroke-width="2.4" fill="none"/>
<path d="M413.5,2057.2V2064.8M409.9,2061.0H417.1" stroke="#3d58ab" stroke-width="2.4" fill="none"/>
<path d="M135.2,1743.1 L136.0,1756.3 L138.1,1776.7 L140.3,1817.6 L141.8,1861.4 L144.0,1890.6 L145.4,1912.5 L147.6,1949.2 L150.6,1971.1 L152.0,1990.1 L155.7,1997.4 L157.9,2007.6 L160.0,2017.8 L166.6,2017.8 L168.8,2029.5 L173.2,2042.7 L180.5,2044.1 L182.7,2052.9 L189.3,2060.2 L192.9,2064.6 L198.7,2064.6 L199.5,2074.1 L207.5,2074.1 L207.5,2085.7 L233.1,2085.7 L233.1,2093.8 L256.4,2093.8 L256.4,2102.3 L322.0,2102.3 L322.0,2118.6 L522.8,2118.6" fill="none" stroke="#f7951a" stroke-width="3.1" stroke-linejoin="miter" stroke-miterlimit="2"/>
<path d="M135.2,1743.1 L136.0,1756.3 M136.0,1756.3 L138.1,1776.7 M138.1,1776.7 L140.3,1817.6 M140.3,1817.6 L141.8,1861.4 M141.8,1861.4 L144.0,1890.6 M144.0,1890.6 L145.4,1912.5 M145.4,1912.5 L147.6,1949.2 M147.6,1949.2 L150.6,1971.1 M150.6,1971.1 L152.0,1990.1 M152.0,1990.1 L155.7,1997.4 M155.7,1997.4 L157.9,2007.6 M157.9,2007.6 L160.0,2017.8 M166.6,2017.8 L168.8,2029.5 M168.8,2029.5 L173.2,2042.7 M173.2,2042.7 L180.5,2044.1 M180.5,2044.1 L182.7,2052.9 M182.7,2052.9 L189.3,2060.2 M189.3,2060.2 L192.9,2064.6 M198.7,2064.6 L199.5,2074.1" fill="none" stroke="#f7951a" stroke-width="4.0" stroke-linecap="round"/>
<path d="M135.7,1748.3V1755.9M132.1,1752.1H139.3" stroke="#f7951a" stroke-width="2.4" fill="none"/>
<path d="M136.5,1757.3V1764.9M132.9,1761.1H140.1" stroke="#f7951a" stroke-width="2.4" fill="none"/>
<path d="M137.4,1766.2V1773.8M133.8,1770.0H141.0" stroke="#f7951a" stroke-width="2.4" fill="none"/>
<path d="M138.2,1775.2V1782.8M134.6,1779.0H141.8" stroke="#f7951a" stroke-width="2.4" fill="none"/>
<path d="M138.7,1784.2V1791.8M135.1,1788.0H142.3" stroke="#f7951a" stroke-width="2.4" fill="none"/>
<path d="M139.2,1793.1V1800.7M135.6,1796.9H142.8" stroke="#f7951a" stroke-width="2.4" fill="none"/>
<path d="M139.7,1802.1V1809.7M136.1,1805.9H143.3" stroke="#f7951a" stroke-width="2.4" fill="none"/>
<path d="M140.2,1811.1V1818.7M136.6,1814.9H143.8" stroke="#f7951a" stroke-width="2.4" fill="none"/>
<path d="M140.5,1820.1V1827.7M136.9,1823.9H144.1" stroke="#f7951a" stroke-width="2.4" fill="none"/>
<path d="M140.8,1829.1V1836.7M137.2,1832.9H144.4" stroke="#f7951a" stroke-width="2.4" fill="none"/>
<path d="M141.1,1838.1V1845.7M137.5,1841.9H144.7" stroke="#f7951a" stroke-width="2.4" fill="none"/>
<path d="M141.4,1847.1V1854.7M137.8,1850.9H145.0" stroke="#f7951a" stroke-width="2.4" fill="none"/>
<path d="M141.7,1856.1V1863.7M138.1,1859.9H145.3" stroke="#f7951a" stroke-width="2.4" fill="none"/>
<path d="M142.4,1865.1V1872.7M138.8,1868.9H146.0" stroke="#f7951a" stroke-width="2.4" fill="none"/>
<path d="M143.0,1874.0V1881.6M139.4,1877.8H146.6" stroke="#f7951a" stroke-width="2.4" fill="none"/>
<path d="M143.7,1883.0V1890.6M140.1,1886.8H147.3" stroke="#f7951a" stroke-width="2.4" fill="none"/>
<path d="M144.3,1892.0V1899.6M140.7,1895.8H147.9" stroke="#f7951a" stroke-width="2.4" fill="none"/>
<path d="M144.9,1901.0V1908.6M141.3,1904.8H148.5" stroke="#f7951a" stroke-width="2.4" fill="none"/>
<path d="M145.5,1910.0V1917.6M141.9,1913.8H149.1" stroke="#f7951a" stroke-width="2.4" fill="none"/>
<path d="M146.0,1918.9V1926.5M142.4,1922.7H149.6" stroke="#f7951a" stroke-width="2.4" fill="none"/>
<path d="M146.6,1927.9V1935.5M143.0,1931.7H150.2" stroke="#f7951a" stroke-width="2.4" fill="none"/>
<path d="M147.1,1936.9V1944.5M143.5,1940.7H150.7" stroke="#f7951a" stroke-width="2.4" fill="none"/>
<path d="M147.7,1945.9V1953.5M144.1,1949.7H151.3" stroke="#f7951a" stroke-width="2.4" fill="none"/>
<path d="M148.9,1954.8V1962.4M145.3,1958.6H152.5" stroke="#f7951a" stroke-width="2.4" fill="none"/>
<path d="M150.1,1963.7V1971.3M146.5,1967.5H153.7" stroke="#f7951a" stroke-width="2.4" fill="none"/>
<path d="M151.0,1972.7V1980.3M147.4,1976.5H154.6" stroke="#f7951a" stroke-width="2.4" fill="none"/>
<path d="M151.7,1981.6V1989.2M148.1,1985.4H155.3" stroke="#f7951a" stroke-width="2.4" fill="none"/>
<path d="M154.0,1990.2V1997.8M150.4,1994.0H157.6" stroke="#f7951a" stroke-width="2.4" fill="none"/>
<path d="M156.8,1998.6V2006.2M153.2,2002.4H160.4" stroke="#f7951a" stroke-width="2.4" fill="none"/>
<path d="M158.6,2007.4V2015.0M155.0,2011.2H162.2" stroke="#f7951a" stroke-width="2.4" fill="none"/>
<path d="M167.0,2016.3V2023.9M163.4,2020.1H170.6" stroke="#f7951a" stroke-width="2.4" fill="none"/>
<path d="M168.7,2025.1V2032.7M165.1,2028.9H172.3" stroke="#f7951a" stroke-width="2.4" fill="none"/>
<path d="M171.5,2033.7V2041.3M167.9,2037.5H175.1" stroke="#f7951a" stroke-width="2.4" fill="none"/>
<path d="M176.6,2039.6V2047.2M173.0,2043.4H180.2" stroke="#f7951a" stroke-width="2.4" fill="none"/>
<path d="M181.7,2045.2V2052.8M178.1,2049.0H185.3" stroke="#f7951a" stroke-width="2.4" fill="none"/>
<path d="M186.0,2052.8V2060.4M182.4,2056.6H189.6" stroke="#f7951a" stroke-width="2.4" fill="none"/>
<path d="M191.9,2059.6V2067.2M188.3,2063.4H195.5" stroke="#f7951a" stroke-width="2.4" fill="none"/>
<path d="M199.3,2068.2V2075.8M195.7,2072.0H202.9" stroke="#f7951a" stroke-width="2.4" fill="none"/>
<path d="M212.6,2081.9V2089.5M209.0,2085.7H216.2" stroke="#f7951a" stroke-width="2.4" fill="none"/>
<path d="M224.3,2081.9V2089.5M220.7,2085.7H227.9" stroke="#f7951a" stroke-width="2.4" fill="none"/>
<path d="M260.8,2098.5V2106.1M257.2,2102.3H264.4" stroke="#f7951a" stroke-width="2.4" fill="none"/>
<path d="M297.3,2098.5V2106.1M293.7,2102.3H300.9" stroke="#f7951a" stroke-width="2.4" fill="none"/>
<path d="M396.8,2114.8V2122.4M393.2,2118.6H400.4" stroke="#f7951a" stroke-width="2.4" fill="none"/>
<path d="M522.8,2114.8V2122.4M519.2,2118.6H526.4" stroke="#f7951a" stroke-width="2.4" fill="none"/>
<path d="M135.2,1743.1 L136.0,1773.8 L137.4,1817.6 L138.9,1854.1 L140.3,1890.6 L141.8,1912.5 L143.3,1937.4 L144.0,1949.2 L145.4,1978.4 L147.6,2001.8 L149.8,2013.5 L152.7,2036.8 L154.9,2063.1 L157.1,2073.3 L158.6,2089.4 L173.9,2089.4 L173.9,2099.6 L267.4,2099.6 L267.4,2126.0 L454.4,2126.0" fill="none" stroke="#ee2c35" stroke-width="3.1" stroke-linejoin="miter" stroke-miterlimit="2"/>
<path d="M135.2,1743.1 L136.0,1773.8 M136.0,1773.8 L137.4,1817.6 M137.4,1817.6 L138.9,1854.1 M138.9,1854.1 L140.3,1890.6 M140.3,1890.6 L141.8,1912.5 M141.8,1912.5 L143.3,1937.4 M143.3,1937.4 L144.0,1949.2 M144.0,1949.2 L145.4,1978.4 M145.4,1978.4 L147.6,2001.8 M147.6,2001.8 L149.8,2013.5 M149.8,2013.5 L152.7,2036.8 M152.7,2036.8 L154.9,2063.1 M154.9,2063.1 L157.1,2073.3 M157.1,2073.3 L158.6,2089.4" fill="none" stroke="#ee2c35" stroke-width="4.0" stroke-linecap="round"/>
<path d="M135.4,1748.3V1755.9M131.8,1752.1H139.0" stroke="#ee2c35" stroke-width="2.4" fill="none"/>
<path d="M135.7,1757.3V1764.9M132.1,1761.1H139.3" stroke="#ee2c35" stroke-width="2.4" fill="none"/>
<path d="M135.9,1766.3V1773.9M132.3,1770.1H139.5" stroke="#ee2c35" stroke-width="2.4" fill="none"/>
<path d="M136.2,1775.3V1782.9M132.6,1779.1H139.8" stroke="#ee2c35" stroke-width="2.4" fill="none"/>
<path d="M136.5,1784.3V1791.9M132.9,1788.1H140.1" stroke="#ee2c35" stroke-width="2.4" fill="none"/>
<path d="M136.7,1793.3V1800.9M133.1,1797.1H140.3" stroke="#ee2c35" stroke-width="2.4" fill="none"/>
<path d="M137.0,1802.3V1809.9M133.4,1806.1H140.6" stroke="#ee2c35" stroke-width="2.4" fill="none"/>
<path d="M137.3,1811.3V1818.9M133.7,1815.1H140.9" stroke="#ee2c35" stroke-width="2.4" fill="none"/>
<path d="M137.7,1820.3V1827.9M134.1,1824.1H141.3" stroke="#ee2c35" stroke-width="2.4" fill="none"/>
<path d="M138.0,1829.3V1836.9M134.4,1833.1H141.6" stroke="#ee2c35" stroke-width="2.4" fill="none"/>
<path d="M138.4,1838.2V1845.8M134.8,1842.0H142.0" stroke="#ee2c35" stroke-width="2.4" fill="none"/>
<path d="M138.8,1847.2V1854.8M135.2,1851.0H142.4" stroke="#ee2c35" stroke-width="2.4" fill="none"/>
<path d="M139.1,1856.2V1863.8M135.5,1860.0H142.7" stroke="#ee2c35" stroke-width="2.4" fill="none"/>
<path d="M139.5,1865.2V1872.8M135.9,1869.0H143.1" stroke="#ee2c35" stroke-width="2.4" fill="none"/>
<path d="M139.8,1874.2V1881.8M136.2,1878.0H143.4" stroke="#ee2c35" stroke-width="2.4" fill="none"/>
<path d="M140.2,1883.2V1890.8M136.6,1887.0H143.8" stroke="#ee2c35" stroke-width="2.4" fill="none"/>
<path d="M140.7,1892.2V1899.8M137.1,1896.0H144.3" stroke="#ee2c35" stroke-width="2.4" fill="none"/>
<path d="M141.3,1901.2V1908.8M137.7,1905.0H144.9" stroke="#ee2c35" stroke-width="2.4" fill="none"/>
<path d="M141.9,1910.2V1917.8M138.3,1914.0H145.5" stroke="#ee2c35" stroke-width="2.4" fill="none"/>
<path d="M142.4,1919.1V1926.7M138.8,1922.9H146.0" stroke="#ee2c35" stroke-width="2.4" fill="none"/>
<path d="M143.0,1928.1V1935.7M139.4,1931.9H146.6" stroke="#ee2c35" stroke-width="2.4" fill="none"/>
<path d="M143.5,1937.1V1944.7M139.9,1940.9H147.1" stroke="#ee2c35" stroke-width="2.4" fill="none"/>
<path d="M144.0,1946.1V1953.7M140.4,1949.9H147.6" stroke="#ee2c35" stroke-width="2.4" fill="none"/>
<path d="M144.5,1955.1V1962.7M140.9,1958.9H148.1" stroke="#ee2c35" stroke-width="2.4" fill="none"/>
<path d="M144.9,1964.1V1971.7M141.3,1967.9H148.5" stroke="#ee2c35" stroke-width="2.4" fill="none"/>
<path d="M145.3,1973.1V1980.7M141.7,1976.9H148.9" stroke="#ee2c35" stroke-width="2.4" fill="none"/>
<path d="M146.1,1982.0V1989.6M142.5,1985.8H149.7" stroke="#ee2c35" stroke-width="2.4" fill="none"/>
<path d="M146.9,1991.0V1998.6M143.3,1994.8H150.5" stroke="#ee2c35" stroke-width="2.4" fill="none"/>
<path d="M148.0,1999.9V2007.5M144.4,2003.7H151.6" stroke="#ee2c35" stroke-width="2.4" fill="none"/>
<path d="M149.6,2008.8V2016.4M146.0,2012.6H153.2" stroke="#ee2c35" stroke-width="2.4" fill="none"/>
<path d="M150.8,2017.7V2025.3M147.2,2021.5H154.4" stroke="#ee2c35" stroke-width="2.4" fill="none"/>
<path d="M151.9,2026.6V2034.2M148.3,2030.4H155.5" stroke="#ee2c35" stroke-width="2.4" fill="none"/>
<path d="M152.9,2035.6V2043.2M149.3,2039.4H156.5" stroke="#ee2c35" stroke-width="2.4" fill="none"/>
<path d="M153.7,2044.5V2052.1M150.1,2048.3H157.3" stroke="#ee2c35" stroke-width="2.4" fill="none"/>
<path d="M154.4,2053.5V2061.1M150.8,2057.3H158.0" stroke="#ee2c35" stroke-width="2.4" fill="none"/>
<path d="M155.6,2062.4V2070.0M152.0,2066.2H159.2" stroke="#ee2c35" stroke-width="2.4" fill="none"/>
<path d="M157.3,2071.2V2078.8M153.7,2075.0H160.9" stroke="#ee2c35" stroke-width="2.4" fill="none"/>
<path d="M158.1,2080.2V2087.8M154.5,2084.0H161.7" stroke="#ee2c35" stroke-width="2.4" fill="none"/>
<path d="M166.6,2085.6V2093.2M163.0,2089.4H170.2" stroke="#ee2c35" stroke-width="2.4" fill="none"/>
<path d="M187.1,2095.8V2103.4M183.5,2099.6H190.7" stroke="#ee2c35" stroke-width="2.4" fill="none"/>
<path d="M203.9,2095.8V2103.4M200.3,2099.6H207.5" stroke="#ee2c35" stroke-width="2.4" fill="none"/>
<path d="M454.4,2122.2V2129.8M450.8,2126.0H458.0" stroke="#ee2c35" stroke-width="2.4" fill="none"/>
<path d="M811.0,1743.1 L814.6,1754.8 L819.0,1760.7 L821.9,1769.4 L824.8,1779.6 L828.5,1782.6 L830.7,1787.0 L836.5,1787.0 L839.4,1791.3 L843.8,1794.3 L846.7,1800.1 L848.9,1807.4 L851.1,1817.6 L853.3,1823.5 L853.3,1832.2 L855.5,1838.1 L864.3,1838.1 L870.1,1838.8 L870.8,1845.4 L889.8,1845.4 L889.8,1854.1 L897.8,1855.6 L897.8,1876.0 L905.9,1876.0 L905.9,1887.7 L927.8,1887.7 L927.8,1900.9 L930.7,1902.3 L930.7,1918.4 L940.9,1918.4 L940.9,1938.3 L996.4,1938.3 L996.4,1980.9 L1027.6,1980.9" fill="none" stroke="#2db84b" stroke-width="3.1" stroke-linejoin="miter" stroke-miterlimit="2"/>
<path d="M811.0,1743.1 L814.6,1754.8 M814.6,1754.8 L819.0,1760.7 M819.0,1760.7 L821.9,1769.4 M821.9,1769.4 L824.8,1779.6 M824.8,1779.6 L828.5,1782.6 M828.5,1782.6 L830.7,1787.0 M836.5,1787.0 L839.4,1791.3 M839.4,1791.3 L843.8,1794.3 M843.8,1794.3 L846.7,1800.1 M846.7,1800.1 L848.9,1807.4 M848.9,1807.4 L851.1,1817.6 M851.1,1817.6 L853.3,1823.5 M853.3,1832.2 L855.5,1838.1 M864.3,1838.1 L870.1,1838.8 M870.1,1838.8 L870.8,1845.4 M889.8,1854.1 L897.8,1855.6 M927.8,1900.9 L930.7,1902.3" fill="none" stroke="#2db84b" stroke-width="4.0" stroke-linecap="round"/>
<path d="M813.6,1747.9V1755.5M810.0,1751.7H817.2" stroke="#2db84b" stroke-width="2.4" fill="none"/>
<path d="M818.0,1755.6V1763.2M814.4,1759.4H821.6" stroke="#2db84b" stroke-width="2.4" fill="none"/>
<path d="M821.3,1763.9V1771.5M817.7,1767.7H824.9" stroke="#2db84b" stroke-width="2.4" fill="none"/>
<path d="M823.9,1772.6V1780.2M820.3,1776.4H827.5" stroke="#2db84b" stroke-width="2.4" fill="none"/>
<path d="M828.9,1779.6V1787.2M825.3,1783.4H832.5" stroke="#2db84b" stroke-width="2.4" fill="none"/>
<path d="M839.3,1787.3V1794.9M835.7,1791.1H842.9" stroke="#2db84b" stroke-width="2.4" fill="none"/>
<path d="M845.3,1793.6V1801.2M841.7,1797.4H848.9" stroke="#2db84b" stroke-width="2.4" fill="none"/>
<path d="M848.4,1802.0V1809.6M844.8,1805.8H852.0" stroke="#2db84b" stroke-width="2.4" fill="none"/>
<path d="M850.4,1810.8V1818.4M846.8,1814.6H854.0" stroke="#2db84b" stroke-width="2.4" fill="none"/>
<path d="M853.2,1819.3V1826.9M849.6,1823.1H856.8" stroke="#2db84b" stroke-width="2.4" fill="none"/>
<path d="M866.6,1834.6V1842.2M863.0,1838.4H870.2" stroke="#2db84b" stroke-width="2.4" fill="none"/>
<path d="M870.7,1840.4V1848.0M867.1,1844.2H874.3" stroke="#2db84b" stroke-width="2.4" fill="none"/>
<path d="M897.5,1851.7V1859.3M893.9,1855.5H901.1" stroke="#2db84b" stroke-width="2.4" fill="none"/>
<path d="M858.4,1834.3V1841.9M854.8,1838.1H862.0" stroke="#2db84b" stroke-width="2.4" fill="none"/>
<path d="M867.2,1834.7V1842.2M863.6,1838.5H870.8" stroke="#2db84b" stroke-width="2.4" fill="none"/>
<path d="M874.5,1841.6V1849.2M870.9,1845.4H878.1" stroke="#2db84b" stroke-width="2.4" fill="none"/>
<path d="M880.3,1841.6V1849.2M876.7,1845.4H883.9" stroke="#2db84b" stroke-width="2.4" fill="none"/>
<path d="M884.7,1841.6V1849.2M881.1,1845.4H888.3" stroke="#2db84b" stroke-width="2.4" fill="none"/>
<path d="M887.6,1841.6V1849.2M884.0,1845.4H891.2" stroke="#2db84b" stroke-width="2.4" fill="none"/>
<path d="M911.0,1883.9V1891.5M907.4,1887.7H914.6" stroke="#2db84b" stroke-width="2.4" fill="none"/>
<path d="M915.4,1883.9V1891.5M911.8,1887.7H919.0" stroke="#2db84b" stroke-width="2.4" fill="none"/>
<path d="M922.7,1883.9V1891.5M919.1,1887.7H926.3" stroke="#2db84b" stroke-width="2.4" fill="none"/>
<path d="M946.0,1934.5V1942.1M942.4,1938.3H949.6" stroke="#2db84b" stroke-width="2.4" fill="none"/>
<path d="M954.1,1934.5V1942.1M950.5,1938.3H957.7" stroke="#2db84b" stroke-width="2.4" fill="none"/>
<path d="M965.0,1934.5V1942.1M961.4,1938.3H968.6" stroke="#2db84b" stroke-width="2.4" fill="none"/>
<path d="M977.4,1934.5V1942.1M973.8,1938.3H981.0" stroke="#2db84b" stroke-width="2.4" fill="none"/>
<path d="M980.3,1934.5V1942.1M976.7,1938.3H983.9" stroke="#2db84b" stroke-width="2.4" fill="none"/>
<path d="M985.5,1934.5V1942.1M981.9,1938.3H989.1" stroke="#2db84b" stroke-width="2.4" fill="none"/>
<path d="M1000.9,1977.1V1984.7M997.3,1980.9H1004.5" stroke="#2db84b" stroke-width="2.4" fill="none"/>
<path d="M1016.7,1977.1V1984.7M1013.1,1980.9H1020.3" stroke="#2db84b" stroke-width="2.4" fill="none"/>
<path d="M1027.6,1977.1V1984.7M1024.0,1980.9H1031.2" stroke="#2db84b" stroke-width="2.4" fill="none"/>
<path d="M811.0,1743.1 L814.6,1765.0 L817.5,1769.4 L821.2,1773.8 L821.9,1781.1 L824.1,1788.4 L826.3,1800.1 L829.2,1807.4 L829.9,1817.6 L831.4,1826.4 L834.3,1832.2 L835.8,1843.9 L838.7,1852.7 L842.3,1861.4 L843.1,1873.1 L846.0,1883.3 L847.5,1890.6 L852.6,1895.0 L855.5,1899.4 L862.1,1903.8 L864.3,1911.1 L867.2,1918.4 L873.0,1925.8 L880.3,1934.6 L887.6,1941.9 L893.5,1947.7 L899.3,1953.6 L903.7,1957.2 L914.6,1957.2 L915.4,1963.8 L924.1,1962.3 L927.8,1969.6 L943.8,1971.1 L947.5,1975.0 L987.5,1975.0 L987.5,1981.8 L994.2,1981.8 L994.2,1991.0 L1003.0,1991.0 L1003.0,2000.1 L1005.0,2000.1 L1005.0,2010.1 L1022.6,2010.1 L1022.6,2023.2 L1038.1,2023.2 L1038.1,2044.4 L1097.7,2044.4 L1097.7,2151.6" fill="none" stroke="#3d58ab" stroke-width="3.1" stroke-linejoin="miter" stroke-miterlimit="2"/>
<path d="M811.0,1743.1 L814.6,1765.0 M814.6,1765.0 L817.5,1769.4 M817.5,1769.4 L821.2,1773.8 M821.2,1773.8 L821.9,1781.1 M821.9,1781.1 L824.1,1788.4 M824.1,1788.4 L826.3,1800.1 M826.3,1800.1 L829.2,1807.4 M829.2,1807.4 L829.9,1817.6 M829.9,1817.6 L831.4,1826.4 M831.4,1826.4 L834.3,1832.2 M834.3,1832.2 L835.8,1843.9 M835.8,1843.9 L838.7,1852.7 M838.7,1852.7 L842.3,1861.4 M842.3,1861.4 L843.1,1873.1 M843.1,1873.1 L846.0,1883.3 M846.0,1883.3 L847.5,1890.6 M847.5,1890.6 L852.6,1895.0 M852.6,1895.0 L855.5,1899.4 M855.5,1899.4 L862.1,1903.8 M862.1,1903.8 L864.3,1911.1 M864.3,1911.1 L867.2,1918.4 M867.2,1918.4 L873.0,1925.8 M873.0,1925.8 L880.3,1934.6 M880.3,1934.6 L887.6,1941.9 M887.6,1941.9 L893.5,1947.7 M893.5,1947.7 L899.3,1953.6 M899.3,1953.6 L903.7,1957.2 M914.6,1957.2 L915.4,1963.8 M915.4,1963.8 L924.1,1962.3 M924.1,1962.3 L927.8,1969.6 M927.8,1969.6 L943.8,1971.1 M943.8,1971.1 L947.5,1975.0" fill="none" stroke="#3d58ab" stroke-width="4.0" stroke-linecap="round"/>
<path d="M812.5,1748.2V1755.8M808.9,1752.0H816.1" stroke="#3d58ab" stroke-width="2.4" fill="none"/>
<path d="M813.9,1757.1V1764.7M810.3,1760.9H817.5" stroke="#3d58ab" stroke-width="2.4" fill="none"/>
<path d="M817.2,1765.2V1772.8M813.6,1769.0H820.8" stroke="#3d58ab" stroke-width="2.4" fill="none"/>
<path d="M821.5,1772.8V1780.4M817.9,1776.6H825.1" stroke="#3d58ab" stroke-width="2.4" fill="none"/>
<path d="M823.2,1781.6V1789.2M819.6,1785.4H826.8" stroke="#3d58ab" stroke-width="2.4" fill="none"/>
<path d="M825.2,1790.3V1797.9M821.6,1794.1H828.8" stroke="#3d58ab" stroke-width="2.4" fill="none"/>
<path d="M827.4,1799.0V1806.6M823.8,1802.8H831.0" stroke="#3d58ab" stroke-width="2.4" fill="none"/>
<path d="M829.5,1807.7V1815.3M825.9,1811.5H833.1" stroke="#3d58ab" stroke-width="2.4" fill="none"/>
<path d="M830.4,1816.6V1824.2M826.8,1820.4H834.0" stroke="#3d58ab" stroke-width="2.4" fill="none"/>
<path d="M832.7,1825.2V1832.8M829.1,1829.0H836.3" stroke="#3d58ab" stroke-width="2.4" fill="none"/>
<path d="M835.0,1833.8V1841.4M831.4,1837.6H838.6" stroke="#3d58ab" stroke-width="2.4" fill="none"/>
<path d="M836.6,1842.6V1850.2M833.0,1846.4H840.2" stroke="#3d58ab" stroke-width="2.4" fill="none"/>
<path d="M839.6,1851.1V1858.7M836.0,1854.9H843.2" stroke="#3d58ab" stroke-width="2.4" fill="none"/>
<path d="M842.4,1859.6V1867.2M838.8,1863.4H846.0" stroke="#3d58ab" stroke-width="2.4" fill="none"/>
<path d="M843.0,1868.5V1876.1M839.4,1872.3H846.6" stroke="#3d58ab" stroke-width="2.4" fill="none"/>
<path d="M845.4,1877.2V1884.8M841.8,1881.0H849.0" stroke="#3d58ab" stroke-width="2.4" fill="none"/>
<path d="M847.3,1886.0V1893.6M843.7,1889.8H850.9" stroke="#3d58ab" stroke-width="2.4" fill="none"/>
<path d="M853.4,1892.4V1900.0M849.8,1896.2H857.0" stroke="#3d58ab" stroke-width="2.4" fill="none"/>
<path d="M859.8,1898.5V1906.1M856.2,1902.3H863.4" stroke="#3d58ab" stroke-width="2.4" fill="none"/>
<path d="M863.9,1906.0V1913.6M860.3,1909.8H867.5" stroke="#3d58ab" stroke-width="2.4" fill="none"/>
<path d="M867.1,1914.4V1922.0M863.5,1918.2H870.7" stroke="#3d58ab" stroke-width="2.4" fill="none"/>
<path d="M872.6,1921.5V1929.1M869.0,1925.3H876.2" stroke="#3d58ab" stroke-width="2.4" fill="none"/>
<path d="M878.3,1928.4V1936.0M874.7,1932.2H881.9" stroke="#3d58ab" stroke-width="2.4" fill="none"/>
<path d="M884.5,1935.0V1942.6M880.9,1938.8H888.1" stroke="#3d58ab" stroke-width="2.4" fill="none"/>
<path d="M890.9,1941.3V1948.9M887.3,1945.1H894.5" stroke="#3d58ab" stroke-width="2.4" fill="none"/>
<path d="M897.2,1947.7V1955.3M893.6,1951.5H900.8" stroke="#3d58ab" stroke-width="2.4" fill="none"/>
<path d="M914.6,1953.8V1961.4M911.0,1957.6H918.2" stroke="#3d58ab" stroke-width="2.4" fill="none"/>
<path d="M918.1,1959.5V1967.1M914.5,1963.3H921.7" stroke="#3d58ab" stroke-width="2.4" fill="none"/>
<path d="M925.4,1961.1V1968.7M921.8,1964.9H929.0" stroke="#3d58ab" stroke-width="2.4" fill="none"/>
<path d="M931.5,1966.1V1973.7M927.9,1969.9H935.1" stroke="#3d58ab" stroke-width="2.4" fill="none"/>
<path d="M940.4,1967.0V1974.6M936.8,1970.8H944.0" stroke="#3d58ab" stroke-width="2.4" fill="none"/>
<path d="M953.3,1971.2V1978.8M949.7,1975.0H956.9" stroke="#3d58ab" stroke-width="2.4" fill="none"/>
<path d="M960.6,1971.2V1978.8M957.0,1975.0H964.2" stroke="#3d58ab" stroke-width="2.4" fill="none"/>
<path d="M965.7,1971.2V1978.8M962.1,1975.0H969.3" stroke="#3d58ab" stroke-width="2.4" fill="none"/>
<path d="M970.1,1971.2V1978.8M966.5,1975.0H973.7" stroke="#3d58ab" stroke-width="2.4" fill="none"/>
<path d="M975.2,1971.2V1978.8M971.6,1975.0H978.8" stroke="#3d58ab" stroke-width="2.4" fill="none"/>
<path d="M981.1,1971.2V1978.8M977.5,1975.0H984.7" stroke="#3d58ab" stroke-width="2.4" fill="none"/>
<path d="M999.7,1987.2V1994.8M996.1,1991.0H1003.3" stroke="#3d58ab" stroke-width="2.4" fill="none"/>
<path d="M1007.5,2006.3V2013.9M1003.9,2010.1H1011.1" stroke="#3d58ab" stroke-width="2.4" fill="none"/>
<path d="M1013.4,2006.3V2013.9M1009.8,2010.1H1017.0" stroke="#3d58ab" stroke-width="2.4" fill="none"/>
<path d="M1030.0,2019.4V2027.0M1026.4,2023.2H1033.6" stroke="#3d58ab" stroke-width="2.4" fill="none"/>
<path d="M1040.1,2040.6V2048.2M1036.5,2044.4H1043.7" stroke="#3d58ab" stroke-width="2.4" fill="none"/>
<path d="M1050.1,2040.6V2048.2M1046.5,2044.4H1053.7" stroke="#3d58ab" stroke-width="2.4" fill="none"/>
<path d="M1087.6,2040.6V2048.2M1084.0,2044.4H1091.2" stroke="#3d58ab" stroke-width="2.4" fill="none"/>
<path d="M811.0,1743.1 L811.7,1749.0 L813.9,1759.2 L816.1,1781.1 L817.5,1803.0 L818.3,1824.9 L819.7,1846.8 L821.2,1868.7 L822.6,1883.3 L824.8,1897.9 L827.0,1912.5 L829.2,1939.0 L832.1,1963.8 L836.5,1981.3 L843.1,1997.4 L844.5,2014.9 L848.9,2025.1 L855.5,2028.1 L859.9,2039.7 L866.4,2039.7 L867.2,2057.3 L874.5,2060.2 L875.2,2063.8 L884.0,2063.8 L884.0,2079.2 L894.9,2079.2 L894.9,2087.2 L908.1,2087.2 L908.1,2095.2 L930.7,2095.2 L930.7,2103.3 L997.5,2103.3 L997.5,2119.0 L1198.6,2119.0" fill="none" stroke="#f7951a" stroke-width="3.1" stroke-linejoin="miter" stroke-miterlimit="2"/>
<path d="M811.0,1743.1 L811.7,1749.0 M811.7,1749.0 L813.9,1759.2 M813.9,1759.2 L816.1,1781.1 M816.1,1781.1 L817.5,1803.0 M817.5,1803.0 L818.3,1824.9 M818.3,1824.9 L819.7,1846.8 M819.7,1846.8 L821.2,1868.7 M821.2,1868.7 L822.6,1883.3 M822.6,1883.3 L824.8,1897.9 M824.8,1897.9 L827.0,1912.5 M827.0,1912.5 L829.2,1939.0 M829.2,1939.0 L832.1,1963.8 M832.1,1963.8 L836.5,1981.3 M836.5,1981.3 L843.1,1997.4 M843.1,1997.4 L844.5,2014.9 M844.5,2014.9 L848.9,2025.1 M848.9,2025.1 L855.5,2028.1 M855.5,2028.1 L859.9,2039.7 M866.4,2039.7 L867.2,2057.3 M867.2,2057.3 L874.5,2060.2 M874.5,2060.2 L875.2,2063.8" fill="none" stroke="#f7951a" stroke-width="4.0" stroke-linecap="round"/>
<path d="M812.3,1748.2V1755.8M808.7,1752.0H815.9" stroke="#f7951a" stroke-width="2.4" fill="none"/>
<path d="M814.1,1757.0V1764.6M810.5,1760.8H817.7" stroke="#f7951a" stroke-width="2.4" fill="none"/>
<path d="M815.0,1766.0V1773.6M811.4,1769.8H818.6" stroke="#f7951a" stroke-width="2.4" fill="none"/>
<path d="M815.9,1774.9V1782.5M812.3,1778.7H819.5" stroke="#f7951a" stroke-width="2.4" fill="none"/>
<path d="M816.5,1783.9V1791.5M812.9,1787.7H820.1" stroke="#f7951a" stroke-width="2.4" fill="none"/>
<path d="M817.1,1792.9V1800.5M813.5,1796.7H820.7" stroke="#f7951a" stroke-width="2.4" fill="none"/>
<path d="M817.6,1801.9V1809.5M814.0,1805.7H821.2" stroke="#f7951a" stroke-width="2.4" fill="none"/>
<path d="M817.9,1810.9V1818.5M814.3,1814.7H821.5" stroke="#f7951a" stroke-width="2.4" fill="none"/>
<path d="M818.3,1819.9V1827.5M814.7,1823.7H821.9" stroke="#f7951a" stroke-width="2.4" fill="none"/>
<path d="M818.8,1828.8V1836.4M815.2,1832.6H822.4" stroke="#f7951a" stroke-width="2.4" fill="none"/>
<path d="M819.4,1837.8V1845.4M815.8,1841.6H823.0" stroke="#f7951a" stroke-width="2.4" fill="none"/>
<path d="M820.0,1846.8V1854.4M816.4,1850.6H823.6" stroke="#f7951a" stroke-width="2.4" fill="none"/>
<path d="M820.6,1855.8V1863.4M817.0,1859.6H824.2" stroke="#f7951a" stroke-width="2.4" fill="none"/>
<path d="M821.2,1864.8V1872.4M817.6,1868.6H824.8" stroke="#f7951a" stroke-width="2.4" fill="none"/>
<path d="M822.0,1873.7V1881.3M818.4,1877.5H825.6" stroke="#f7951a" stroke-width="2.4" fill="none"/>
<path d="M823.1,1882.7V1890.3M819.5,1886.5H826.7" stroke="#f7951a" stroke-width="2.4" fill="none"/>
<path d="M824.4,1891.6V1899.2M820.8,1895.4H828.0" stroke="#f7951a" stroke-width="2.4" fill="none"/>
<path d="M825.8,1900.5V1908.1M822.2,1904.3H829.4" stroke="#f7951a" stroke-width="2.4" fill="none"/>
<path d="M827.1,1909.4V1917.0M823.5,1913.2H830.7" stroke="#f7951a" stroke-width="2.4" fill="none"/>
<path d="M827.8,1918.3V1925.9M824.2,1922.1H831.4" stroke="#f7951a" stroke-width="2.4" fill="none"/>
<path d="M828.5,1927.3V1934.9M824.9,1931.1H832.1" stroke="#f7951a" stroke-width="2.4" fill="none"/>
<path d="M829.3,1936.3V1943.9M825.7,1940.1H832.9" stroke="#f7951a" stroke-width="2.4" fill="none"/>
<path d="M830.4,1945.2V1952.8M826.8,1949.0H834.0" stroke="#f7951a" stroke-width="2.4" fill="none"/>
<path d="M831.4,1954.1V1961.7M827.8,1957.9H835.0" stroke="#f7951a" stroke-width="2.4" fill="none"/>
<path d="M832.9,1963.0V1970.6M829.3,1966.8H836.5" stroke="#f7951a" stroke-width="2.4" fill="none"/>
<path d="M835.1,1971.7V1979.3M831.5,1975.5H838.7" stroke="#f7951a" stroke-width="2.4" fill="none"/>
<path d="M837.7,1980.3V1987.9M834.1,1984.1H841.3" stroke="#f7951a" stroke-width="2.4" fill="none"/>
<path d="M841.1,1988.7V1996.3M837.5,1992.5H844.7" stroke="#f7951a" stroke-width="2.4" fill="none"/>
<path d="M843.4,1997.2V2004.8M839.8,2001.0H847.0" stroke="#f7951a" stroke-width="2.4" fill="none"/>
<path d="M844.1,2006.2V2013.8M840.5,2010.0H847.7" stroke="#f7951a" stroke-width="2.4" fill="none"/>
<path d="M846.1,2014.9V2022.5M842.5,2018.7H849.7" stroke="#f7951a" stroke-width="2.4" fill="none"/>
<path d="M850.7,2022.1V2029.7M847.1,2025.9H854.3" stroke="#f7951a" stroke-width="2.4" fill="none"/>
<path d="M856.8,2027.8V2035.4M853.2,2031.6H860.4" stroke="#f7951a" stroke-width="2.4" fill="none"/>
<path d="M866.4,2036.2V2043.8M862.8,2040.0H870.0" stroke="#f7951a" stroke-width="2.4" fill="none"/>
<path d="M866.8,2045.2V2052.8M863.2,2049.0H870.4" stroke="#f7951a" stroke-width="2.4" fill="none"/>
<path d="M867.9,2053.8V2061.4M864.3,2057.6H871.5" stroke="#f7951a" stroke-width="2.4" fill="none"/>
<path d="M874.9,2058.2V2065.8M871.3,2062.0H878.5" stroke="#f7951a" stroke-width="2.4" fill="none"/>
<path d="M899.3,2083.4V2091.0M895.7,2087.2H902.9" stroke="#f7951a" stroke-width="2.4" fill="none"/>
<path d="M936.5,2099.5V2107.1M932.9,2103.3H940.1" stroke="#f7951a" stroke-width="2.4" fill="none"/>
<path d="M972.3,2099.5V2107.1M968.7,2103.3H975.9" stroke="#f7951a" stroke-width="2.4" fill="none"/>
<path d="M1071.8,2115.2V2122.8M1068.2,2119.0H1075.4" stroke="#f7951a" stroke-width="2.4" fill="none"/>
<path d="M1198.6,2115.2V2122.8M1195.0,2119.0H1202.2" stroke="#f7951a" stroke-width="2.4" fill="none"/>
<path d="M811.0,1743.1 L811.7,1766.5 L813.1,1795.7 L814.6,1824.9 L816.1,1854.1 L817.5,1876.0 L819.7,1897.9 L821.2,1919.8 L821.9,1949.2 L823.4,1971.1 L824.8,1978.4 L827.0,2003.2 L829.2,2020.8 L834.3,2020.8 L834.3,2064.6 L848.2,2064.6 L848.2,2075.5 L854.0,2075.5 L854.0,2086.5 L867.2,2086.5 L867.2,2099.6 L947.5,2099.6 L947.5,2125.4 L1129.4,2125.4" fill="none" stroke="#ee2c35" stroke-width="3.1" stroke-linejoin="miter" stroke-miterlimit="2"/>
<path d="M811.0,1743.1 L811.7,1766.5 M811.7,1766.5 L813.1,1795.7 M813.1,1795.7 L814.6,1824.9 M814.6,1824.9 L816.1,1854.1 M816.1,1854.1 L817.5,1876.0 M817.5,1876.0 L819.7,1897.9 M819.7,1897.9 L821.2,1919.8 M821.2,1919.8 L821.9,1949.2 M821.9,1949.2 L823.4,1971.1 M823.4,1971.1 L824.8,1978.4 M824.8,1978.4 L827.0,2003.2 M827.0,2003.2 L829.2,2020.8" fill="none" stroke="#ee2c35" stroke-width="4.0" stroke-linecap="round"/>
<path d="M811.3,1748.3V1755.9M807.7,1752.1H814.9" stroke="#ee2c35" stroke-width="2.4" fill="none"/>
<path d="M811.5,1757.3V1764.9M807.9,1761.1H815.1" stroke="#ee2c35" stroke-width="2.4" fill="none"/>
<path d="M811.9,1766.3V1773.9M808.3,1770.1H815.5" stroke="#ee2c35" stroke-width="2.4" fill="none"/>
<path d="M812.3,1775.3V1782.9M808.7,1779.1H815.9" stroke="#ee2c35" stroke-width="2.4" fill="none"/>
<path d="M812.7,1784.3V1791.9M809.1,1788.1H816.3" stroke="#ee2c35" stroke-width="2.4" fill="none"/>
<path d="M813.2,1793.3V1800.9M809.6,1797.1H816.8" stroke="#ee2c35" stroke-width="2.4" fill="none"/>
<path d="M813.6,1802.2V1809.8M810.0,1806.0H817.2" stroke="#ee2c35" stroke-width="2.4" fill="none"/>
<path d="M814.1,1811.2V1818.8M810.5,1815.0H817.7" stroke="#ee2c35" stroke-width="2.4" fill="none"/>
<path d="M814.6,1820.2V1827.8M811.0,1824.0H818.2" stroke="#ee2c35" stroke-width="2.4" fill="none"/>
<path d="M815.0,1829.2V1836.8M811.4,1833.0H818.6" stroke="#ee2c35" stroke-width="2.4" fill="none"/>
<path d="M815.5,1838.2V1845.8M811.9,1842.0H819.1" stroke="#ee2c35" stroke-width="2.4" fill="none"/>
<path d="M815.9,1847.2V1854.8M812.3,1851.0H819.5" stroke="#ee2c35" stroke-width="2.4" fill="none"/>
<path d="M816.5,1856.2V1863.8M812.9,1860.0H820.1" stroke="#ee2c35" stroke-width="2.4" fill="none"/>
<path d="M817.0,1865.1V1872.7M813.4,1868.9H820.6" stroke="#ee2c35" stroke-width="2.4" fill="none"/>
<path d="M817.7,1874.1V1881.7M814.1,1877.9H821.3" stroke="#ee2c35" stroke-width="2.4" fill="none"/>
<path d="M818.6,1883.1V1890.7M815.0,1886.9H822.2" stroke="#ee2c35" stroke-width="2.4" fill="none"/>
<path d="M819.5,1892.0V1899.6M815.9,1895.8H823.1" stroke="#ee2c35" stroke-width="2.4" fill="none"/>
<path d="M820.2,1901.0V1908.6M816.6,1904.8H823.8" stroke="#ee2c35" stroke-width="2.4" fill="none"/>
<path d="M820.8,1910.0V1917.6M817.2,1913.8H824.4" stroke="#ee2c35" stroke-width="2.4" fill="none"/>
<path d="M821.3,1919.0V1926.6M817.7,1922.8H824.9" stroke="#ee2c35" stroke-width="2.4" fill="none"/>
<path d="M821.5,1928.0V1935.6M817.9,1931.8H825.1" stroke="#ee2c35" stroke-width="2.4" fill="none"/>
<path d="M821.7,1937.0V1944.6M818.1,1940.8H825.3" stroke="#ee2c35" stroke-width="2.4" fill="none"/>
<path d="M821.9,1946.0V1953.6M818.3,1949.8H825.5" stroke="#ee2c35" stroke-width="2.4" fill="none"/>
<path d="M822.6,1954.9V1962.5M819.0,1958.7H826.2" stroke="#ee2c35" stroke-width="2.4" fill="none"/>
<path d="M823.2,1963.9V1971.5M819.6,1967.7H826.8" stroke="#ee2c35" stroke-width="2.4" fill="none"/>
<path d="M824.5,1972.8V1980.4M820.9,1976.6H828.1" stroke="#ee2c35" stroke-width="2.4" fill="none"/>
<path d="M825.4,1981.8V1989.4M821.8,1985.6H829.0" stroke="#ee2c35" stroke-width="2.4" fill="none"/>
<path d="M826.2,1990.7V1998.3M822.6,1994.5H829.8" stroke="#ee2c35" stroke-width="2.4" fill="none"/>
<path d="M827.0,1999.7V2007.3M823.4,2003.5H830.6" stroke="#ee2c35" stroke-width="2.4" fill="none"/>
<path d="M828.2,2008.6V2016.2M824.6,2012.4H831.8" stroke="#ee2c35" stroke-width="2.4" fill="none"/>
<path d="M841.6,2060.8V2068.4M838.0,2064.6H845.2" stroke="#ee2c35" stroke-width="2.4" fill="none"/>
<path d="M862.8,2082.7V2090.3M859.2,2086.5H866.4" stroke="#ee2c35" stroke-width="2.4" fill="none"/>
<path d="M878.9,2095.8V2103.4M875.3,2099.6H882.5" stroke="#ee2c35" stroke-width="2.4" fill="none"/>
<path d="M1129.4,2121.6V2129.2M1125.8,2125.4H1133.0" stroke="#ee2c35" stroke-width="2.4" fill="none"/>
<text x="182.2" y="604.7" font-family='"Liberation Sans", sans-serif' font-size="15.3" font-weight="bold" fill="#548235" text-anchor="start" textLength="199.6" lengthAdjust="spacingAndGlyphs" stroke="#548235" stroke-width="0.35">Very low-risk IPSS-M, n=18</text>
<text x="182.2" y="643.6" font-family='"Liberation Sans", sans-serif' font-size="15.3" font-weight="bold" fill="#13235f" text-anchor="start" textLength="173.7" lengthAdjust="spacingAndGlyphs" stroke="#13235f" stroke-width="0.35">Low-risk IPSS-M, n=132</text>
<text x="181.6" y="681.7" font-family='"Liberation Sans", sans-serif' font-size="15.3" font-weight="bold" fill="#c95eff" text-anchor="start" textLength="239.1" lengthAdjust="spacingAndGlyphs" stroke="#c95eff" stroke-width="0.35">Moderate low-risk IPSS-M, n=95</text>
<text x="181.3" y="717.8" font-family='"Liberation Sans", sans-serif' font-size="15.3" font-weight="bold" fill="#7030a0" text-anchor="start" textLength="244.1" lengthAdjust="spacingAndGlyphs" stroke="#7030a0" stroke-width="0.35">Moderate high-risk IPSS-M, n=92</text>
<text x="181.3" y="752.0" font-family='"Liberation Sans", sans-serif' font-size="15.3" font-weight="bold" fill="#c09000" text-anchor="start" textLength="176.1" lengthAdjust="spacingAndGlyphs" stroke="#c09000" stroke-width="0.35">High-risk IPSS-M, n=121</text>
<text x="180.9" y="789.1" font-family='"Liberation Sans", sans-serif' font-size="15.3" font-weight="bold" fill="#c00000" text-anchor="start" textLength="213.1" lengthAdjust="spacingAndGlyphs" stroke="#c00000" stroke-width="0.35">Very high-risk IPSS-M, n=191</text>
<path d="M436.8,600.8 C443.3,600.1 445.3,600.6999999999999 445.3,603.6 V615.0 C445.3,617.6 446.8,618.2 453.9,618.2 C446.8,618.2 445.3,618.8000000000001 445.3,621.4000000000001 V632.9 C445.3,635.8000000000001 443.3,636.4 436.8,635.9" fill="none" stroke="#000" stroke-width="2.3" stroke-linecap="round" stroke-linejoin="round"/>
<path d="M436.8,639.6999999999999 C443.3,639.0 445.3,639.5999999999999 445.3,642.5 V653.6999999999999 C445.3,656.3 446.8,656.9 453.9,656.9 C446.8,656.9 445.3,657.5 445.3,660.1 V671.3 C445.3,674.2 443.3,674.8 436.8,674.3" fill="none" stroke="#000" stroke-width="2.3" stroke-linecap="round" stroke-linejoin="round"/>
<path d="M436.8,678.6 C443.3,677.9000000000001 445.3,678.5 445.3,681.4000000000001 V692.6999999999999 C445.3,695.3 446.8,695.9 453.9,695.9 C446.8,695.9 445.3,696.5 445.3,699.1 V710.5 C445.3,713.4000000000001 443.3,714.0 436.8,713.5" fill="none" stroke="#000" stroke-width="2.3" stroke-linecap="round" stroke-linejoin="round"/>
<path d="M436.8,717.1 C443.3,716.4000000000001 445.3,717.0 445.3,719.9000000000001 V731.0999999999999 C445.3,733.6999999999999 446.8,734.3 453.9,734.3 C446.8,734.3 445.3,734.9 445.3,737.5 V749.0 C445.3,751.9000000000001 443.3,752.5 436.8,752.0" fill="none" stroke="#000" stroke-width="2.3" stroke-linecap="round" stroke-linejoin="round"/>
<path d="M435.4,756.1999999999999 C442.0,755.5 444.0,756.0999999999999 444.0,759.0 V770.0 C444.0,772.6 445.5,773.2 452.6,773.2 C445.5,773.2 444.0,773.8000000000001 444.0,776.4000000000001 V787.9 C444.0,790.8000000000001 442.0,791.4 435.4,790.9" fill="none" stroke="#000" stroke-width="2.3" stroke-linecap="round" stroke-linejoin="round"/>
<text x="470.7" y="624.6" font-family='"Liberation Sans", sans-serif' font-size="15.8" font-weight="bold" fill="#000" text-anchor="start" textLength="9.6" lengthAdjust="spacingAndGlyphs" font-style="italic" stroke="#000" stroke-width="0.35">P</text>
<text x="484.2" y="624.6" font-family='"Liberation Sans", sans-serif' font-size="15.8" font-weight="bold" fill="#000" text-anchor="start" textLength="8.4" lengthAdjust="spacingAndGlyphs" stroke="#000" stroke-width="0.35">=</text>
<text x="497.2" y="624.6" font-family='"Liberation Sans", sans-serif' font-size="15.8" font-weight="bold" fill="#000" text-anchor="start" textLength="40.4" lengthAdjust="spacingAndGlyphs" stroke="#000" stroke-width="0.35">0.546</text>
<text x="470.7" y="661.9" font-family='"Liberation Sans", sans-serif' font-size="15.8" font-weight="bold" fill="#000" text-anchor="start" textLength="9.6" lengthAdjust="spacingAndGlyphs" font-style="italic" stroke="#000" stroke-width="0.35">P</text>
<text x="484.2" y="661.9" font-family='"Liberation Sans", sans-serif' font-size="15.8" font-weight="bold" fill="#000" text-anchor="start" textLength="8.4" lengthAdjust="spacingAndGlyphs" stroke="#000" stroke-width="0.35">=</text>
<text x="497.2" y="661.9" font-family='"Liberation Sans", sans-serif' font-size="15.8" font-weight="bold" fill="#000" text-anchor="start" textLength="40.4" lengthAdjust="spacingAndGlyphs" stroke="#000" stroke-width="0.35">0.004</text>
<text x="471.6" y="700.7" font-family='"Liberation Sans", sans-serif' font-size="15.8" font-weight="bold" fill="#000" text-anchor="start" textLength="9.6" lengthAdjust="spacingAndGlyphs" font-style="italic" stroke="#000" stroke-width="0.35">P</text>
<text x="485.1" y="700.7" font-family='"Liberation Sans", sans-serif' font-size="15.8" font-weight="bold" fill="#000" text-anchor="start" textLength="8.4" lengthAdjust="spacingAndGlyphs" stroke="#000" stroke-width="0.35">=</text>
<text x="498.1" y="700.7" font-family='"Liberation Sans", sans-serif' font-size="15.8" font-weight="bold" fill="#000" text-anchor="start" textLength="40.4" lengthAdjust="spacingAndGlyphs" stroke="#000" stroke-width="0.35">0.108</text>
<text x="470.7" y="741.1" font-family='"Liberation Sans", sans-serif' font-size="15.8" font-weight="bold" fill="#000" text-anchor="start" textLength="9.6" lengthAdjust="spacingAndGlyphs" font-style="italic" stroke="#000" stroke-width="0.35">P</text>
<text x="484.2" y="741.1" font-family='"Liberation Sans", sans-serif' font-size="15.8" font-weight="bold" fill="#000" text-anchor="start" textLength="8.4" lengthAdjust="spacingAndGlyphs" stroke="#000" stroke-width="0.35">=</text>
<text x="497.2" y="741.1" font-family='"Liberation Sans", sans-serif' font-size="15.8" font-weight="bold" fill="#000" text-anchor="start" textLength="40.4" lengthAdjust="spacingAndGlyphs" stroke="#000" stroke-width="0.35">0.025</text>
<text x="470.7" y="780.9" font-family='"Liberation Sans", sans-serif' font-size="15.8" font-weight="bold" fill="#000" text-anchor="start" textLength="9.6" lengthAdjust="spacingAndGlyphs" font-style="italic" stroke="#000" stroke-width="0.35">P</text>
<text x="484.2" y="780.9" font-family='"Liberation Sans", sans-serif' font-size="15.8" font-weight="bold" fill="#000" text-anchor="start" textLength="8.4" lengthAdjust="spacingAndGlyphs" stroke="#000" stroke-width="0.35">&lt;</text>
<text x="497.2" y="780.9" font-family='"Liberation Sans", sans-serif' font-size="15.8" font-weight="bold" fill="#000" text-anchor="start" textLength="40.4" lengthAdjust="spacingAndGlyphs" stroke="#000" stroke-width="0.35">0.001</text>
<text x="871.1" y="608.8" font-family='"Liberation Sans", sans-serif' font-size="15.3" font-weight="bold" fill="#548235" text-anchor="start" textLength="199.0" lengthAdjust="spacingAndGlyphs" stroke="#548235" stroke-width="0.35">Very low-risk IPSS-M, n=18</text>
<text x="871.1" y="647.1" font-family='"Liberation Sans", sans-serif' font-size="15.3" font-weight="bold" fill="#13235f" text-anchor="start" textLength="173.4" lengthAdjust="spacingAndGlyphs" stroke="#13235f" stroke-width="0.35">Low-risk IPSS-M, n=132</text>
<text x="870.0" y="685.4" font-family='"Liberation Sans", sans-serif' font-size="15.3" font-weight="bold" fill="#c95eff" text-anchor="start" textLength="239.0" lengthAdjust="spacingAndGlyphs" stroke="#c95eff" stroke-width="0.35">Moderate low-risk IPSS-M, n=95</text>
<text x="870.0" y="721.9" font-family='"Liberation Sans", sans-serif' font-size="15.3" font-weight="bold" fill="#7030a0" text-anchor="start" textLength="244.2" lengthAdjust="spacingAndGlyphs" stroke="#7030a0" stroke-width="0.35">Moderate high-risk IPSS-M, n=92</text>
<text x="870.0" y="755.5" font-family='"Liberation Sans", sans-serif' font-size="15.3" font-weight="bold" fill="#c09000" text-anchor="start" textLength="176.3" lengthAdjust="spacingAndGlyphs" stroke="#c09000" stroke-width="0.35">High-risk IPSS-M, n=121</text>
<text x="870.0" y="792.5" font-family='"Liberation Sans", sans-serif' font-size="15.3" font-weight="bold" fill="#c00000" text-anchor="start" textLength="212.5" lengthAdjust="spacingAndGlyphs" stroke="#c00000" stroke-width="0.35">Very high-risk IPSS-M, n=191</text>
<path d="M1124.3,604.4 C1131.5,603.7 1133.5,604.3 1133.5,607.2 V618.8 C1133.5,621.4 1135.0,622.0 1142.2,622.0 C1135.0,622.0 1133.5,622.6 1133.5,625.2 V636.8 C1133.5,639.7 1131.5,640.3 1124.3,639.8" fill="none" stroke="#000" stroke-width="2.3" stroke-linecap="round" stroke-linejoin="round"/>
<path d="M1124.3,643.0 C1131.5,642.3000000000001 1133.5,642.9 1133.5,645.8000000000001 V657.5999999999999 C1133.5,660.1999999999999 1135.0,660.8 1142.2,660.8 C1135.0,660.8 1133.5,661.4 1133.5,664.0 V674.8 C1133.5,677.7 1131.5,678.3 1124.3,677.8" fill="none" stroke="#000" stroke-width="2.3" stroke-linecap="round" stroke-linejoin="round"/>
<path d="M1124.3,681.9 C1131.5,681.2 1133.5,681.8 1133.5,684.7 V696.1999999999999 C1133.5,698.8 1135.0,699.4 1142.2,699.4 C1135.0,699.4 1133.5,700.0 1133.5,702.6 V713.9 C1133.5,716.8000000000001 1131.5,717.4 1124.3,716.9" fill="none" stroke="#000" stroke-width="2.3" stroke-linecap="round" stroke-linejoin="round"/>
<path d="M1124.3,721.0 C1131.5,720.3000000000001 1133.5,720.9 1133.5,723.8000000000001 V735.0999999999999 C1133.5,737.6999999999999 1135.0,738.3 1142.2,738.3 C1135.0,738.3 1133.5,738.9 1133.5,741.5 V753.0 C1133.5,755.9000000000001 1131.5,756.5 1124.3,756.0" fill="none" stroke="#000" stroke-width="2.3" stroke-linecap="round" stroke-linejoin="round"/>
<path d="M1124.3,759.8 C1131.5,759.1 1133.5,759.6999999999999 1133.5,762.6 V774.1999999999999 C1133.5,776.8 1135.0,777.4 1142.2,777.4 C1135.0,777.4 1133.5,778.0 1133.5,780.6 V791.9 C1133.5,794.8000000000001 1131.5,795.4 1124.3,794.9" fill="none" stroke="#000" stroke-width="2.3" stroke-linecap="round" stroke-linejoin="round"/>
<text x="1159.2" y="628.1" font-family='"Liberation Sans", sans-serif' font-size="15.8" font-weight="bold" fill="#000" text-anchor="start" textLength="9.6" lengthAdjust="spacingAndGlyphs" font-style="italic" stroke="#000" stroke-width="0.35">P</text>
<text x="1172.7" y="628.1" font-family='"Liberation Sans", sans-serif' font-size="15.8" font-weight="bold" fill="#000" text-anchor="start" textLength="8.4" lengthAdjust="spacingAndGlyphs" stroke="#000" stroke-width="0.35">=</text>
<text x="1185.7" y="628.1" font-family='"Liberation Sans", sans-serif' font-size="15.8" font-weight="bold" fill="#000" text-anchor="start" textLength="40.3" lengthAdjust="spacingAndGlyphs" stroke="#000" stroke-width="0.35">0.680</text>
<text x="1159.2" y="665.6" font-family='"Liberation Sans", sans-serif' font-size="15.8" font-weight="bold" fill="#000" text-anchor="start" textLength="9.6" lengthAdjust="spacingAndGlyphs" font-style="italic" stroke="#000" stroke-width="0.35">P</text>
<text x="1172.7" y="665.6" font-family='"Liberation Sans", sans-serif' font-size="15.8" font-weight="bold" fill="#000" text-anchor="start" textLength="8.4" lengthAdjust="spacingAndGlyphs" stroke="#000" stroke-width="0.35">=</text>
<text x="1185.7" y="665.6" font-family='"Liberation Sans", sans-serif' font-size="15.8" font-weight="bold" fill="#000" text-anchor="start" textLength="40.3" lengthAdjust="spacingAndGlyphs" stroke="#000" stroke-width="0.35">0.004</text>
<text x="1160.5" y="704.4" font-family='"Liberation Sans", sans-serif' font-size="15.8" font-weight="bold" fill="#000" text-anchor="start" textLength="9.6" lengthAdjust="spacingAndGlyphs" font-style="italic" stroke="#000" stroke-width="0.35">P</text>
<text x="1174.0" y="704.4" font-family='"Liberation Sans", sans-serif' font-size="15.8" font-weight="bold" fill="#000" text-anchor="start" textLength="8.4" lengthAdjust="spacingAndGlyphs" stroke="#000" stroke-width="0.35">=</text>
<text x="1187.0" y="704.4" font-family='"Liberation Sans", sans-serif' font-size="15.8" font-weight="bold" fill="#000" text-anchor="start" textLength="40.3" lengthAdjust="spacingAndGlyphs" stroke="#000" stroke-width="0.35">0.268</text>
<text x="1159.2" y="744.4" font-family='"Liberation Sans", sans-serif' font-size="15.8" font-weight="bold" fill="#000" text-anchor="start" textLength="9.6" lengthAdjust="spacingAndGlyphs" font-style="italic" stroke="#000" stroke-width="0.35">P</text>
<text x="1172.7" y="744.4" font-family='"Liberation Sans", sans-serif' font-size="15.8" font-weight="bold" fill="#000" text-anchor="start" textLength="8.4" lengthAdjust="spacingAndGlyphs" stroke="#000" stroke-width="0.35">=</text>
<text x="1185.7" y="744.4" font-family='"Liberation Sans", sans-serif' font-size="15.8" font-weight="bold" fill="#000" text-anchor="start" textLength="40.3" lengthAdjust="spacingAndGlyphs" stroke="#000" stroke-width="0.35">0.010</text>
<text x="1159.2" y="784.5" font-family='"Liberation Sans", sans-serif' font-size="15.8" font-weight="bold" fill="#000" text-anchor="start" textLength="9.6" lengthAdjust="spacingAndGlyphs" font-style="italic" stroke="#000" stroke-width="0.35">P</text>
<text x="1172.7" y="784.5" font-family='"Liberation Sans", sans-serif' font-size="15.8" font-weight="bold" fill="#000" text-anchor="start" textLength="8.4" lengthAdjust="spacingAndGlyphs" stroke="#000" stroke-width="0.35">&lt;</text>
<text x="1185.7" y="784.5" font-family='"Liberation Sans", sans-serif' font-size="15.8" font-weight="bold" fill="#000" text-anchor="start" textLength="40.3" lengthAdjust="spacingAndGlyphs" stroke="#000" stroke-width="0.35">0.001</text>
<text x="182.7" y="1440.6" font-family='"Liberation Sans", sans-serif' font-size="15.3" font-weight="bold" fill="#548235" text-anchor="start" textLength="194.2" lengthAdjust="spacingAndGlyphs" stroke="#548235" stroke-width="0.35">Very low-risk IPSS-R, n=22</text>
<text x="184.5" y="1482.4" font-family='"Liberation Sans", sans-serif' font-size="15.3" font-weight="bold" fill="#13235f" text-anchor="start" textLength="168.4" lengthAdjust="spacingAndGlyphs" stroke="#13235f" stroke-width="0.35">Low-risk IPSS-R, n=170</text>
<text x="182.7" y="1527.3" font-family='"Liberation Sans", sans-serif' font-size="15.3" font-weight="bold" fill="#7030a0" text-anchor="start" textLength="235.7" lengthAdjust="spacingAndGlyphs" stroke="#7030a0" stroke-width="0.35">Intermediate-risk IPSS-R, n=173</text>
<text x="181.9" y="1568.8" font-family='"Liberation Sans", sans-serif' font-size="15.3" font-weight="bold" fill="#c09000" text-anchor="start" textLength="170.4" lengthAdjust="spacingAndGlyphs" stroke="#c09000" stroke-width="0.35">High-risk IPSS-R, n=141</text>
<text x="181.9" y="1610.6" font-family='"Liberation Sans", sans-serif' font-size="15.3" font-weight="bold" fill="#c00000" text-anchor="start" textLength="206.9" lengthAdjust="spacingAndGlyphs" stroke="#c00000" stroke-width="0.35">Very high-risk IPSS-R, n=143</text>
<path d="M434.3,1440.5 C440.7,1439.8 442.7,1440.3999999999999 442.7,1443.3 V1454.1 C442.7,1456.7 444.2,1457.3 452.2,1457.3 C444.2,1457.3 442.7,1457.8999999999999 442.7,1460.5 V1472.1 C442.7,1475.0 440.7,1475.6 434.3,1475.1" fill="none" stroke="#000" stroke-width="2.3" stroke-linecap="round" stroke-linejoin="round"/>
<path d="M434.3,1485.4 C440.7,1484.7 442.7,1485.3 442.7,1488.2 V1499.0 C442.7,1501.6000000000001 444.2,1502.2 452.2,1502.2 C444.2,1502.2 442.7,1502.8 442.7,1505.4 V1517.0 C442.7,1519.9 440.7,1520.5 434.3,1520.0" fill="none" stroke="#000" stroke-width="2.3" stroke-linecap="round" stroke-linejoin="round"/>
<path d="M434.3,1530.4 C440.7,1529.7 442.7,1530.3 442.7,1533.2 V1543.8999999999999 C442.7,1546.5 444.2,1547.1 452.2,1547.1 C444.2,1547.1 442.7,1547.6999999999998 442.7,1550.3 V1561.8999999999999 C442.7,1564.8 440.7,1565.3999999999999 434.3,1564.8999999999999" fill="none" stroke="#000" stroke-width="2.3" stroke-linecap="round" stroke-linejoin="round"/>
<path d="M434.3,1574.0 C440.7,1573.3 442.7,1573.8999999999999 442.7,1576.8 V1587.5 C442.7,1590.1000000000001 444.2,1590.7 452.2,1590.7 C444.2,1590.7 442.7,1591.3 442.7,1593.9 V1605.5 C442.7,1608.4 440.7,1609.0 434.3,1608.5" fill="none" stroke="#000" stroke-width="2.3" stroke-linecap="round" stroke-linejoin="round"/>
<text x="470.0" y="1463.9" font-family='"Liberation Sans", sans-serif' font-size="15.8" font-weight="bold" fill="#000" text-anchor="start" textLength="9.6" lengthAdjust="spacingAndGlyphs" font-style="italic" stroke="#000" stroke-width="0.35">P</text>
<text x="483.5" y="1463.9" font-family='"Liberation Sans", sans-serif' font-size="15.8" font-weight="bold" fill="#000" text-anchor="start" textLength="8.4" lengthAdjust="spacingAndGlyphs" stroke="#000" stroke-width="0.35">=</text>
<text x="496.5" y="1463.9" font-family='"Liberation Sans", sans-serif' font-size="15.8" font-weight="bold" fill="#000" text-anchor="start" textLength="40.3" lengthAdjust="spacingAndGlyphs" stroke="#000" stroke-width="0.35">0.879</text>
<text x="468.1" y="1507.5" font-family='"Liberation Sans", sans-serif' font-size="15.8" font-weight="bold" fill="#000" text-anchor="start" textLength="9.6" lengthAdjust="spacingAndGlyphs" font-style="italic" stroke="#000" stroke-width="0.35">P</text>
<text x="481.6" y="1507.5" font-family='"Liberation Sans", sans-serif' font-size="15.8" font-weight="bold" fill="#000" text-anchor="start" textLength="8.4" lengthAdjust="spacingAndGlyphs" stroke="#000" stroke-width="0.35">&lt;</text>
<text x="494.6" y="1507.5" font-family='"Liberation Sans", sans-serif' font-size="15.8" font-weight="bold" fill="#000" text-anchor="start" textLength="40.6" lengthAdjust="spacingAndGlyphs" stroke="#000" stroke-width="0.35">0.001</text>
<text x="470.0" y="1555.1" font-family='"Liberation Sans", sans-serif' font-size="15.8" font-weight="bold" fill="#000" text-anchor="start" textLength="9.6" lengthAdjust="spacingAndGlyphs" font-style="italic" stroke="#000" stroke-width="0.35">P</text>
<text x="483.5" y="1555.1" font-family='"Liberation Sans", sans-serif' font-size="15.8" font-weight="bold" fill="#000" text-anchor="start" textLength="8.4" lengthAdjust="spacingAndGlyphs" stroke="#000" stroke-width="0.35">&lt;</text>
<text x="496.5" y="1555.1" font-family='"Liberation Sans", sans-serif' font-size="15.8" font-weight="bold" fill="#000" text-anchor="start" textLength="40.3" lengthAdjust="spacingAndGlyphs" stroke="#000" stroke-width="0.35">0.001</text>
<text x="470.0" y="1601.3" font-family='"Liberation Sans", sans-serif' font-size="15.8" font-weight="bold" fill="#000" text-anchor="start" textLength="9.6" lengthAdjust="spacingAndGlyphs" font-style="italic" stroke="#000" stroke-width="0.35">P</text>
<text x="483.5" y="1601.3" font-family='"Liberation Sans", sans-serif' font-size="15.8" font-weight="bold" fill="#000" text-anchor="start" textLength="8.4" lengthAdjust="spacingAndGlyphs" stroke="#000" stroke-width="0.35">&lt;</text>
<text x="496.5" y="1601.3" font-family='"Liberation Sans", sans-serif' font-size="15.8" font-weight="bold" fill="#000" text-anchor="start" textLength="40.3" lengthAdjust="spacingAndGlyphs" stroke="#000" stroke-width="0.35">0.001</text>
<text x="862.7" y="1437.6" font-family='"Liberation Sans", sans-serif' font-size="15.3" font-weight="bold" fill="#548235" text-anchor="start" textLength="194.2" lengthAdjust="spacingAndGlyphs" stroke="#548235" stroke-width="0.35">Very low-risk IPSS-R, n=22</text>
<text x="864.5" y="1479.4" font-family='"Liberation Sans", sans-serif' font-size="15.3" font-weight="bold" fill="#13235f" text-anchor="start" textLength="168.4" lengthAdjust="spacingAndGlyphs" stroke="#13235f" stroke-width="0.35">Low-risk IPSS-R, n=170</text>
<text x="862.7" y="1524.3" font-family='"Liberation Sans", sans-serif' font-size="15.3" font-weight="bold" fill="#7030a0" text-anchor="start" textLength="235.7" lengthAdjust="spacingAndGlyphs" stroke="#7030a0" stroke-width="0.35">Intermediate-risk IPSS-R, n=173</text>
<text x="861.9" y="1565.8" font-family='"Liberation Sans", sans-serif' font-size="15.3" font-weight="bold" fill="#c09000" text-anchor="start" textLength="170.4" lengthAdjust="spacingAndGlyphs" stroke="#c09000" stroke-width="0.35">High-risk IPSS-R, n=141</text>
<text x="861.9" y="1607.6" font-family='"Liberation Sans", sans-serif' font-size="15.3" font-weight="bold" fill="#c00000" text-anchor="start" textLength="206.9" lengthAdjust="spacingAndGlyphs" stroke="#c00000" stroke-width="0.35">Very high-risk IPSS-R, n=143</text>
<path d="M1114.3,1437.5 C1120.7,1436.8 1122.7,1437.3999999999999 1122.7,1440.3 V1451.1 C1122.7,1453.7 1124.2,1454.3 1132.2,1454.3 C1124.2,1454.3 1122.7,1454.8999999999999 1122.7,1457.5 V1469.1 C1122.7,1472.0 1120.7,1472.6 1114.3,1472.1" fill="none" stroke="#000" stroke-width="2.3" stroke-linecap="round" stroke-linejoin="round"/>
<path d="M1114.3,1482.4 C1120.7,1481.7 1122.7,1482.3 1122.7,1485.2 V1496.0 C1122.7,1498.6000000000001 1124.2,1499.2 1132.2,1499.2 C1124.2,1499.2 1122.7,1499.8 1122.7,1502.4 V1514.0 C1122.7,1516.9 1120.7,1517.5 1114.3,1517.0" fill="none" stroke="#000" stroke-width="2.3" stroke-linecap="round" stroke-linejoin="round"/>
<path d="M1114.3,1527.4 C1120.7,1526.7 1122.7,1527.3 1122.7,1530.2 V1540.8999999999999 C1122.7,1543.5 1124.2,1544.1 1132.2,1544.1 C1124.2,1544.1 1122.7,1544.6999999999998 1122.7,1547.3 V1558.8999999999999 C1122.7,1561.8 1120.7,1562.3999999999999 1114.3,1561.8999999999999" fill="none" stroke="#000" stroke-width="2.3" stroke-linecap="round" stroke-linejoin="round"/>
<path d="M1114.3,1571.0 C1120.7,1570.3 1122.7,1570.8999999999999 1122.7,1573.8 V1584.5 C1122.7,1587.1000000000001 1124.2,1587.7 1132.2,1587.7 C1124.2,1587.7 1122.7,1588.3 1122.7,1590.9 V1602.5 C1122.7,1605.4 1120.7,1606.0 1114.3,1605.5" fill="none" stroke="#000" stroke-width="2.3" stroke-linecap="round" stroke-linejoin="round"/>
<text x="1150.0" y="1460.9" font-family='"Liberation Sans", sans-serif' font-size="15.8" font-weight="bold" fill="#000" text-anchor="start" textLength="9.6" lengthAdjust="spacingAndGlyphs" font-style="italic" stroke="#000" stroke-width="0.35">P</text>
<text x="1163.5" y="1460.9" font-family='"Liberation Sans", sans-serif' font-size="15.8" font-weight="bold" fill="#000" text-anchor="start" textLength="8.4" lengthAdjust="spacingAndGlyphs" stroke="#000" stroke-width="0.35">=</text>
<text x="1176.5" y="1460.9" font-family='"Liberation Sans", sans-serif' font-size="15.8" font-weight="bold" fill="#000" text-anchor="start" textLength="40.8" lengthAdjust="spacingAndGlyphs" stroke="#000" stroke-width="0.35">0.859</text>
<text x="1148.1" y="1504.5" font-family='"Liberation Sans", sans-serif' font-size="15.8" font-weight="bold" fill="#000" text-anchor="start" textLength="9.6" lengthAdjust="spacingAndGlyphs" font-style="italic" stroke="#000" stroke-width="0.35">P</text>
<text x="1161.6" y="1504.5" font-family='"Liberation Sans", sans-serif' font-size="15.8" font-weight="bold" fill="#000" text-anchor="start" textLength="8.4" lengthAdjust="spacingAndGlyphs" stroke="#000" stroke-width="0.35">=</text>
<text x="1174.6" y="1504.5" font-family='"Liberation Sans", sans-serif' font-size="15.8" font-weight="bold" fill="#000" text-anchor="start" textLength="40.6" lengthAdjust="spacingAndGlyphs" stroke="#000" stroke-width="0.35">0.001</text>
<text x="1150.0" y="1552.1" font-family='"Liberation Sans", sans-serif' font-size="15.8" font-weight="bold" fill="#000" text-anchor="start" textLength="9.6" lengthAdjust="spacingAndGlyphs" font-style="italic" stroke="#000" stroke-width="0.35">P</text>
<text x="1163.5" y="1552.1" font-family='"Liberation Sans", sans-serif' font-size="15.8" font-weight="bold" fill="#000" text-anchor="start" textLength="8.4" lengthAdjust="spacingAndGlyphs" stroke="#000" stroke-width="0.35">&lt;</text>
<text x="1176.5" y="1552.1" font-family='"Liberation Sans", sans-serif' font-size="15.8" font-weight="bold" fill="#000" text-anchor="start" textLength="40.3" lengthAdjust="spacingAndGlyphs" stroke="#000" stroke-width="0.35">0.001</text>
<text x="1150.0" y="1598.3" font-family='"Liberation Sans", sans-serif' font-size="15.8" font-weight="bold" fill="#000" text-anchor="start" textLength="9.6" lengthAdjust="spacingAndGlyphs" font-style="italic" stroke="#000" stroke-width="0.35">P</text>
<text x="1163.5" y="1598.3" font-family='"Liberation Sans", sans-serif' font-size="15.8" font-weight="bold" fill="#000" text-anchor="start" textLength="8.4" lengthAdjust="spacingAndGlyphs" stroke="#000" stroke-width="0.35">&lt;</text>
<text x="1176.5" y="1598.3" font-family='"Liberation Sans", sans-serif' font-size="15.8" font-weight="bold" fill="#000" text-anchor="start" textLength="40.3" lengthAdjust="spacingAndGlyphs" stroke="#000" stroke-width="0.35">0.001</text>
<text x="151.7" y="2304.8" font-family='"Liberation Sans", sans-serif' font-size="15.3" font-weight="bold" fill="#548235" text-anchor="start" textLength="152.4" lengthAdjust="spacingAndGlyphs" stroke="#548235" stroke-width="0.35">Low-risk IPSS, n=106</text>
<text x="153.1" y="2346.6" font-family='"Liberation Sans", sans-serif' font-size="15.3" font-weight="bold" fill="#13235f" text-anchor="start" textLength="239.5" lengthAdjust="spacingAndGlyphs" stroke="#13235f" stroke-width="0.35">Intermediate-1-risk IPSS-, n=302</text>
<text x="151.7" y="2391.0" font-family='"Liberation Sans", sans-serif' font-size="15.3" font-weight="bold" fill="#c09000" text-anchor="start" textLength="233.6" lengthAdjust="spacingAndGlyphs" stroke="#c09000" stroke-width="0.35">Intermediate-2-risk IPSS, n=167</text>
<text x="151.1" y="2437.7" font-family='"Liberation Sans", sans-serif' font-size="15.3" font-weight="bold" fill="#c00000" text-anchor="start" textLength="146.6" lengthAdjust="spacingAndGlyphs" stroke="#c00000" stroke-width="0.35">High-risk IPSS, n=74</text>
<path d="M433.5,2308.1 C441.2,2307.3999999999996 443.2,2308.0 443.2,2310.8999999999996 V2321.2000000000003 C443.2,2323.8 444.7,2324.4 452.5,2324.4 C444.7,2324.4 443.2,2325.0 443.2,2327.6 V2338.7000000000003 C443.2,2341.6 441.2,2342.2000000000003 433.5,2341.7000000000003" fill="none" stroke="#000" stroke-width="2.3" stroke-linecap="round" stroke-linejoin="round"/>
<path d="M433.5,2352.8 C441.2,2352.1 443.2,2352.7000000000003 443.2,2355.6 V2365.9 C443.2,2368.5 444.7,2369.1 452.5,2369.1 C444.7,2369.1 443.2,2369.7 443.2,2372.2999999999997 V2383.4 C443.2,2386.2999999999997 441.2,2386.9 433.5,2386.4" fill="none" stroke="#000" stroke-width="2.3" stroke-linecap="round" stroke-linejoin="round"/>
<path d="M433.5,2397.8 C441.2,2397.1 443.2,2397.7000000000003 443.2,2400.6 V2411.1000000000004 C443.2,2413.7000000000003 444.7,2414.3 452.5,2414.3 C444.7,2414.3 443.2,2414.9 443.2,2417.5 V2428.7000000000003 C443.2,2431.6 441.2,2432.2000000000003 433.5,2431.7000000000003" fill="none" stroke="#000" stroke-width="2.3" stroke-linecap="round" stroke-linejoin="round"/>
<text x="470.0" y="2328.2" font-family='"Liberation Sans", sans-serif' font-size="15.8" font-weight="bold" fill="#000" text-anchor="start" textLength="9.6" lengthAdjust="spacingAndGlyphs" font-style="italic" stroke="#000" stroke-width="0.35">P</text>
<text x="483.5" y="2328.2" font-family='"Liberation Sans", sans-serif' font-size="15.8" font-weight="bold" fill="#000" text-anchor="start" textLength="8.4" lengthAdjust="spacingAndGlyphs" stroke="#000" stroke-width="0.35">=</text>
<text x="496.5" y="2328.2" font-family='"Liberation Sans", sans-serif' font-size="15.8" font-weight="bold" fill="#000" text-anchor="start" textLength="40.7" lengthAdjust="spacingAndGlyphs" stroke="#000" stroke-width="0.35">0.004</text>
<text x="468.6" y="2371.1" font-family='"Liberation Sans", sans-serif' font-size="15.8" font-weight="bold" fill="#000" text-anchor="start" textLength="9.6" lengthAdjust="spacingAndGlyphs" font-style="italic" stroke="#000" stroke-width="0.35">P</text>
<text x="482.1" y="2371.1" font-family='"Liberation Sans", sans-serif' font-size="15.8" font-weight="bold" fill="#000" text-anchor="start" textLength="8.4" lengthAdjust="spacingAndGlyphs" stroke="#000" stroke-width="0.35">&lt;</text>
<text x="495.1" y="2371.1" font-family='"Liberation Sans", sans-serif' font-size="15.8" font-weight="bold" fill="#000" text-anchor="start" textLength="39.8" lengthAdjust="spacingAndGlyphs" stroke="#000" stroke-width="0.35">0.001</text>
<text x="470.0" y="2418.7" font-family='"Liberation Sans", sans-serif' font-size="15.8" font-weight="bold" fill="#000" text-anchor="start" textLength="9.6" lengthAdjust="spacingAndGlyphs" font-style="italic" stroke="#000" stroke-width="0.35">P</text>
<text x="483.5" y="2418.7" font-family='"Liberation Sans", sans-serif' font-size="15.8" font-weight="bold" fill="#000" text-anchor="start" textLength="8.4" lengthAdjust="spacingAndGlyphs" stroke="#000" stroke-width="0.35">=</text>
<text x="496.5" y="2418.7" font-family='"Liberation Sans", sans-serif' font-size="15.8" font-weight="bold" fill="#000" text-anchor="start" textLength="40.7" lengthAdjust="spacingAndGlyphs" stroke="#000" stroke-width="0.35">0.047</text>
<text x="829.7" y="2305.7" font-family='"Liberation Sans", sans-serif' font-size="15.3" font-weight="bold" fill="#548235" text-anchor="start" textLength="152.4" lengthAdjust="spacingAndGlyphs" stroke="#548235" stroke-width="0.35">Low-risk IPSS, n=106</text>
<text x="831.1" y="2347.8" font-family='"Liberation Sans", sans-serif' font-size="15.3" font-weight="bold" fill="#13235f" text-anchor="start" textLength="234.6" lengthAdjust="spacingAndGlyphs" stroke="#13235f" stroke-width="0.35">Intermediate-1-risk IPSS, n=302</text>
<text x="829.7" y="2392.4" font-family='"Liberation Sans", sans-serif' font-size="15.3" font-weight="bold" fill="#c09000" text-anchor="start" textLength="233.6" lengthAdjust="spacingAndGlyphs" stroke="#c09000" stroke-width="0.35">Intermediate-2-risk IPSS, n=167</text>
<text x="829.7" y="2439.2" font-family='"Liberation Sans", sans-serif' font-size="15.3" font-weight="bold" fill="#c00000" text-anchor="start" textLength="146.0" lengthAdjust="spacingAndGlyphs" stroke="#c00000" stroke-width="0.35">High-risk IPSS, n=74</text>
<path d="M1111.5,2309.0 C1119.2,2308.2999999999997 1121.2,2308.9 1121.2,2311.7999999999997 V2322.1000000000004 C1121.2,2324.7000000000003 1122.7,2325.3 1130.5,2325.3 C1122.7,2325.3 1121.2,2325.9 1121.2,2328.5 V2339.6000000000004 C1121.2,2342.5 1119.2,2343.1000000000004 1111.5,2342.6000000000004" fill="none" stroke="#000" stroke-width="2.3" stroke-linecap="round" stroke-linejoin="round"/>
<path d="M1111.5,2354.0 C1119.2,2353.2999999999997 1121.2,2353.9 1121.2,2356.7999999999997 V2367.3 C1121.2,2369.9 1122.7,2370.5 1130.5,2370.5 C1122.7,2370.5 1121.2,2371.1 1121.2,2373.7 V2384.9 C1121.2,2387.7999999999997 1119.2,2388.4 1111.5,2387.9" fill="none" stroke="#000" stroke-width="2.3" stroke-linecap="round" stroke-linejoin="round"/>
<path d="M1111.5,2398.7000000000003 C1119.2,2398.0 1121.2,2398.6000000000004 1121.2,2401.5 V2411.7000000000003 C1121.2,2414.3 1122.7,2414.9 1130.5,2414.9 C1122.7,2414.9 1121.2,2415.5 1121.2,2418.1 V2429.3 C1121.2,2432.2 1119.2,2432.8 1111.5,2432.3" fill="none" stroke="#000" stroke-width="2.3" stroke-linecap="round" stroke-linejoin="round"/>
<text x="1148.0" y="2329.1" font-family='"Liberation Sans", sans-serif' font-size="15.8" font-weight="bold" fill="#000" text-anchor="start" textLength="9.6" lengthAdjust="spacingAndGlyphs" font-style="italic" stroke="#000" stroke-width="0.35">P</text>
<text x="1161.5" y="2329.1" font-family='"Liberation Sans", sans-serif' font-size="15.8" font-weight="bold" fill="#000" text-anchor="start" textLength="8.4" lengthAdjust="spacingAndGlyphs" stroke="#000" stroke-width="0.35">=</text>
<text x="1174.5" y="2329.1" font-family='"Liberation Sans", sans-serif' font-size="15.8" font-weight="bold" fill="#000" text-anchor="start" textLength="40.7" lengthAdjust="spacingAndGlyphs" stroke="#000" stroke-width="0.35">0.011</text>
<text x="1148.0" y="2372.9" font-family='"Liberation Sans", sans-serif' font-size="15.8" font-weight="bold" fill="#000" text-anchor="start" textLength="9.6" lengthAdjust="spacingAndGlyphs" font-style="italic" stroke="#000" stroke-width="0.35">P</text>
<text x="1161.5" y="2372.9" font-family='"Liberation Sans", sans-serif' font-size="15.8" font-weight="bold" fill="#000" text-anchor="start" textLength="8.4" lengthAdjust="spacingAndGlyphs" stroke="#000" stroke-width="0.35">&lt;</text>
<text x="1174.5" y="2372.9" font-family='"Liberation Sans", sans-serif' font-size="15.8" font-weight="bold" fill="#000" text-anchor="start" textLength="40.7" lengthAdjust="spacingAndGlyphs" stroke="#000" stroke-width="0.35">0.001</text>
<text x="1148.0" y="2420.2" font-family='"Liberation Sans", sans-serif' font-size="15.8" font-weight="bold" fill="#000" text-anchor="start" textLength="9.6" lengthAdjust="spacingAndGlyphs" font-style="italic" stroke="#000" stroke-width="0.35">P</text>
<text x="1161.5" y="2420.2" font-family='"Liberation Sans", sans-serif' font-size="15.8" font-weight="bold" fill="#000" text-anchor="start" textLength="8.4" lengthAdjust="spacingAndGlyphs" stroke="#000" stroke-width="0.35">=</text>
<text x="1174.5" y="2420.2" font-family='"Liberation Sans", sans-serif' font-size="15.8" font-weight="bold" fill="#000" text-anchor="start" textLength="40.7" lengthAdjust="spacingAndGlyphs" stroke="#000" stroke-width="0.35">0.030</text>
<text x="1" y="2489.5" font-family='"Liberation Serif", serif' font-size="26.4" font-weight="normal" fill="#000" text-anchor="start" textLength="1429" lengthAdjust="spacingAndGlyphs" >Abbreviations: IPSS, International Prognostic Scoring System; IPSS-M, Molecular International Prognostic Scoring System;</text>
<text x="1" y="2541.4" font-family='"Liberation Serif", serif' font-size="26.4" font-weight="normal" fill="#000" text-anchor="start" textLength="667" lengthAdjust="spacingAndGlyphs" >IPSS-R, Revised International Prognostic Scoring System.</text>
</svg>
</body></html>
